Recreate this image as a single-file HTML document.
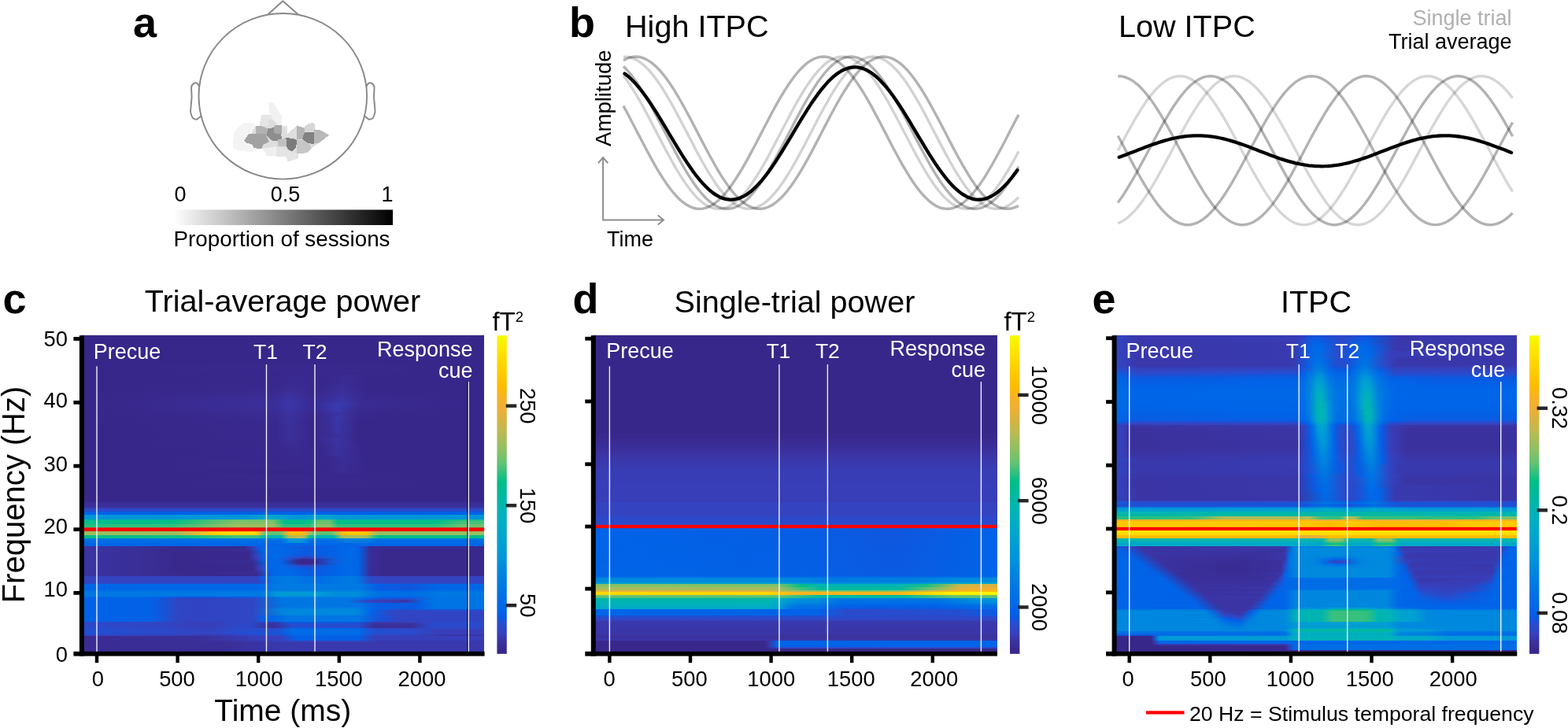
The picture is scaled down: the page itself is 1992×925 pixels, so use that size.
<!DOCTYPE html>
<html lang="en"><head><meta charset="utf-8"><title>ITPC figure</title>
<style>html,body{margin:0;padding:0;background:#fff}svg{display:block}text{font-family:"Liberation Sans", sans-serif;fill:#000}.b{font-weight:bold;font-size:54px}.t{font-size:39.6px}.k{font-size:27.4px}.w{fill:#fff;font-size:27px}.s{font-size:27px}</style>
</head><body>
<svg width="1992" height="925" viewBox="0 0 1992 925">
<rect width="1992" height="925" fill="#fff"/>
<defs>
<linearGradient id="gbar" x1="0" y1="0" x2="1" y2="0"><stop offset="0" stop-color="#fff"/><stop offset="1" stop-color="#000"/></linearGradient>
<linearGradient id="par" x1="0" y1="0" x2="0" y2="1"><stop offset="0.000" stop-color="#f5fc00"/><stop offset="0.034" stop-color="#fcec00"/><stop offset="0.071" stop-color="#ffdc00"/><stop offset="0.109" stop-color="#ffcd00"/><stop offset="0.158" stop-color="#ffbc00"/><stop offset="0.195" stop-color="#f6b226"/><stop offset="0.230" stop-color="#eeaf37"/><stop offset="0.269" stop-color="#d4b441"/><stop offset="0.294" stop-color="#c3b950"/><stop offset="0.324" stop-color="#aabc5a"/><stop offset="0.361" stop-color="#8cc064"/><stop offset="0.400" stop-color="#64c373"/><stop offset="0.425" stop-color="#3cc07d"/><stop offset="0.460" stop-color="#00be87"/><stop offset="0.504" stop-color="#00b9a0"/><stop offset="0.553" stop-color="#00b3b7"/><stop offset="0.603" stop-color="#00aac8"/><stop offset="0.652" stop-color="#00a0d2"/><stop offset="0.702" stop-color="#0094da"/><stop offset="0.739" stop-color="#0087de"/><stop offset="0.776" stop-color="#007ce1"/><stop offset="0.825" stop-color="#006ee6"/><stop offset="0.863" stop-color="#0064e8"/><stop offset="0.887" stop-color="#0c58e0"/><stop offset="0.905" stop-color="#284cce"/><stop offset="0.937" stop-color="#3740bc"/><stop offset="0.961" stop-color="#3b32a0"/><stop offset="0.986" stop-color="#39298e"/><stop offset="1.000" stop-color="#382688"/></linearGradient>
</defs>
<g id="panel-a">
<text class="b" x="169" y="46.800">a</text>
<g fill="none" stroke="#878787" stroke-width="1.900" stroke-linejoin="round">
<path d="M340.5 18.2 L359.3 1.2 L378.6 18.2"/>
<path d="M253.4 110.2 L251 106.200 Q249 104.800 246.800 105.6 Q243.500 107.3 243 111 L243.600 123.300 L242 141.500 Q242.600 146.500 245 150.2 Q247.500 151.8 250 151.8 L256 147"/>
<path d="M465.200 110.2 L467.600 106.200 Q469.600 104.800 471.800 105.6 Q475.100 107.3 475.600 111 L475 123.300 L476.600 141.500 Q476 146.500 473.600 150.2 Q471.100 151.8 468.600 151.8 L462.600 147"/>
<ellipse cx="359.300" cy="122.3" rx="106.800" ry="105.3" fill="#fff"/>
</g>
<g id="sensors" shape-rendering="crispEdges">
<polygon points="309.7,155.6 321.6,155.6 325.2,160.9 315.7,170.4 310.9,180.0 321.6,188.3 327.6,189.5 319.3,193.1 303.8,191.9 296.1,188.3 296.7,170.4 301.4,163.3" fill="#f4f4f4"/>
<polygon points="341.3,130.0 346.6,130.0 351.4,137.1 357.9,147.8 357.9,158.6 351.4,158.6 344.2,151.4 341.9,141.9" fill="#f1f1f1"/>
<polygon points="332.3,146.1 344.2,146.1 346.6,152.6 352.6,158.6 341.9,162.7 332.3,160.9 329.4,159.1" fill="#e6e6e6"/>
<polygon points="341.3,152.6 346.6,152.0 351.4,158.6 341.9,162.1" fill="#dcdcdc"/>
<polygon points="334.1,189.5 341.9,183.5 351.4,183.5 351.4,198.4 339.5,198.4" fill="#efefef"/>
<polygon points="351.4,185.9 363.3,187.1 368.0,191.9 378.7,193.1 378.7,201.4 365.7,205.5 363.3,199.0 351.4,199.0" fill="#e4e4e4"/>
<polygon points="357.9,160.3 364.5,160.3 365.1,170.4 363.3,174.6 357.9,175.2" fill="#e2e2e2"/>
<polygon points="365.1,169.9 377.0,169.9 377.0,177.6 365.1,175.2" fill="#dadada"/>
<polygon points="324.6,160.3 357.9,158.6 365.1,169.9 377.0,159.7 399.0,165.7 412.0,169.3 406.1,181.2 394.2,189.5 377.0,195.4 352.6,185.9 332.3,188.9 312.1,181.2" fill="#dedede"/>
<polygon points="324.6,160.3 332.3,160.3 340.7,163.3 339.5,171.6 325.2,170.4" fill="#b2b2b2"/>
<polygon points="315.7,170.4 337.1,170.4 341.9,180.0 334.7,183.5 332.3,188.9 322.8,188.3 320.4,183.5 312.1,181.2 310.3,178.8" fill="#a2a2a2"/>
<polygon points="347.8,159.7 357.9,158.6 357.9,170.4 347.8,169.3" fill="#a9a9a9"/>
<polygon points="340.7,163.3 347.8,162.1 347.8,169.3 357.3,170.4 357.9,178.8 346.6,178.8 344.2,177.6 338.3,171.6" fill="#8e8e8e"/>
<polygon points="352.6,177.6 363.3,175.2 364.5,185.9 352.6,185.9" fill="#c0c0c0"/>
<polygon points="363.3,174.6 376.4,177.0 377.0,182.3 375.2,188.9 371.6,191.9 367.4,191.3 364.5,187.1" fill="#7c7c7c"/>
<polygon points="377.0,177.6 387.1,178.8 394.2,183.5 395.4,189.5 391.8,193.1 384.7,195.4 377.0,195.4" fill="#c6c6c6"/>
<polygon points="377.0,159.7 387.1,162.7 387.1,169.3 384.1,176.4 377.0,177.6" fill="#b4b4b4"/>
<polygon points="387.1,159.7 397.2,155.6 400.2,158.6 400.7,166.9 387.1,166.9" fill="#d6d6d6"/>
<polygon points="399.0,165.1 406.1,165.1 412.0,168.1 418.0,171.6 412.0,176.4 406.1,181.2 399.0,182.3" fill="#b8b8b8"/>
<polygon points="387.1,168.1 399.0,168.1 399.0,183.5 389.4,181.2 384.1,176.4" fill="#828282"/>
</g>
<rect x="221" y="266.500" width="278" height="19.5" fill="url(#gbar)"/>
<text class="s" x="221.500" y="256.300">0</text>
<text class="s" x="362.500" y="256.300" text-anchor="middle">0.5</text>
<text class="s" x="499.500" y="256.300" text-anchor="end">1</text>
<text class="s" x="358" y="312.500" text-anchor="middle" style="font-size:27.8px">Proportion of sessions</text>
</g>
<g id="panel-b">
<text class="b" x="723" y="47">b</text>
<text class="t" x="794" y="47">High ITPC</text>
<text class="s" transform="translate(776 186) rotate(-90)" style="font-size:27.6px">Amplitude</text>
<g fill="none" stroke="#8e8e8e" stroke-width="2"><path d="M766.100 200.600 V279.400 H842.600"/><path d="M760 207.400 L766.100 200 L772.300 207.400"/><path d="M835.800 273.400 L843 279.400 L835.800 285.400"/></g>
<text class="s" x="771" y="312.500">Time</text>
<g fill="none" stroke-linecap="butt" stroke-linejoin="round">
<path d="M792.0 134.6 L796.2 142.3 L800.4 150.2 L804.5 158.2 L808.7 166.2 L812.9 174.3 L817.1 182.3 L821.3 190.3 L825.5 198.0 L829.6 205.6 L833.8 213.0 L838.0 220.0 L842.2 226.6 L846.4 232.9 L850.6 238.7 L854.8 244.0 L858.9 248.8 L863.1 253.1 L867.3 256.7 L871.5 259.7 L875.7 262.1 L879.9 263.9 L884.0 265.0 L888.2 265.4 L892.4 265.1 L896.6 264.2 L900.8 262.6 L905.0 260.4 L909.1 257.5 L913.3 254.0 L917.5 249.8 L921.7 245.2 L925.9 240.0 L930.0 234.3 L934.2 228.1 L938.4 221.5 L942.6 214.6 L946.8 207.3 L951.0 199.8 L955.1 192.1 L959.3 184.2 L963.5 176.1 L967.7 168.1 L971.9 160.0 L976.1 152.0 L980.2 144.1 L984.4 136.4 L988.6 128.9 L992.8 121.7 L997.0 114.8 L1001.2 108.3 L1005.4 102.2 L1009.5 96.6 L1013.7 91.5 L1017.9 86.9 L1022.1 82.9 L1026.3 79.4 L1030.5 76.7 L1034.6 74.5 L1038.8 73.0 L1043.0 72.2 L1047.2 72.0 L1051.4 72.5 L1055.5 73.7 L1059.7 75.6 L1063.9 78.1 L1068.1 81.2 L1072.3 85.0 L1076.5 89.3 L1080.7 94.2 L1084.8 99.6 L1089.0 105.5 L1093.2 111.8 L1097.4 118.5 L1101.6 125.6 L1105.8 132.9 L1109.9 140.6 L1114.1 148.4 L1118.3 156.3 L1122.5 164.4 L1126.7 172.4 L1130.8 180.5 L1135.0 188.5 L1139.2 196.3 L1143.4 203.9 L1147.6 211.3 L1151.8 218.4 L1156.0 225.2 L1160.1 231.5 L1164.3 237.4 L1168.5 242.9 L1172.7 247.8 L1176.9 252.1 L1181.0 255.9 L1185.2 259.1 L1189.4 261.7 L1193.6 263.6 L1197.8 264.8 L1202.0 265.4 L1206.2 265.3 L1210.3 264.5 L1214.5 263.0 L1218.7 260.9 L1222.9 258.2 L1227.1 254.8 L1231.2 250.8 L1235.4 246.3 L1239.6 241.2 L1243.8 235.6 L1248.0 229.6 L1252.2 223.1 L1256.3 216.2 L1260.5 209.0 L1264.7 201.5 L1268.9 193.8 L1273.1 186.0 L1277.3 178.0 L1281.5 169.9 L1285.6 161.8 L1289.8 153.8 L1294.0 145.9" stroke="#000" stroke-opacity="0.300" stroke-width="3.400"/>
<path d="M792.0 96.2 L796.2 101.8 L800.4 107.9 L804.5 114.4 L808.7 121.2 L812.9 128.4 L817.1 135.9 L821.3 143.6 L825.5 151.5 L829.6 159.5 L833.8 167.6 L838.0 175.6 L842.2 183.7 L846.4 191.6 L850.6 199.3 L854.8 206.9 L858.9 214.2 L863.1 221.1 L867.3 227.7 L871.5 233.9 L875.7 239.6 L879.9 244.9 L884.0 249.6 L888.2 253.7 L892.4 257.3 L896.6 260.2 L900.8 262.5 L905.0 264.1 L909.1 265.1 L913.3 265.4 L917.5 265.0 L921.7 264.0 L925.9 262.3 L930.0 259.9 L934.2 256.9 L938.4 253.3 L942.6 249.1 L946.8 244.3 L951.0 239.1 L955.1 233.3 L959.3 227.0 L963.5 220.4 L967.7 213.4 L971.9 206.1 L976.1 198.5 L980.2 190.8 L984.4 182.8 L988.6 174.8 L992.8 166.7 L997.0 158.7 L1001.2 150.7 L1005.4 142.8 L1009.5 135.1 L1013.7 127.7 L1017.9 120.5 L1022.1 113.7 L1026.3 107.2 L1030.5 101.2 L1034.6 95.7 L1038.8 90.7 L1043.0 86.2 L1047.2 82.2 L1051.4 78.9 L1055.5 76.2 L1059.7 74.2 L1063.9 72.8 L1068.1 72.1 L1072.3 72.1 L1076.5 72.7 L1080.7 74.0 L1084.8 76.0 L1089.0 78.6 L1093.2 81.8 L1097.4 85.6 L1101.6 90.1 L1105.8 95.0 L1109.9 100.5 L1114.1 106.5 L1118.3 112.9 L1122.5 119.7 L1126.7 126.8 L1130.8 134.2 L1135.0 141.9 L1139.2 149.7 L1143.4 157.7 L1147.6 165.7 L1151.8 173.8 L1156.0 181.8 L1160.1 189.8 L1164.3 197.6 L1168.5 205.2 L1172.7 212.5 L1176.9 219.6 L1181.0 226.2 L1185.2 232.5 L1189.4 238.4 L1193.6 243.7 L1197.8 248.5 L1202.0 252.8 L1206.2 256.5 L1210.3 259.6 L1214.5 262.0 L1218.7 263.8 L1222.9 264.9 L1227.1 265.4 L1231.2 265.2 L1235.4 264.3 L1239.6 262.7 L1243.8 260.5 L1248.0 257.7 L1252.2 254.2 L1256.3 250.1 L1260.5 245.5 L1264.7 240.3 L1268.9 234.6 L1273.1 228.5 L1277.3 221.9 L1281.5 215.0 L1285.6 207.8 L1289.8 200.3 L1294.0 192.5" stroke="#000" stroke-opacity="0.175" stroke-width="3.400"/>
<path d="M792.0 84.3 L796.2 88.5 L800.4 93.3 L804.5 98.7 L808.7 104.5 L812.9 110.7 L817.1 117.4 L821.3 124.4 L825.5 131.7 L829.6 139.3 L833.8 147.1 L838.0 155.0 L842.2 163.1 L846.4 171.1 L850.6 179.2 L854.8 187.2 L858.9 195.0 L863.1 202.7 L867.3 210.1 L871.5 217.3 L875.7 224.1 L879.9 230.5 L884.0 236.5 L888.2 242.0 L892.4 247.0 L896.6 251.5 L900.8 255.4 L905.0 258.6 L909.1 261.3 L913.3 263.3 L917.5 264.6 L921.7 265.3 L925.9 265.3 L930.0 264.6 L934.2 263.3 L938.4 261.3 L942.6 258.7 L946.8 255.4 L951.0 251.5 L955.1 247.1 L959.3 242.1 L963.5 236.6 L967.7 230.6 L971.9 224.2 L976.1 217.4 L980.2 210.2 L984.4 202.8 L988.6 195.1 L992.8 187.3 L997.0 179.3 L1001.2 171.2 L1005.4 163.2 L1009.5 155.1 L1013.7 147.2 L1017.9 139.4 L1022.1 131.8 L1026.3 124.5 L1030.5 117.5 L1034.6 110.8 L1038.8 104.5 L1043.0 98.7 L1047.2 93.4 L1051.4 88.6 L1055.5 84.4 L1059.7 80.7 L1063.9 77.7 L1068.1 75.3 L1072.3 73.5 L1076.5 72.4 L1080.7 72.0 L1084.8 72.3 L1089.0 73.2 L1093.2 74.8 L1097.4 77.0 L1101.6 79.9 L1105.8 83.4 L1109.9 87.5 L1114.1 92.2 L1118.3 97.4 L1122.5 103.1 L1126.7 109.3 L1130.8 115.8 L1135.0 122.8 L1139.2 130.0 L1143.4 137.6 L1147.6 145.3 L1151.8 153.2 L1156.0 161.2 L1160.1 169.3 L1164.3 177.4 L1168.5 185.4 L1172.7 193.3 L1176.9 201.0 L1181.0 208.5 L1185.2 215.7 L1189.4 222.6 L1193.6 229.1 L1197.8 235.2 L1202.0 240.8 L1206.2 245.9 L1210.3 250.5 L1214.5 254.5 L1218.7 257.9 L1222.9 260.7 L1227.1 262.9 L1231.2 264.4 L1235.4 265.2 L1239.6 265.4 L1243.8 264.9 L1248.0 263.7 L1252.2 261.8 L1256.3 259.3 L1260.5 256.2 L1264.7 252.5 L1268.9 248.1 L1273.1 243.3 L1277.3 237.9 L1281.5 232.0 L1285.6 225.7 L1289.8 218.9 L1294.0 211.9" stroke="#000" stroke-opacity="0.300" stroke-width="3.400"/>
<path d="M792.0 72.1 L796.2 72.1 L800.4 72.8 L804.5 74.1 L808.7 76.1 L812.9 78.8 L817.1 82.1 L821.3 85.9 L825.5 90.4 L829.6 95.4 L833.8 100.9 L838.0 106.9 L842.2 113.3 L846.4 120.2 L850.6 127.3 L854.8 134.7 L858.9 142.4 L863.1 150.3 L867.3 158.2 L871.5 166.3 L875.7 174.4 L879.9 182.4 L884.0 190.3 L888.2 198.1 L892.4 205.7 L896.6 213.0 L900.8 220.1 L905.0 226.7 L909.1 233.0 L913.3 238.8 L917.5 244.1 L921.7 248.9 L925.9 253.1 L930.0 256.7 L934.2 259.8 L938.4 262.2 L942.6 263.9 L946.8 265.0 L951.0 265.4 L955.1 265.1 L959.3 264.2 L963.5 262.6 L967.7 260.3 L971.9 257.4 L976.1 253.9 L980.2 249.8 L984.4 245.1 L988.6 239.9 L992.8 234.2 L997.0 228.0 L1001.2 221.5 L1005.4 214.5 L1009.5 207.3 L1013.7 199.7 L1017.9 192.0 L1022.1 184.1 L1026.3 176.0 L1030.5 168.0 L1034.6 159.9 L1038.8 151.9 L1043.0 144.0 L1047.2 136.3 L1051.4 128.8 L1055.5 121.6 L1059.7 114.7 L1063.9 108.2 L1068.1 102.1 L1072.3 96.5 L1076.5 91.4 L1080.7 86.8 L1084.8 82.8 L1089.0 79.4 L1093.2 76.6 L1097.4 74.5 L1101.6 73.0 L1105.8 72.2 L1109.9 72.0 L1114.1 72.6 L1118.3 73.8 L1122.5 75.6 L1126.7 78.1 L1130.8 81.3 L1135.0 85.0 L1139.2 89.3 L1143.4 94.2 L1147.6 99.6 L1151.8 105.5 L1156.0 111.9 L1160.1 118.6 L1164.3 125.7 L1168.5 133.0 L1172.7 140.6 L1176.9 148.5 L1181.0 156.4 L1185.2 164.5 L1189.4 172.5 L1193.6 180.6 L1197.8 188.6 L1202.0 196.4 L1206.2 204.0 L1210.3 211.4 L1214.5 218.5 L1218.7 225.2 L1222.9 231.6 L1227.1 237.5 L1231.2 242.9 L1235.4 247.8 L1239.6 252.2 L1243.8 256.0 L1248.0 259.1 L1252.2 261.7 L1256.3 263.6 L1260.5 264.8 L1264.7 265.4 L1268.9 265.2 L1273.1 264.5 L1277.3 263.0 L1281.5 260.9 L1285.6 258.1 L1289.8 254.8 L1294.0 250.8" stroke="#000" stroke-opacity="0.175" stroke-width="3.400"/>
<path d="M792.0 76.7 L796.2 74.5 L800.4 73.0 L804.5 72.2 L808.7 72.0 L812.9 72.5 L817.1 73.7 L821.3 75.6 L825.5 78.1 L829.6 81.2 L833.8 84.9 L838.0 89.2 L842.2 94.1 L846.4 99.5 L850.6 105.4 L854.8 111.7 L858.9 118.4 L863.1 125.5 L867.3 132.8 L871.5 140.5 L875.7 148.3 L879.9 156.2 L884.0 164.3 L888.2 172.4 L892.4 180.4 L896.6 188.4 L900.8 196.2 L905.0 203.8 L909.1 211.2 L913.3 218.3 L917.5 225.1 L921.7 231.4 L925.9 237.4 L930.0 242.8 L934.2 247.7 L938.4 252.1 L942.6 255.9 L946.8 259.1 L951.0 261.6 L955.1 263.5 L959.3 264.8 L963.5 265.4 L967.7 265.3 L971.9 264.5 L976.1 263.0 L980.2 261.0 L984.4 258.2 L988.6 254.8 L992.8 250.9 L997.0 246.3 L1001.2 241.3 L1005.4 235.7 L1009.5 229.6 L1013.7 223.2 L1017.9 216.3 L1022.1 209.1 L1026.3 201.6 L1030.5 193.9 L1034.6 186.1 L1038.8 178.1 L1043.0 170.0 L1047.2 161.9 L1051.4 153.9 L1055.5 146.0 L1059.7 138.2 L1063.9 130.7 L1068.1 123.4 L1072.3 116.4 L1076.5 109.8 L1080.7 103.6 L1084.8 97.9 L1089.0 92.6 L1093.2 87.9 L1097.4 83.8 L1101.6 80.2 L1105.8 77.3 L1109.9 75.0 L1114.1 73.3 L1118.3 72.3 L1122.5 72.0 L1126.7 72.4 L1130.8 73.4 L1135.0 75.1 L1139.2 77.4 L1143.4 80.4 L1147.6 84.0 L1151.8 88.2 L1156.0 93.0 L1160.1 98.2 L1164.3 104.0 L1168.5 110.2 L1172.7 116.9 L1176.9 123.8 L1181.0 131.1 L1185.2 138.7 L1189.4 146.5 L1193.6 154.4 L1197.8 162.4 L1202.0 170.5 L1206.2 178.6 L1210.3 186.6 L1214.5 194.4 L1218.7 202.1 L1222.9 209.6 L1227.1 216.7 L1231.2 223.6 L1235.4 230.0 L1239.6 236.1 L1243.8 241.6 L1248.0 246.7 L1252.2 251.2 L1256.3 255.1 L1260.5 258.4 L1264.7 261.1 L1268.9 263.2 L1273.1 264.6 L1277.3 265.3 L1281.5 265.3 L1285.6 264.7 L1289.8 263.4 L1294.0 261.5" stroke="#000" stroke-opacity="0.300" stroke-width="3.400"/>
<path d="M793.5 93.5 L797.7 96.7 L801.8 100.5 L806.0 104.7 L810.1 109.4 L814.3 114.5 L818.5 120.0 L822.6 125.8 L826.8 131.9 L830.9 138.3 L835.1 144.9 L839.2 151.7 L843.4 158.6 L847.6 165.5 L851.7 172.5 L855.9 179.5 L860.0 186.4 L864.2 193.2 L868.4 199.8 L872.5 206.2 L876.7 212.3 L880.8 218.2 L885.0 223.7 L889.1 228.9 L893.3 233.6 L897.5 237.9 L901.6 241.8 L905.8 245.1 L909.9 247.9 L914.1 250.2 L918.2 251.9 L922.4 253.1 L926.6 253.6 L930.7 253.6 L934.9 253.0 L939.0 251.9 L943.2 250.1 L947.4 247.9 L951.5 245.0 L955.7 241.7 L959.8 237.9 L964.0 233.5 L968.1 228.8 L972.3 223.6 L976.5 218.1 L980.6 212.2 L984.8 206.1 L988.9 199.6 L993.1 193.0 L997.3 186.2 L1001.4 179.3 L1005.6 172.4 L1009.7 165.4 L1013.9 158.4 L1018.0 151.5 L1022.2 144.8 L1026.4 138.2 L1030.5 131.8 L1034.7 125.7 L1038.8 119.9 L1043.0 114.4 L1047.2 109.3 L1051.3 104.6 L1055.5 100.4 L1059.6 96.7 L1063.8 93.4 L1068.0 90.7 L1072.1 88.5 L1076.3 86.9 L1080.4 85.8 L1084.6 85.3 L1088.7 85.4 L1092.9 86.1 L1097.1 87.4 L1101.2 89.2 L1105.4 91.6 L1109.5 94.5 L1113.7 97.9 L1117.8 101.8 L1122.0 106.2 L1126.2 111.0 L1130.3 116.2 L1134.5 121.8 L1138.6 127.8 L1142.8 134.0 L1147.0 140.4 L1151.1 147.1 L1155.3 153.9 L1159.4 160.8 L1163.6 167.8 L1167.8 174.8 L1171.9 181.7 L1176.1 188.6 L1180.2 195.3 L1184.4 201.9 L1188.5 208.2 L1192.7 214.3 L1196.9 220.0 L1201.0 225.4 L1205.2 230.5 L1209.3 235.1 L1213.5 239.2 L1217.7 242.9 L1221.8 246.1 L1226.0 248.7 L1230.1 250.8 L1234.3 252.3 L1238.4 253.3 L1242.6 253.7 L1246.8 253.5 L1250.9 252.7 L1255.1 251.4 L1259.2 249.5 L1263.4 247.0 L1267.5 244.0 L1271.7 240.5 L1275.9 236.5 L1280.0 232.1 L1284.2 227.2 L1288.3 221.9 L1292.5 216.2" stroke="#000" stroke-width="4.300" stroke-linecap="round"/>
<path d="M1420.2 96.7 L1424.4 96.9 L1428.6 97.8 L1432.7 99.3 L1436.9 101.4 L1441.1 104.2 L1445.3 107.6 L1449.4 111.5 L1453.6 116.1 L1457.8 121.1 L1462.0 126.6 L1466.2 132.6 L1470.3 139.0 L1474.5 145.7 L1478.7 152.8 L1482.9 160.1 L1487.1 167.6 L1491.2 175.3 L1495.4 183.2 L1499.6 191.0 L1503.8 198.9 L1507.9 206.7 L1512.1 214.4 L1516.3 222.0 L1520.5 229.3 L1524.7 236.4 L1528.8 243.2 L1533.0 249.6 L1537.2 255.6 L1541.4 261.1 L1545.5 266.2 L1549.7 270.7 L1553.9 274.7 L1558.1 278.1 L1562.3 280.9 L1566.4 283.0 L1570.6 284.6 L1574.8 285.5 L1579.0 285.7 L1583.2 285.3 L1587.3 284.2 L1591.5 282.5 L1595.7 280.1 L1599.9 277.1 L1604.0 273.5 L1608.2 269.4 L1612.4 264.7 L1616.6 259.5 L1620.8 253.8 L1624.9 247.7 L1629.1 241.2 L1633.3 234.3 L1637.5 227.2 L1641.7 219.8 L1645.8 212.1 L1650.0 204.4 L1654.2 196.6 L1658.4 188.7 L1662.5 180.8 L1666.7 173.0 L1670.9 165.4 L1675.1 157.9 L1679.3 150.6 L1683.4 143.6 L1687.6 137.0 L1691.8 130.7 L1696.0 124.9 L1700.1 119.5 L1704.3 114.6 L1708.5 110.3 L1712.7 106.5 L1716.9 103.3 L1721.0 100.7 L1725.2 98.8 L1729.4 97.4 L1733.6 96.8 L1737.8 96.8 L1741.9 97.4 L1746.1 98.7 L1750.3 100.7 L1754.5 103.3 L1758.6 106.4 L1762.8 110.2 L1767.0 114.6 L1771.2 119.4 L1775.4 124.8 L1779.5 130.6 L1783.7 136.9 L1787.9 143.5 L1792.1 150.5 L1796.2 157.7 L1800.4 165.2 L1804.6 172.9 L1808.8 180.7 L1813.0 188.5 L1817.1 196.4 L1821.3 204.3 L1825.5 212.0 L1829.7 219.6 L1833.9 227.0 L1838.0 234.2 L1842.2 241.1 L1846.4 247.6 L1850.6 253.7 L1854.7 259.4 L1858.9 264.6 L1863.1 269.3 L1867.3 273.5 L1871.5 277.1 L1875.6 280.0 L1879.8 282.4 L1884.0 284.2 L1888.2 285.3 L1892.4 285.7 L1896.5 285.5 L1900.7 284.6 L1904.9 283.1 L1909.1 280.9 L1913.2 278.1 L1917.4 274.7 L1921.6 270.8" stroke="#000" stroke-opacity="0.300" stroke-width="3.400"/>
<path d="M1420.2 191.2 L1424.4 183.4 L1428.6 175.6 L1432.7 167.8 L1436.9 160.3 L1441.1 153.0 L1445.3 145.9 L1449.4 139.1 L1453.6 132.7 L1457.8 126.8 L1462.0 121.2 L1466.2 116.2 L1470.3 111.7 L1474.5 107.7 L1478.7 104.3 L1482.9 101.5 L1487.1 99.3 L1491.2 97.8 L1495.4 96.9 L1499.6 96.7 L1503.8 97.1 L1507.9 98.2 L1512.1 100.0 L1516.3 102.3 L1520.5 105.3 L1524.7 108.9 L1528.8 113.1 L1533.0 117.8 L1537.2 123.0 L1541.4 128.7 L1545.5 134.8 L1549.7 141.3 L1553.9 148.2 L1558.1 155.3 L1562.3 162.8 L1566.4 170.4 L1570.6 178.1 L1574.8 186.0 L1579.0 193.8 L1583.2 201.7 L1587.3 209.5 L1591.5 217.2 L1595.7 224.6 L1599.9 231.9 L1604.0 238.9 L1608.2 245.5 L1612.4 251.7 L1616.6 257.6 L1620.8 263.0 L1624.9 267.8 L1629.1 272.2 L1633.3 275.9 L1637.5 279.1 L1641.7 281.7 L1645.8 283.7 L1650.0 285.0 L1654.2 285.6 L1658.4 285.6 L1662.5 285.0 L1666.7 283.6 L1670.9 281.7 L1675.1 279.1 L1679.3 275.9 L1683.4 272.1 L1687.6 267.8 L1691.8 262.9 L1696.0 257.5 L1700.1 251.7 L1704.3 245.4 L1708.5 238.8 L1712.7 231.8 L1716.9 224.5 L1721.0 217.1 L1725.2 209.4 L1729.4 201.6 L1733.6 193.7 L1737.8 185.9 L1741.9 178.0 L1746.1 170.3 L1750.3 162.7 L1754.5 155.3 L1758.6 148.1 L1762.8 141.2 L1767.0 134.7 L1771.2 128.6 L1775.4 122.9 L1779.5 117.7 L1783.7 113.0 L1787.9 108.9 L1792.1 105.3 L1796.2 102.3 L1800.4 99.9 L1804.6 98.2 L1808.8 97.1 L1813.0 96.7 L1817.1 96.9 L1821.3 97.8 L1825.5 99.4 L1829.7 101.5 L1833.9 104.3 L1838.0 107.7 L1842.2 111.7 L1846.4 116.2 L1850.6 121.3 L1854.7 126.8 L1858.9 132.8 L1863.1 139.2 L1867.3 146.0 L1871.5 153.0 L1875.6 160.4 L1879.8 167.9 L1884.0 175.6 L1888.2 183.5 L1892.4 191.3 L1896.5 199.2 L1900.7 207.0 L1904.9 214.7 L1909.1 222.3 L1913.2 229.6 L1917.4 236.7 L1921.6 243.4" stroke="#000" stroke-opacity="0.160" stroke-width="3.400"/>
<path d="M1420.2 257.5 L1424.4 251.6 L1428.6 245.4 L1432.7 238.7 L1436.9 231.7 L1441.1 224.5 L1445.3 217.0 L1449.4 209.3 L1453.6 201.6 L1457.8 193.7 L1462.0 185.8 L1466.2 178.0 L1470.3 170.2 L1474.5 162.6 L1478.7 155.2 L1482.9 148.1 L1487.1 141.2 L1491.2 134.7 L1495.4 128.6 L1499.6 122.9 L1503.8 117.7 L1507.9 113.0 L1512.1 108.8 L1516.3 105.3 L1520.5 102.3 L1524.7 99.9 L1528.8 98.2 L1533.0 97.1 L1537.2 96.7 L1541.4 96.9 L1545.5 97.8 L1549.7 99.4 L1553.9 101.5 L1558.1 104.3 L1562.3 107.7 L1566.4 111.7 L1570.6 116.3 L1574.8 121.3 L1579.0 126.9 L1583.2 132.9 L1587.3 139.3 L1591.5 146.0 L1595.7 153.1 L1599.9 160.4 L1604.0 168.0 L1608.2 175.7 L1612.4 183.5 L1616.6 191.4 L1620.8 199.3 L1624.9 207.1 L1629.1 214.8 L1633.3 222.3 L1637.5 229.7 L1641.7 236.7 L1645.8 243.5 L1650.0 249.8 L1654.2 255.8 L1658.4 261.3 L1662.5 266.4 L1666.7 270.9 L1670.9 274.8 L1675.1 278.2 L1679.3 281.0 L1683.4 283.1 L1687.6 284.6 L1691.8 285.5 L1696.0 285.7 L1700.1 285.2 L1704.3 284.1 L1708.5 282.4 L1712.7 280.0 L1716.9 277.0 L1721.0 273.4 L1725.2 269.2 L1729.4 264.5 L1733.6 259.2 L1737.8 253.5 L1741.9 247.4 L1746.1 240.9 L1750.3 234.0 L1754.5 226.8 L1758.6 219.4 L1762.8 211.8 L1767.0 204.0 L1771.2 196.2 L1775.4 188.3 L1779.5 180.4 L1783.7 172.7 L1787.9 165.0 L1792.1 157.5 L1796.2 150.3 L1800.4 143.3 L1804.6 136.7 L1808.8 130.5 L1813.0 124.6 L1817.1 119.3 L1821.3 114.4 L1825.5 110.1 L1829.7 106.3 L1833.9 103.2 L1838.0 100.6 L1842.2 98.7 L1846.4 97.4 L1850.6 96.8 L1854.7 96.8 L1858.9 97.5 L1863.1 98.8 L1867.3 100.8 L1871.5 103.4 L1875.6 106.6 L1879.8 110.4 L1884.0 114.8 L1888.2 119.7 L1892.4 125.1 L1896.5 130.9 L1900.7 137.2 L1904.9 143.8 L1909.1 150.8 L1913.2 158.1 L1917.4 165.6 L1921.6 173.2" stroke="#000" stroke-opacity="0.300" stroke-width="3.400"/>
<path d="M1420.2 283.8 L1424.4 281.9 L1428.6 279.4 L1432.7 276.3 L1436.9 272.5 L1441.1 268.2 L1445.3 263.4 L1449.4 258.1 L1453.6 252.3 L1457.8 246.1 L1462.0 239.5 L1466.2 232.5 L1470.3 225.3 L1474.5 217.8 L1478.7 210.2 L1482.9 202.4 L1487.1 194.5 L1491.2 186.7 L1495.4 178.8 L1499.6 171.0 L1503.8 163.4 L1507.9 156.0 L1512.1 148.8 L1516.3 141.9 L1520.5 135.4 L1524.7 129.2 L1528.8 123.5 L1533.0 118.2 L1537.2 113.5 L1541.4 109.3 L1545.5 105.6 L1549.7 102.6 L1553.9 100.2 L1558.1 98.4 L1562.3 97.2 L1566.4 96.7 L1570.6 96.9 L1574.8 97.7 L1579.0 99.2 L1583.2 101.3 L1587.3 104.0 L1591.5 107.4 L1595.7 111.3 L1599.9 115.8 L1604.0 120.8 L1608.2 126.3 L1612.4 132.2 L1616.6 138.6 L1620.8 145.3 L1624.9 152.3 L1629.1 159.6 L1633.3 167.2 L1637.5 174.9 L1641.7 182.7 L1645.8 190.5 L1650.0 198.4 L1654.2 206.3 L1658.4 214.0 L1662.5 221.5 L1666.7 228.9 L1670.9 236.0 L1675.1 242.8 L1679.3 249.2 L1683.4 255.2 L1687.6 260.8 L1691.8 265.9 L1696.0 270.4 L1700.1 274.4 L1704.3 277.9 L1708.5 280.7 L1712.7 282.9 L1716.9 284.5 L1721.0 285.4 L1725.2 285.7 L1729.4 285.3 L1733.6 284.3 L1737.8 282.6 L1741.9 280.3 L1746.1 277.3 L1750.3 273.8 L1754.5 269.7 L1758.6 265.0 L1762.8 259.8 L1767.0 254.2 L1771.2 248.1 L1775.4 241.6 L1779.5 234.7 L1783.7 227.6 L1787.9 220.2 L1792.1 212.6 L1796.2 204.9 L1800.4 197.0 L1804.6 189.2 L1808.8 181.3 L1813.0 173.5 L1817.1 165.8 L1821.3 158.3 L1825.5 151.1 L1829.7 144.1 L1833.9 137.4 L1838.0 131.1 L1842.2 125.3 L1846.4 119.8 L1850.6 114.9 L1854.7 110.5 L1858.9 106.7 L1863.1 103.5 L1867.3 100.9 L1871.5 98.9 L1875.6 97.5 L1879.8 96.8 L1884.0 96.8 L1888.2 97.4 L1892.4 98.6 L1896.5 100.5 L1900.7 103.1 L1904.9 106.2 L1909.1 110.0 L1913.2 114.3 L1917.4 119.1 L1921.6 124.5" stroke="#000" stroke-opacity="0.160" stroke-width="3.400"/>
<path d="M1420.2 172.5 L1424.4 180.3 L1428.6 188.1 L1432.7 196.0 L1436.9 203.9 L1441.1 211.6 L1445.3 219.3 L1449.4 226.7 L1453.6 233.8 L1457.8 240.7 L1462.0 247.3 L1466.2 253.4 L1470.3 259.1 L1474.5 264.4 L1478.7 269.1 L1482.9 273.3 L1487.1 276.9 L1491.2 279.9 L1495.4 282.3 L1499.6 284.1 L1503.8 285.2 L1507.9 285.7 L1512.1 285.5 L1516.3 284.7 L1520.5 283.2 L1524.7 281.0 L1528.8 278.3 L1533.0 274.9 L1537.2 271.0 L1541.4 266.5 L1545.5 261.4 L1549.7 255.9 L1553.9 250.0 L1558.1 243.6 L1562.3 236.9 L1566.4 229.8 L1570.6 222.5 L1574.8 215.0 L1579.0 207.3 L1583.2 199.4 L1587.3 191.6 L1591.5 183.7 L1595.7 175.9 L1599.9 168.1 L1604.0 160.6 L1608.2 153.2 L1612.4 146.2 L1616.6 139.4 L1620.8 133.0 L1624.9 127.0 L1629.1 121.4 L1633.3 116.4 L1637.5 111.8 L1641.7 107.8 L1645.8 104.4 L1650.0 101.6 L1654.2 99.4 L1658.4 97.9 L1662.5 97.0 L1666.7 96.7 L1670.9 97.1 L1675.1 98.2 L1679.3 99.9 L1683.4 102.2 L1687.6 105.2 L1691.8 108.8 L1696.0 112.9 L1700.1 117.6 L1704.3 122.8 L1708.5 128.5 L1712.7 134.6 L1716.9 141.1 L1721.0 147.9 L1725.2 155.1 L1729.4 162.5 L1733.6 170.1 L1737.8 177.8 L1741.9 185.6 L1746.1 193.5 L1750.3 201.4 L1754.5 209.2 L1758.6 216.9 L1762.8 224.3 L1767.0 231.6 L1771.2 238.6 L1775.4 245.2 L1779.5 251.5 L1783.7 257.4 L1787.9 262.7 L1792.1 267.6 L1796.2 272.0 L1800.4 275.8 L1804.6 279.0 L1808.8 281.6 L1813.0 283.6 L1817.1 284.9 L1821.3 285.6 L1825.5 285.6 L1829.7 285.0 L1833.9 283.7 L1838.0 281.8 L1842.2 279.2 L1846.4 276.0 L1850.6 272.3 L1854.7 268.0 L1858.9 263.1 L1863.1 257.7 L1867.3 251.9 L1871.5 245.7 L1875.6 239.0 L1879.8 232.1 L1884.0 224.8 L1888.2 217.4 L1892.4 209.7 L1896.5 201.9 L1900.7 194.1 L1904.9 186.2 L1909.1 178.3 L1913.2 170.6 L1917.4 163.0 L1921.6 155.5" stroke="#000" stroke-opacity="0.300" stroke-width="3.400"/>
<path d="M1421.7 199.7 L1425.9 198.2 L1430.0 196.7 L1434.2 195.1 L1438.3 193.5 L1442.5 191.9 L1446.6 190.3 L1450.8 188.7 L1454.9 187.1 L1459.1 185.5 L1463.2 184.0 L1467.4 182.6 L1471.5 181.2 L1475.7 179.9 L1479.8 178.6 L1484.0 177.5 L1488.2 176.4 L1492.3 175.5 L1496.5 174.7 L1500.6 174.0 L1504.8 173.4 L1508.9 172.9 L1513.1 172.6 L1517.2 172.4 L1521.4 172.3 L1525.5 172.4 L1529.7 172.6 L1533.8 172.9 L1538.0 173.4 L1542.1 173.9 L1546.3 174.7 L1550.5 175.5 L1554.6 176.4 L1558.8 177.5 L1562.9 178.6 L1567.1 179.9 L1571.2 181.2 L1575.4 182.6 L1579.5 184.0 L1583.7 185.5 L1587.8 187.1 L1592.0 188.7 L1596.1 190.3 L1600.3 191.9 L1604.4 193.5 L1608.6 195.1 L1612.8 196.7 L1616.9 198.2 L1621.1 199.7 L1625.2 201.2 L1629.4 202.6 L1633.5 203.9 L1637.7 205.1 L1641.8 206.2 L1646.0 207.3 L1650.1 208.2 L1654.3 209.0 L1658.4 209.7 L1662.6 210.3 L1666.7 210.7 L1670.9 211.1 L1675.1 211.2 L1679.2 211.3 L1683.4 211.2 L1687.5 211.0 L1691.7 210.7 L1695.8 210.2 L1700.0 209.6 L1704.1 208.9 L1708.3 208.0 L1712.4 207.1 L1716.6 206.0 L1720.7 204.8 L1724.9 203.6 L1729.0 202.3 L1733.2 200.9 L1737.4 199.4 L1741.5 197.9 L1745.7 196.3 L1749.8 194.8 L1754.0 193.1 L1758.1 191.5 L1762.3 189.9 L1766.4 188.3 L1770.6 186.7 L1774.7 185.2 L1778.9 183.7 L1783.0 182.3 L1787.2 180.9 L1791.3 179.6 L1795.5 178.4 L1799.7 177.2 L1803.8 176.2 L1808.0 175.3 L1812.1 174.5 L1816.3 173.8 L1820.4 173.2 L1824.6 172.8 L1828.7 172.5 L1832.9 172.3 L1837.0 172.3 L1841.2 172.4 L1845.3 172.6 L1849.5 173.0 L1853.6 173.5 L1857.8 174.1 L1862.0 174.8 L1866.1 175.7 L1870.3 176.7 L1874.4 177.7 L1878.6 178.9 L1882.7 180.2 L1886.9 181.5 L1891.0 182.9 L1895.2 184.4 L1899.3 185.9 L1903.5 187.4 L1907.6 189.0 L1911.8 190.6 L1915.9 192.3 L1920.1 193.9" stroke="#000" stroke-width="4.300" stroke-linecap="round"/>
</g>
<text class="t" x="1421" y="47">Low ITPC</text>
<text class="s" x="1920.500" y="32" text-anchor="end" style="fill:#b0b0b0">Single trial</text>
<text class="s" x="1920.500" y="62" text-anchor="end">Trial average</text>
</g>
<g id="panel-c">
<text class="b" x="3.5" y="397.5">c</text>
<text class="t" x="359" y="396.4" text-anchor="middle">Trial-average power</text>
<g id="heat-c" shape-rendering="crispEdges">
<defs>
<linearGradient id="gc0"><stop offset="0" stop-color="#38278a"/><stop offset="0.556" stop-color="#38278a"/><stop offset="1" stop-color="#38278a"/></linearGradient>
<linearGradient id="gc1"><stop offset="0" stop-color="#38278a"/><stop offset="0.545" stop-color="#38278a"/><stop offset="0.677" stop-color="#38278a"/><stop offset="1" stop-color="#38278a"/></linearGradient>
<linearGradient id="gc2"><stop offset="0" stop-color="#38278a"/><stop offset="0.545" stop-color="#38278b"/><stop offset="0.667" stop-color="#38278b"/><stop offset="1" stop-color="#38278a"/></linearGradient>
<linearGradient id="gc3"><stop offset="0" stop-color="#38278a"/><stop offset="0.495" stop-color="#39298d"/><stop offset="0.626" stop-color="#39298f"/><stop offset="1" stop-color="#38278a"/></linearGradient>
<linearGradient id="gc4"><stop offset="0" stop-color="#38278a"/><stop offset="0.495" stop-color="#39298d"/><stop offset="0.616" stop-color="#39288d"/><stop offset="1" stop-color="#38278a"/></linearGradient>
<linearGradient id="gc5"><stop offset="0" stop-color="#38278a"/><stop offset="0.495" stop-color="#39298e"/><stop offset="0.616" stop-color="#39298d"/><stop offset="1" stop-color="#38278a"/></linearGradient>
<linearGradient id="gc6"><stop offset="0" stop-color="#38278a"/><stop offset="0.495" stop-color="#39298e"/><stop offset="0.616" stop-color="#39298e"/><stop offset="1" stop-color="#38278a"/></linearGradient>
<linearGradient id="gc7"><stop offset="0" stop-color="#38278a"/><stop offset="0.485" stop-color="#39288c"/><stop offset="0.535" stop-color="#39288d"/><stop offset="0.616" stop-color="#39298e"/><stop offset="0.667" stop-color="#39288b"/><stop offset="1" stop-color="#38278a"/></linearGradient>
<linearGradient id="gc8"><stop offset="0" stop-color="#38278a"/><stop offset="0.485" stop-color="#39288c"/><stop offset="0.525" stop-color="#392a90"/><stop offset="0.606" stop-color="#39288c"/><stop offset="0.646" stop-color="#392b92"/><stop offset="0.768" stop-color="#38278a"/><stop offset="1" stop-color="#38278a"/></linearGradient>
<linearGradient id="gc9"><stop offset="0" stop-color="#38278a"/><stop offset="0.485" stop-color="#39288c"/><stop offset="0.525" stop-color="#392a90"/><stop offset="0.606" stop-color="#39288c"/><stop offset="0.646" stop-color="#392b92"/><stop offset="0.747" stop-color="#38278a"/><stop offset="1" stop-color="#38278a"/></linearGradient>
<linearGradient id="gc10"><stop offset="0" stop-color="#38278a"/><stop offset="0.485" stop-color="#39288d"/><stop offset="0.525" stop-color="#392a91"/><stop offset="0.606" stop-color="#39288c"/><stop offset="0.646" stop-color="#3a2b93"/><stop offset="0.737" stop-color="#38278a"/><stop offset="1" stop-color="#38278a"/></linearGradient>
<linearGradient id="gc11"><stop offset="0" stop-color="#38278a"/><stop offset="0.485" stop-color="#39288d"/><stop offset="0.525" stop-color="#392b91"/><stop offset="0.596" stop-color="#38278b"/><stop offset="0.646" stop-color="#3a2c93"/><stop offset="0.727" stop-color="#38278a"/><stop offset="1" stop-color="#38278a"/></linearGradient>
<linearGradient id="gc12"><stop offset="0" stop-color="#38278a"/><stop offset="0.485" stop-color="#39288d"/><stop offset="0.525" stop-color="#392b92"/><stop offset="0.596" stop-color="#38278b"/><stop offset="0.646" stop-color="#3a2c94"/><stop offset="0.727" stop-color="#38278a"/><stop offset="1" stop-color="#38278a"/></linearGradient>
<linearGradient id="gc13"><stop offset="0" stop-color="#38278a"/><stop offset="0.485" stop-color="#39298d"/><stop offset="0.525" stop-color="#392b92"/><stop offset="0.596" stop-color="#38278b"/><stop offset="0.646" stop-color="#3a2c95"/><stop offset="0.717" stop-color="#38278a"/><stop offset="1" stop-color="#38278a"/></linearGradient>
<linearGradient id="gc14"><stop offset="0" stop-color="#38278a"/><stop offset="0.485" stop-color="#39298d"/><stop offset="0.525" stop-color="#3a2b93"/><stop offset="0.596" stop-color="#39288b"/><stop offset="0.646" stop-color="#3a2d96"/><stop offset="0.717" stop-color="#38278a"/><stop offset="1" stop-color="#38278a"/></linearGradient>
<linearGradient id="gc15"><stop offset="0" stop-color="#38278a"/><stop offset="0.485" stop-color="#39298e"/><stop offset="0.525" stop-color="#3a2c94"/><stop offset="0.596" stop-color="#39288b"/><stop offset="0.646" stop-color="#3a2d97"/><stop offset="0.717" stop-color="#38278a"/><stop offset="1" stop-color="#38278a"/></linearGradient>
<linearGradient id="gc16"><stop offset="0" stop-color="#38278a"/><stop offset="0.485" stop-color="#39298e"/><stop offset="0.525" stop-color="#3a2c94"/><stop offset="0.596" stop-color="#39288c"/><stop offset="0.646" stop-color="#3a2e98"/><stop offset="0.707" stop-color="#38278b"/><stop offset="1" stop-color="#38278a"/></linearGradient>
<linearGradient id="gc17"><stop offset="0" stop-color="#38278a"/><stop offset="0.485" stop-color="#392a8f"/><stop offset="0.525" stop-color="#3a2d95"/><stop offset="0.596" stop-color="#39288c"/><stop offset="0.646" stop-color="#3a2f99"/><stop offset="0.707" stop-color="#39288b"/><stop offset="1" stop-color="#38278a"/></linearGradient>
<linearGradient id="gc18"><stop offset="0" stop-color="#38278a"/><stop offset="0.485" stop-color="#392a90"/><stop offset="0.525" stop-color="#3a2d97"/><stop offset="0.586" stop-color="#39288c"/><stop offset="0.646" stop-color="#3a2f9a"/><stop offset="0.707" stop-color="#39288c"/><stop offset="1" stop-color="#38278a"/></linearGradient>
<linearGradient id="gc19"><stop offset="0" stop-color="#38278a"/><stop offset="0.485" stop-color="#392b91"/><stop offset="0.515" stop-color="#3b309c"/><stop offset="0.576" stop-color="#39288c"/><stop offset="0.646" stop-color="#3b309c"/><stop offset="0.707" stop-color="#39288c"/><stop offset="1" stop-color="#38278a"/></linearGradient>
<linearGradient id="gc20"><stop offset="0" stop-color="#38278a"/><stop offset="0.485" stop-color="#3a2b93"/><stop offset="0.515" stop-color="#3b319e"/><stop offset="0.576" stop-color="#39298d"/><stop offset="0.646" stop-color="#3b319e"/><stop offset="0.697" stop-color="#39288d"/><stop offset="1" stop-color="#38278a"/></linearGradient>
<linearGradient id="gc21"><stop offset="0" stop-color="#38278a"/><stop offset="0.485" stop-color="#3a2c94"/><stop offset="0.515" stop-color="#3b32a0"/><stop offset="0.576" stop-color="#39298e"/><stop offset="0.646" stop-color="#3b32a0"/><stop offset="0.697" stop-color="#39298e"/><stop offset="1" stop-color="#38278a"/></linearGradient>
<linearGradient id="gc22"><stop offset="0" stop-color="#38278a"/><stop offset="0.485" stop-color="#3a2d96"/><stop offset="0.515" stop-color="#3b33a2"/><stop offset="0.576" stop-color="#39298f"/><stop offset="0.646" stop-color="#3b33a3"/><stop offset="0.697" stop-color="#39298f"/><stop offset="1" stop-color="#38278a"/></linearGradient>
<linearGradient id="gc23"><stop offset="0" stop-color="#38278a"/><stop offset="0.485" stop-color="#3a2d97"/><stop offset="0.515" stop-color="#3a34a5"/><stop offset="0.576" stop-color="#392a90"/><stop offset="0.646" stop-color="#3a35a5"/><stop offset="0.697" stop-color="#392a90"/><stop offset="1" stop-color="#38278b"/></linearGradient>
<linearGradient id="gc24"><stop offset="0" stop-color="#38278a"/><stop offset="0.485" stop-color="#3a2e98"/><stop offset="0.515" stop-color="#3a35a7"/><stop offset="0.576" stop-color="#392b91"/><stop offset="0.646" stop-color="#3a36a7"/><stop offset="0.697" stop-color="#392a91"/><stop offset="1" stop-color="#38278b"/></linearGradient>
<linearGradient id="gc25"><stop offset="0" stop-color="#38278a"/><stop offset="0.485" stop-color="#3a2e99"/><stop offset="0.515" stop-color="#3a36a8"/><stop offset="0.576" stop-color="#392b92"/><stop offset="0.646" stop-color="#3a37a9"/><stop offset="0.697" stop-color="#392b92"/><stop offset="1" stop-color="#38278b"/></linearGradient>
<linearGradient id="gc26"><stop offset="0" stop-color="#38278a"/><stop offset="0.485" stop-color="#3a2e99"/><stop offset="0.515" stop-color="#3a36a9"/><stop offset="0.576" stop-color="#392b92"/><stop offset="0.636" stop-color="#393bb1"/><stop offset="0.697" stop-color="#392b92"/><stop offset="1" stop-color="#38278b"/></linearGradient>
<linearGradient id="gc27"><stop offset="0" stop-color="#38278a"/><stop offset="0.485" stop-color="#3a2e99"/><stop offset="0.515" stop-color="#3a36a9"/><stop offset="0.576" stop-color="#392b91"/><stop offset="0.636" stop-color="#393bb1"/><stop offset="0.697" stop-color="#392b91"/><stop offset="1" stop-color="#38278b"/></linearGradient>
<linearGradient id="gc28"><stop offset="0" stop-color="#38278a"/><stop offset="0.485" stop-color="#3a2e98"/><stop offset="0.515" stop-color="#3a36a8"/><stop offset="0.576" stop-color="#392a91"/><stop offset="0.636" stop-color="#393bb1"/><stop offset="0.687" stop-color="#392b91"/><stop offset="1" stop-color="#38278b"/></linearGradient>
<linearGradient id="gc29"><stop offset="0" stop-color="#38278a"/><stop offset="0.485" stop-color="#3a2e97"/><stop offset="0.515" stop-color="#3a35a7"/><stop offset="0.576" stop-color="#392a90"/><stop offset="0.636" stop-color="#393ab0"/><stop offset="0.687" stop-color="#392a90"/><stop offset="1" stop-color="#38278b"/></linearGradient>
<linearGradient id="gc30"><stop offset="0" stop-color="#38278a"/><stop offset="0.485" stop-color="#3a2d96"/><stop offset="0.515" stop-color="#3a35a5"/><stop offset="0.576" stop-color="#39298f"/><stop offset="0.636" stop-color="#393aaf"/><stop offset="0.687" stop-color="#39298f"/><stop offset="1" stop-color="#38278a"/></linearGradient>
<linearGradient id="gc31"><stop offset="0" stop-color="#38278a"/><stop offset="0.485" stop-color="#3a2c95"/><stop offset="0.515" stop-color="#3b34a3"/><stop offset="0.576" stop-color="#39298e"/><stop offset="0.636" stop-color="#3939ae"/><stop offset="0.687" stop-color="#39298e"/><stop offset="1" stop-color="#38278a"/></linearGradient>
<linearGradient id="gc32"><stop offset="0" stop-color="#38278a"/><stop offset="0.485" stop-color="#3a2c93"/><stop offset="0.515" stop-color="#3b33a1"/><stop offset="0.576" stop-color="#39288d"/><stop offset="0.616" stop-color="#3b309c"/><stop offset="0.646" stop-color="#3a34a4"/><stop offset="0.687" stop-color="#39298d"/><stop offset="1" stop-color="#38278a"/></linearGradient>
<linearGradient id="gc33"><stop offset="0" stop-color="#38278a"/><stop offset="0.485" stop-color="#392b92"/><stop offset="0.515" stop-color="#3b32a0"/><stop offset="0.576" stop-color="#39288c"/><stop offset="0.616" stop-color="#3a2f9b"/><stop offset="0.646" stop-color="#3b33a3"/><stop offset="0.687" stop-color="#39288c"/><stop offset="1" stop-color="#38278a"/></linearGradient>
<linearGradient id="gc34"><stop offset="0" stop-color="#38278a"/><stop offset="0.485" stop-color="#392b91"/><stop offset="0.515" stop-color="#3b319f"/><stop offset="0.576" stop-color="#39288c"/><stop offset="0.616" stop-color="#3a2f9a"/><stop offset="0.636" stop-color="#3a37a9"/><stop offset="0.687" stop-color="#39288c"/><stop offset="1" stop-color="#38278a"/></linearGradient>
<linearGradient id="gc35"><stop offset="0" stop-color="#38278a"/><stop offset="0.485" stop-color="#392a90"/><stop offset="0.515" stop-color="#3b319e"/><stop offset="0.576" stop-color="#39288b"/><stop offset="0.616" stop-color="#3a2e99"/><stop offset="0.636" stop-color="#3a36a8"/><stop offset="0.687" stop-color="#39288b"/><stop offset="1" stop-color="#38278a"/></linearGradient>
<linearGradient id="gc36"><stop offset="0" stop-color="#38278a"/><stop offset="0.485" stop-color="#392a90"/><stop offset="0.515" stop-color="#3b319d"/><stop offset="0.576" stop-color="#38278b"/><stop offset="0.616" stop-color="#3a2e98"/><stop offset="0.636" stop-color="#3a36a8"/><stop offset="0.687" stop-color="#38278b"/><stop offset="1" stop-color="#38278a"/></linearGradient>
<linearGradient id="gc37"><stop offset="0" stop-color="#38278a"/><stop offset="0.485" stop-color="#392a8f"/><stop offset="0.515" stop-color="#3b309d"/><stop offset="0.576" stop-color="#38278a"/><stop offset="0.616" stop-color="#3a2e98"/><stop offset="0.636" stop-color="#3a36a7"/><stop offset="0.687" stop-color="#38278b"/><stop offset="1" stop-color="#38278a"/></linearGradient>
<linearGradient id="gc38"><stop offset="0" stop-color="#38278a"/><stop offset="0.485" stop-color="#39298f"/><stop offset="0.515" stop-color="#3b309c"/><stop offset="0.576" stop-color="#38278a"/><stop offset="0.616" stop-color="#3a2e98"/><stop offset="0.636" stop-color="#3a35a7"/><stop offset="0.687" stop-color="#38278a"/><stop offset="1" stop-color="#38278a"/></linearGradient>
<linearGradient id="gc39"><stop offset="0" stop-color="#38278a"/><stop offset="0.485" stop-color="#39298f"/><stop offset="0.515" stop-color="#3b309c"/><stop offset="0.576" stop-color="#38278a"/><stop offset="0.616" stop-color="#3a2e98"/><stop offset="0.636" stop-color="#3a35a6"/><stop offset="0.687" stop-color="#38278a"/><stop offset="1" stop-color="#38278a"/></linearGradient>
<linearGradient id="gc40"><stop offset="0" stop-color="#38278a"/><stop offset="0.485" stop-color="#39298e"/><stop offset="0.515" stop-color="#3a309b"/><stop offset="0.576" stop-color="#38278a"/><stop offset="0.616" stop-color="#3a2e97"/><stop offset="0.636" stop-color="#3a35a6"/><stop offset="0.687" stop-color="#38278a"/><stop offset="1" stop-color="#38278a"/></linearGradient>
<linearGradient id="gc41"><stop offset="0" stop-color="#38278a"/><stop offset="0.485" stop-color="#39298e"/><stop offset="0.515" stop-color="#3a2f9b"/><stop offset="0.576" stop-color="#38278a"/><stop offset="0.616" stop-color="#3a2e97"/><stop offset="0.636" stop-color="#3a35a6"/><stop offset="0.687" stop-color="#38278a"/><stop offset="1" stop-color="#38278a"/></linearGradient>
<linearGradient id="gc42"><stop offset="0" stop-color="#38278a"/><stop offset="0.485" stop-color="#39298e"/><stop offset="0.515" stop-color="#3a2f9b"/><stop offset="0.576" stop-color="#38278a"/><stop offset="0.616" stop-color="#3a2e97"/><stop offset="0.636" stop-color="#3a35a5"/><stop offset="0.687" stop-color="#38278a"/><stop offset="1" stop-color="#38278a"/></linearGradient>
<linearGradient id="gc43"><stop offset="0" stop-color="#38278a"/><stop offset="0.485" stop-color="#39298e"/><stop offset="0.515" stop-color="#3a2f9a"/><stop offset="0.576" stop-color="#38278a"/><stop offset="0.616" stop-color="#3a2d97"/><stop offset="0.636" stop-color="#3a34a5"/><stop offset="0.687" stop-color="#38278a"/><stop offset="1" stop-color="#38278a"/></linearGradient>
<linearGradient id="gc44"><stop offset="0" stop-color="#38278a"/><stop offset="0.485" stop-color="#39298e"/><stop offset="0.515" stop-color="#3a2f9a"/><stop offset="0.576" stop-color="#38278a"/><stop offset="0.616" stop-color="#3a2d97"/><stop offset="0.646" stop-color="#3b319e"/><stop offset="0.687" stop-color="#38278a"/><stop offset="1" stop-color="#38278a"/></linearGradient>
<linearGradient id="gc45"><stop offset="0" stop-color="#38278a"/><stop offset="0.485" stop-color="#39298e"/><stop offset="0.515" stop-color="#3a2f99"/><stop offset="0.576" stop-color="#38278a"/><stop offset="0.616" stop-color="#3a2d96"/><stop offset="0.646" stop-color="#3b319e"/><stop offset="0.687" stop-color="#38278a"/><stop offset="1" stop-color="#38278a"/></linearGradient>
<linearGradient id="gc46"><stop offset="0" stop-color="#38278a"/><stop offset="0.485" stop-color="#39298e"/><stop offset="0.515" stop-color="#3a2e99"/><stop offset="0.576" stop-color="#38278a"/><stop offset="0.636" stop-color="#3b34a3"/><stop offset="0.687" stop-color="#38278a"/><stop offset="1" stop-color="#38278a"/></linearGradient>
<linearGradient id="gc47"><stop offset="0" stop-color="#38278a"/><stop offset="0.485" stop-color="#39298e"/><stop offset="0.515" stop-color="#3a2e99"/><stop offset="0.576" stop-color="#38278a"/><stop offset="0.636" stop-color="#3b33a2"/><stop offset="0.687" stop-color="#38278a"/><stop offset="1" stop-color="#38278a"/></linearGradient>
<linearGradient id="gc48"><stop offset="0" stop-color="#38278a"/><stop offset="0.485" stop-color="#39298d"/><stop offset="0.515" stop-color="#3a2e98"/><stop offset="0.576" stop-color="#38278a"/><stop offset="0.636" stop-color="#3b33a2"/><stop offset="0.687" stop-color="#38278a"/><stop offset="1" stop-color="#38278a"/></linearGradient>
<linearGradient id="gc49"><stop offset="0" stop-color="#38278a"/><stop offset="0.485" stop-color="#39298d"/><stop offset="0.525" stop-color="#3a2c93"/><stop offset="0.586" stop-color="#38278a"/><stop offset="0.636" stop-color="#3b32a1"/><stop offset="0.697" stop-color="#38278a"/><stop offset="1" stop-color="#38278a"/></linearGradient>
<linearGradient id="gc50"><stop offset="0" stop-color="#38278a"/><stop offset="0.485" stop-color="#39298d"/><stop offset="0.525" stop-color="#3a2c93"/><stop offset="0.586" stop-color="#38278a"/><stop offset="0.636" stop-color="#3b32a0"/><stop offset="0.697" stop-color="#38278a"/><stop offset="1" stop-color="#38278a"/></linearGradient>
<linearGradient id="gc51"><stop offset="0" stop-color="#38278a"/><stop offset="0.485" stop-color="#39298d"/><stop offset="0.525" stop-color="#3a2b93"/><stop offset="0.596" stop-color="#39288b"/><stop offset="0.636" stop-color="#3b32a0"/><stop offset="0.697" stop-color="#38278a"/><stop offset="1" stop-color="#38278a"/></linearGradient>
<linearGradient id="gc52"><stop offset="0" stop-color="#38278a"/><stop offset="0.485" stop-color="#39298d"/><stop offset="0.525" stop-color="#392b92"/><stop offset="0.596" stop-color="#39288b"/><stop offset="0.636" stop-color="#3b329f"/><stop offset="0.697" stop-color="#38278a"/><stop offset="1" stop-color="#38278a"/></linearGradient>
<linearGradient id="gc53"><stop offset="0" stop-color="#38278a"/><stop offset="0.485" stop-color="#39288d"/><stop offset="0.525" stop-color="#392b92"/><stop offset="0.596" stop-color="#39288b"/><stop offset="0.636" stop-color="#3b319e"/><stop offset="0.697" stop-color="#38278a"/><stop offset="1" stop-color="#38278a"/></linearGradient>
<linearGradient id="gc54"><stop offset="0" stop-color="#38278a"/><stop offset="0.485" stop-color="#39288d"/><stop offset="0.525" stop-color="#392b92"/><stop offset="0.596" stop-color="#38278b"/><stop offset="0.636" stop-color="#3b319e"/><stop offset="0.697" stop-color="#38278a"/><stop offset="1" stop-color="#38278a"/></linearGradient>
<linearGradient id="gc55"><stop offset="0" stop-color="#38278a"/><stop offset="0.485" stop-color="#39288d"/><stop offset="0.525" stop-color="#392b91"/><stop offset="0.596" stop-color="#38278b"/><stop offset="0.636" stop-color="#3b319d"/><stop offset="0.697" stop-color="#38278a"/><stop offset="1" stop-color="#38278a"/></linearGradient>
<linearGradient id="gc56"><stop offset="0" stop-color="#38278a"/><stop offset="0.485" stop-color="#39288d"/><stop offset="0.525" stop-color="#392a91"/><stop offset="0.596" stop-color="#38278b"/><stop offset="0.636" stop-color="#3b309d"/><stop offset="0.697" stop-color="#38278a"/><stop offset="1" stop-color="#38278a"/></linearGradient>
<linearGradient id="gc57"><stop offset="0" stop-color="#38278a"/><stop offset="0.485" stop-color="#39288d"/><stop offset="0.525" stop-color="#392a90"/><stop offset="0.596" stop-color="#38278b"/><stop offset="0.636" stop-color="#3b309c"/><stop offset="0.697" stop-color="#38278a"/><stop offset="1" stop-color="#38278a"/></linearGradient>
<linearGradient id="gc58"><stop offset="0" stop-color="#38278a"/><stop offset="0.485" stop-color="#39288c"/><stop offset="0.525" stop-color="#392a90"/><stop offset="0.596" stop-color="#38278b"/><stop offset="0.646" stop-color="#3a2e98"/><stop offset="0.707" stop-color="#38278a"/><stop offset="1" stop-color="#38278a"/></linearGradient>
<linearGradient id="gc59"><stop offset="0" stop-color="#38278a"/><stop offset="0.485" stop-color="#39288c"/><stop offset="0.525" stop-color="#392a90"/><stop offset="0.606" stop-color="#39288d"/><stop offset="0.646" stop-color="#3a2e97"/><stop offset="0.707" stop-color="#38278a"/><stop offset="1" stop-color="#38278a"/></linearGradient>
<linearGradient id="gc60"><stop offset="0" stop-color="#38278a"/><stop offset="0.495" stop-color="#39298f"/><stop offset="0.606" stop-color="#39288d"/><stop offset="0.646" stop-color="#3a2d97"/><stop offset="0.707" stop-color="#38278a"/><stop offset="1" stop-color="#38278a"/></linearGradient>
<linearGradient id="gc61"><stop offset="0" stop-color="#38278a"/><stop offset="0.495" stop-color="#39298e"/><stop offset="0.606" stop-color="#39288d"/><stop offset="0.646" stop-color="#3a2d96"/><stop offset="0.707" stop-color="#38278a"/><stop offset="1" stop-color="#38278a"/></linearGradient>
<linearGradient id="gc62"><stop offset="0" stop-color="#38278a"/><stop offset="0.495" stop-color="#39298e"/><stop offset="0.606" stop-color="#39288d"/><stop offset="0.646" stop-color="#3a2d95"/><stop offset="0.717" stop-color="#38278a"/><stop offset="1" stop-color="#38278a"/></linearGradient>
<linearGradient id="gc63"><stop offset="0" stop-color="#38278a"/><stop offset="0.495" stop-color="#39298e"/><stop offset="0.606" stop-color="#39288c"/><stop offset="0.646" stop-color="#3a2c95"/><stop offset="0.717" stop-color="#38278a"/><stop offset="1" stop-color="#38278a"/></linearGradient>
<linearGradient id="gc64"><stop offset="0" stop-color="#38278a"/><stop offset="0.495" stop-color="#39298e"/><stop offset="0.606" stop-color="#39288c"/><stop offset="0.646" stop-color="#3a2c94"/><stop offset="0.717" stop-color="#38278a"/><stop offset="1" stop-color="#38278a"/></linearGradient>
<linearGradient id="gc65"><stop offset="0" stop-color="#38278a"/><stop offset="0.495" stop-color="#39298d"/><stop offset="0.606" stop-color="#39288c"/><stop offset="0.646" stop-color="#3a2c94"/><stop offset="0.727" stop-color="#38278a"/><stop offset="1" stop-color="#38278a"/></linearGradient>
<linearGradient id="gc66"><stop offset="0" stop-color="#38278a"/><stop offset="0.495" stop-color="#39298d"/><stop offset="0.606" stop-color="#39288c"/><stop offset="0.646" stop-color="#3a2c93"/><stop offset="0.737" stop-color="#38278a"/><stop offset="1" stop-color="#38278a"/></linearGradient>
<linearGradient id="gc67"><stop offset="0" stop-color="#38278a"/><stop offset="0.545" stop-color="#38278b"/><stop offset="0.646" stop-color="#3a2b93"/><stop offset="0.737" stop-color="#38278a"/><stop offset="1" stop-color="#38278a"/></linearGradient>
<linearGradient id="gc68"><stop offset="0" stop-color="#38278a"/><stop offset="0.545" stop-color="#38278a"/><stop offset="0.646" stop-color="#392b92"/><stop offset="0.758" stop-color="#38278a"/><stop offset="1" stop-color="#38278a"/></linearGradient>
<linearGradient id="gc69"><stop offset="0" stop-color="#38278a"/><stop offset="0.616" stop-color="#39298e"/><stop offset="0.657" stop-color="#39298e"/><stop offset="1" stop-color="#38278a"/></linearGradient>
<linearGradient id="gc70"><stop offset="0" stop-color="#38278a"/><stop offset="0.616" stop-color="#39298e"/><stop offset="0.667" stop-color="#39288b"/><stop offset="1" stop-color="#38278a"/></linearGradient>
<linearGradient id="gc71"><stop offset="0" stop-color="#38278a"/><stop offset="0.616" stop-color="#39298e"/><stop offset="1" stop-color="#38278a"/></linearGradient>
<linearGradient id="gc72"><stop offset="0" stop-color="#38278a"/><stop offset="0.616" stop-color="#39298d"/><stop offset="1" stop-color="#38278a"/></linearGradient>
<linearGradient id="gc73"><stop offset="0" stop-color="#38278a"/><stop offset="0.616" stop-color="#39288d"/><stop offset="1" stop-color="#38278a"/></linearGradient>
<linearGradient id="gc74"><stop offset="0" stop-color="#38278a"/><stop offset="0.626" stop-color="#39298e"/><stop offset="1" stop-color="#38278a"/></linearGradient>
<linearGradient id="gc75"><stop offset="0" stop-color="#38278a"/><stop offset="0.677" stop-color="#38278a"/><stop offset="1" stop-color="#38278a"/></linearGradient>
<linearGradient id="gc76"><stop offset="0" stop-color="#0094da"/><stop offset="0.414" stop-color="#0096d9"/><stop offset="0.465" stop-color="#00a6cc"/><stop offset="0.485" stop-color="#00a4ce"/><stop offset="0.525" stop-color="#0096d9"/><stop offset="0.556" stop-color="#0096d8"/><stop offset="0.596" stop-color="#00a6cc"/><stop offset="0.616" stop-color="#00a2d0"/><stop offset="0.646" stop-color="#0096d9"/><stop offset="1" stop-color="#0094da"/></linearGradient>
<linearGradient id="gc77"><stop offset="0" stop-color="#00bb98"/><stop offset="0.222" stop-color="#00bc92"/><stop offset="0.384" stop-color="#68c371"/><stop offset="0.475" stop-color="#6bc270"/><stop offset="0.505" stop-color="#00bc93"/><stop offset="0.566" stop-color="#00bb94"/><stop offset="0.586" stop-color="#4fc178"/><stop offset="0.616" stop-color="#52c278"/><stop offset="0.636" stop-color="#00bc92"/><stop offset="0.879" stop-color="#00bb94"/><stop offset="0.949" stop-color="#1fbf82"/><stop offset="1" stop-color="#1fbf82"/></linearGradient>
<linearGradient id="gc78"><stop offset="0" stop-color="#00bd8d"/><stop offset="0.222" stop-color="#01be87"/><stop offset="0.384" stop-color="#81c168"/><stop offset="0.475" stop-color="#80c168"/><stop offset="0.505" stop-color="#00be89"/><stop offset="0.566" stop-color="#00be89"/><stop offset="0.586" stop-color="#6bc270"/><stop offset="0.616" stop-color="#6dc270"/><stop offset="0.636" stop-color="#00be88"/><stop offset="0.879" stop-color="#00be89"/><stop offset="0.949" stop-color="#44c17b"/><stop offset="1" stop-color="#44c17b"/></linearGradient>
<linearGradient id="gc79"><stop offset="0" stop-color="#00bd8b"/><stop offset="0.222" stop-color="#05be86"/><stop offset="0.384" stop-color="#84c167"/><stop offset="0.475" stop-color="#83c168"/><stop offset="0.505" stop-color="#00be88"/><stop offset="0.566" stop-color="#00be88"/><stop offset="0.586" stop-color="#6ec26f"/><stop offset="0.616" stop-color="#6fc26f"/><stop offset="0.636" stop-color="#02be87"/><stop offset="0.879" stop-color="#00be87"/><stop offset="0.949" stop-color="#48c17a"/><stop offset="1" stop-color="#48c17a"/></linearGradient>
<linearGradient id="gc80"><stop offset="0" stop-color="#22bf81"/><stop offset="0.222" stop-color="#34c07e"/><stop offset="0.384" stop-color="#9cbe5f"/><stop offset="0.475" stop-color="#9bbe5f"/><stop offset="0.505" stop-color="#2dc07f"/><stop offset="0.566" stop-color="#2cbf80"/><stop offset="0.586" stop-color="#8ac065"/><stop offset="0.616" stop-color="#8cc064"/><stop offset="0.636" stop-color="#30c07f"/><stop offset="0.879" stop-color="#2ec07f"/><stop offset="0.949" stop-color="#6ec26f"/><stop offset="1" stop-color="#6ec26f"/></linearGradient>
<linearGradient id="gc81"><stop offset="0" stop-color="#22bf81"/><stop offset="0.222" stop-color="#34c07e"/><stop offset="0.384" stop-color="#9cbe5f"/><stop offset="0.475" stop-color="#9bbe5f"/><stop offset="0.505" stop-color="#2dc07f"/><stop offset="0.566" stop-color="#2cbf80"/><stop offset="0.586" stop-color="#8ac065"/><stop offset="0.616" stop-color="#8bc064"/><stop offset="0.636" stop-color="#30c07f"/><stop offset="0.879" stop-color="#2ec07f"/><stop offset="0.949" stop-color="#6ec26f"/><stop offset="1" stop-color="#6ec26f"/></linearGradient>
<linearGradient id="gc82"><stop offset="0" stop-color="#86c066"/><stop offset="0.232" stop-color="#8cc064"/><stop offset="0.283" stop-color="#ceb646"/><stop offset="0.333" stop-color="#f9b51a"/><stop offset="0.384" stop-color="#fdba09"/><stop offset="0.424" stop-color="#fdba09"/><stop offset="0.434" stop-color="#fab616"/><stop offset="0.444" stop-color="#baba54"/><stop offset="0.455" stop-color="#5bc275"/><stop offset="0.485" stop-color="#52c277"/><stop offset="0.495" stop-color="#69c371"/><stop offset="0.515" stop-color="#e7b03a"/><stop offset="0.535" stop-color="#efaf35"/><stop offset="0.545" stop-color="#efaf35"/><stop offset="0.556" stop-color="#d3b442"/><stop offset="0.566" stop-color="#93bf62"/><stop offset="0.576" stop-color="#65c373"/><stop offset="0.616" stop-color="#53c277"/><stop offset="0.626" stop-color="#6dc270"/><stop offset="0.646" stop-color="#e8b039"/><stop offset="0.657" stop-color="#f4b12a"/><stop offset="0.707" stop-color="#f2b02f"/><stop offset="0.727" stop-color="#a2bd5d"/><stop offset="0.737" stop-color="#86c066"/><stop offset="1" stop-color="#86c066"/></linearGradient>
<linearGradient id="gc83"><stop offset="0" stop-color="#9dbe5e"/><stop offset="0.232" stop-color="#a3bd5c"/><stop offset="0.273" stop-color="#e1b13c"/><stop offset="0.333" stop-color="#ffd300"/><stop offset="0.364" stop-color="#ffdc00"/><stop offset="0.424" stop-color="#ffdc00"/><stop offset="0.434" stop-color="#ffd500"/><stop offset="0.444" stop-color="#dcb23e"/><stop offset="0.455" stop-color="#6cc270"/><stop offset="0.485" stop-color="#64c373"/><stop offset="0.495" stop-color="#7ac16b"/><stop offset="0.515" stop-color="#fcb90d"/><stop offset="0.525" stop-color="#ffbf00"/><stop offset="0.545" stop-color="#ffbf00"/><stop offset="0.556" stop-color="#f3b12d"/><stop offset="0.566" stop-color="#adbc59"/><stop offset="0.576" stop-color="#74c26d"/><stop offset="0.596" stop-color="#64c373"/><stop offset="0.616" stop-color="#65c373"/><stop offset="0.626" stop-color="#7fc169"/><stop offset="0.646" stop-color="#fdb90a"/><stop offset="0.657" stop-color="#ffc900"/><stop offset="0.697" stop-color="#ffc900"/><stop offset="0.707" stop-color="#ffc400"/><stop offset="0.727" stop-color="#c2b951"/><stop offset="0.737" stop-color="#9dbe5e"/><stop offset="1" stop-color="#9dbe5e"/></linearGradient>
<linearGradient id="gc84"><stop offset="0" stop-color="#95bf61"/><stop offset="0.232" stop-color="#9bbe5f"/><stop offset="0.273" stop-color="#dab33f"/><stop offset="0.333" stop-color="#ffce00"/><stop offset="0.364" stop-color="#ffd700"/><stop offset="0.424" stop-color="#ffd700"/><stop offset="0.434" stop-color="#ffd000"/><stop offset="0.444" stop-color="#d4b441"/><stop offset="0.455" stop-color="#5fc374"/><stop offset="0.485" stop-color="#53c277"/><stop offset="0.495" stop-color="#6fc26f"/><stop offset="0.515" stop-color="#f9b618"/><stop offset="0.525" stop-color="#febb02"/><stop offset="0.545" stop-color="#febb03"/><stop offset="0.556" stop-color="#f0b032"/><stop offset="0.566" stop-color="#a5bd5c"/><stop offset="0.576" stop-color="#69c371"/><stop offset="0.596" stop-color="#53c277"/><stop offset="0.616" stop-color="#54c277"/><stop offset="0.626" stop-color="#74c26d"/><stop offset="0.646" stop-color="#fab615"/><stop offset="0.657" stop-color="#ffc500"/><stop offset="0.697" stop-color="#ffc500"/><stop offset="0.707" stop-color="#ffc000"/><stop offset="0.727" stop-color="#b9ba54"/><stop offset="0.737" stop-color="#95bf61"/><stop offset="1" stop-color="#95bf61"/></linearGradient>
<linearGradient id="gc85"><stop offset="0" stop-color="#00be87"/><stop offset="0.263" stop-color="#10bf84"/><stop offset="0.384" stop-color="#44c17b"/><stop offset="0.434" stop-color="#3ec07c"/><stop offset="0.455" stop-color="#00b5b0"/><stop offset="0.485" stop-color="#00b3b6"/><stop offset="0.495" stop-color="#00b7a8"/><stop offset="0.515" stop-color="#b0bb58"/><stop offset="0.535" stop-color="#beba52"/><stop offset="0.545" stop-color="#beba52"/><stop offset="0.556" stop-color="#95bf61"/><stop offset="0.566" stop-color="#0ebe85"/><stop offset="0.576" stop-color="#00b6ab"/><stop offset="0.586" stop-color="#00b3b6"/><stop offset="0.616" stop-color="#00b3b5"/><stop offset="0.626" stop-color="#00b7a8"/><stop offset="0.646" stop-color="#95bf61"/><stop offset="0.657" stop-color="#adbc59"/><stop offset="0.707" stop-color="#a6bd5b"/><stop offset="0.727" stop-color="#30c07f"/><stop offset="0.737" stop-color="#00be87"/><stop offset="1" stop-color="#00be87"/></linearGradient>
<linearGradient id="gc86"><stop offset="0" stop-color="#00be87"/><stop offset="0.263" stop-color="#10bf84"/><stop offset="0.384" stop-color="#44c17b"/><stop offset="0.434" stop-color="#3ec07c"/><stop offset="0.455" stop-color="#00b5b0"/><stop offset="0.485" stop-color="#00b3b6"/><stop offset="0.495" stop-color="#00b7a8"/><stop offset="0.515" stop-color="#afbb58"/><stop offset="0.535" stop-color="#beba52"/><stop offset="0.545" stop-color="#beba52"/><stop offset="0.556" stop-color="#95bf61"/><stop offset="0.566" stop-color="#0ebe85"/><stop offset="0.576" stop-color="#00b6ab"/><stop offset="0.586" stop-color="#00b3b6"/><stop offset="0.616" stop-color="#00b3b5"/><stop offset="0.626" stop-color="#00b7a8"/><stop offset="0.646" stop-color="#95bf61"/><stop offset="0.657" stop-color="#adbc59"/><stop offset="0.707" stop-color="#a6bd5b"/><stop offset="0.727" stop-color="#30c07f"/><stop offset="0.737" stop-color="#00be87"/><stop offset="1" stop-color="#00be87"/></linearGradient>
<linearGradient id="gc87"><stop offset="0" stop-color="#0075e3"/><stop offset="0.495" stop-color="#0076e3"/><stop offset="0.515" stop-color="#0099d7"/><stop offset="0.545" stop-color="#009cd5"/><stop offset="0.556" stop-color="#0091db"/><stop offset="0.566" stop-color="#007ce1"/><stop offset="0.576" stop-color="#0075e3"/><stop offset="0.626" stop-color="#0076e3"/><stop offset="0.657" stop-color="#0085df"/><stop offset="0.707" stop-color="#0084df"/><stop offset="0.737" stop-color="#0075e3"/><stop offset="1" stop-color="#0075e3"/></linearGradient>
<linearGradient id="gc88"><stop offset="0" stop-color="#006de6"/><stop offset="0.495" stop-color="#006de6"/><stop offset="0.515" stop-color="#0090db"/><stop offset="0.545" stop-color="#0094da"/><stop offset="0.556" stop-color="#0086de"/><stop offset="0.566" stop-color="#0073e4"/><stop offset="0.576" stop-color="#006de6"/><stop offset="0.626" stop-color="#006de6"/><stop offset="0.657" stop-color="#007be1"/><stop offset="0.707" stop-color="#007ae2"/><stop offset="0.737" stop-color="#006de6"/><stop offset="1" stop-color="#006de6"/></linearGradient>
<linearGradient id="gc89"><stop offset="0" stop-color="#006ce6"/><stop offset="0.495" stop-color="#006de6"/><stop offset="0.515" stop-color="#008edc"/><stop offset="0.545" stop-color="#0093da"/><stop offset="0.556" stop-color="#0085df"/><stop offset="0.566" stop-color="#0072e4"/><stop offset="0.576" stop-color="#006ce6"/><stop offset="0.626" stop-color="#006de6"/><stop offset="0.657" stop-color="#007ae2"/><stop offset="0.707" stop-color="#0079e2"/><stop offset="0.737" stop-color="#006ce6"/><stop offset="1" stop-color="#006ce6"/></linearGradient>
<linearGradient id="gc90"><stop offset="0" stop-color="#0065e8"/><stop offset="0.707" stop-color="#0066e8"/><stop offset="1" stop-color="#0065e8"/></linearGradient>
<linearGradient id="gc91"><stop offset="0" stop-color="#3b34a3"/><stop offset="0.121" stop-color="#3a2f99"/><stop offset="0.232" stop-color="#39298d"/><stop offset="0.404" stop-color="#39298d"/><stop offset="0.424" stop-color="#383db6"/><stop offset="0.444" stop-color="#055fe5"/><stop offset="0.475" stop-color="#0068e7"/><stop offset="0.556" stop-color="#1156dd"/><stop offset="0.626" stop-color="#075de3"/><stop offset="0.667" stop-color="#0068e7"/><stop offset="0.687" stop-color="#055fe5"/><stop offset="0.717" stop-color="#3a2d95"/><stop offset="0.768" stop-color="#39298d"/><stop offset="1" stop-color="#39298d"/></linearGradient>
<linearGradient id="gc92"><stop offset="0" stop-color="#3b34a3"/><stop offset="0.121" stop-color="#3a2f99"/><stop offset="0.232" stop-color="#39298d"/><stop offset="0.404" stop-color="#39298d"/><stop offset="0.424" stop-color="#383cb4"/><stop offset="0.444" stop-color="#0262e6"/><stop offset="0.475" stop-color="#006be7"/><stop offset="0.556" stop-color="#0a5ae2"/><stop offset="0.626" stop-color="#0361e6"/><stop offset="0.667" stop-color="#006ae7"/><stop offset="0.687" stop-color="#0064e8"/><stop offset="0.717" stop-color="#3a2d96"/><stop offset="0.758" stop-color="#39298d"/><stop offset="1" stop-color="#39298d"/></linearGradient>
<linearGradient id="gc93"><stop offset="0" stop-color="#3b34a3"/><stop offset="0.121" stop-color="#3a2f99"/><stop offset="0.232" stop-color="#39298d"/><stop offset="0.414" stop-color="#3a2c94"/><stop offset="0.444" stop-color="#055fe5"/><stop offset="0.465" stop-color="#0069e7"/><stop offset="0.505" stop-color="#0066e8"/><stop offset="0.566" stop-color="#0a5ae1"/><stop offset="0.626" stop-color="#0361e6"/><stop offset="0.667" stop-color="#006ae7"/><stop offset="0.687" stop-color="#0064e8"/><stop offset="0.717" stop-color="#3a2d96"/><stop offset="0.758" stop-color="#39298d"/><stop offset="1" stop-color="#39298d"/></linearGradient>
<linearGradient id="gc94"><stop offset="0" stop-color="#3b34a3"/><stop offset="0.121" stop-color="#3a2f99"/><stop offset="0.232" stop-color="#39298d"/><stop offset="0.414" stop-color="#392b92"/><stop offset="0.455" stop-color="#0067e7"/><stop offset="0.495" stop-color="#0069e7"/><stop offset="0.556" stop-color="#0a5ae2"/><stop offset="0.626" stop-color="#0361e6"/><stop offset="0.667" stop-color="#006ae7"/><stop offset="0.687" stop-color="#0064e8"/><stop offset="0.717" stop-color="#3a2d96"/><stop offset="0.758" stop-color="#39298d"/><stop offset="1" stop-color="#39298d"/></linearGradient>
<linearGradient id="gc95"><stop offset="0" stop-color="#3b34a3"/><stop offset="0.121" stop-color="#3a2f99"/><stop offset="0.232" stop-color="#39298d"/><stop offset="0.414" stop-color="#392a90"/><stop offset="0.455" stop-color="#0066e8"/><stop offset="0.485" stop-color="#006ae7"/><stop offset="0.556" stop-color="#0a5ae1"/><stop offset="0.626" stop-color="#0361e6"/><stop offset="0.667" stop-color="#006ae7"/><stop offset="0.687" stop-color="#0064e8"/><stop offset="0.717" stop-color="#3a2d96"/><stop offset="0.758" stop-color="#39298d"/><stop offset="1" stop-color="#39298d"/></linearGradient>
<linearGradient id="gc96"><stop offset="0" stop-color="#3b34a3"/><stop offset="0.121" stop-color="#3a2f99"/><stop offset="0.232" stop-color="#39298d"/><stop offset="0.414" stop-color="#39298e"/><stop offset="0.434" stop-color="#3343c1"/><stop offset="0.455" stop-color="#0066e8"/><stop offset="0.485" stop-color="#006ae7"/><stop offset="0.556" stop-color="#0e57df"/><stop offset="0.626" stop-color="#0361e6"/><stop offset="0.667" stop-color="#006ae7"/><stop offset="0.687" stop-color="#0064e8"/><stop offset="0.717" stop-color="#3a2d96"/><stop offset="0.758" stop-color="#39298d"/><stop offset="1" stop-color="#39298d"/></linearGradient>
<linearGradient id="gc97"><stop offset="0" stop-color="#3b34a3"/><stop offset="0.121" stop-color="#3a2f99"/><stop offset="0.232" stop-color="#39298d"/><stop offset="0.414" stop-color="#39298e"/><stop offset="0.434" stop-color="#3541be"/><stop offset="0.455" stop-color="#0065e8"/><stop offset="0.485" stop-color="#006ae7"/><stop offset="0.556" stop-color="#284cce"/><stop offset="0.636" stop-color="#0065e8"/><stop offset="0.667" stop-color="#006ae7"/><stop offset="0.687" stop-color="#0064e8"/><stop offset="0.717" stop-color="#3a2d96"/><stop offset="0.758" stop-color="#39298d"/><stop offset="1" stop-color="#39298d"/></linearGradient>
<linearGradient id="gc98"><stop offset="0" stop-color="#3b34a3"/><stop offset="0.121" stop-color="#3a2f99"/><stop offset="0.232" stop-color="#39298d"/><stop offset="0.414" stop-color="#39298d"/><stop offset="0.434" stop-color="#373fba"/><stop offset="0.455" stop-color="#0064e8"/><stop offset="0.485" stop-color="#006ae7"/><stop offset="0.525" stop-color="#274ccf"/><stop offset="0.556" stop-color="#383db6"/><stop offset="0.667" stop-color="#006ae7"/><stop offset="0.687" stop-color="#0064e8"/><stop offset="0.717" stop-color="#3a2d96"/><stop offset="0.758" stop-color="#39298d"/><stop offset="1" stop-color="#39298d"/></linearGradient>
<linearGradient id="gc99"><stop offset="0" stop-color="#3b34a3"/><stop offset="0.121" stop-color="#3a2f99"/><stop offset="0.232" stop-color="#39298d"/><stop offset="0.414" stop-color="#39298d"/><stop offset="0.434" stop-color="#383cb3"/><stop offset="0.455" stop-color="#0361e6"/><stop offset="0.485" stop-color="#0069e7"/><stop offset="0.515" stop-color="#244ed0"/><stop offset="0.545" stop-color="#392a8f"/><stop offset="0.566" stop-color="#39298e"/><stop offset="0.636" stop-color="#0064e8"/><stop offset="0.667" stop-color="#006ae7"/><stop offset="0.687" stop-color="#0064e8"/><stop offset="0.717" stop-color="#3a2d96"/><stop offset="0.758" stop-color="#39298d"/><stop offset="1" stop-color="#39298d"/></linearGradient>
<linearGradient id="gc100"><stop offset="0" stop-color="#3b34a3"/><stop offset="0.121" stop-color="#3a2f99"/><stop offset="0.232" stop-color="#39298d"/><stop offset="0.424" stop-color="#3a2c94"/><stop offset="0.455" stop-color="#055fe5"/><stop offset="0.475" stop-color="#0068e7"/><stop offset="0.495" stop-color="#0065e8"/><stop offset="0.535" stop-color="#39288c"/><stop offset="0.576" stop-color="#382689"/><stop offset="0.616" stop-color="#1953d8"/><stop offset="0.657" stop-color="#006ae7"/><stop offset="0.677" stop-color="#0069e7"/><stop offset="0.687" stop-color="#0064e8"/><stop offset="0.717" stop-color="#3a2d96"/><stop offset="0.758" stop-color="#39298d"/><stop offset="1" stop-color="#39298d"/></linearGradient>
<linearGradient id="gc101"><stop offset="0" stop-color="#3b34a3"/><stop offset="0.121" stop-color="#3a2f99"/><stop offset="0.232" stop-color="#39298d"/><stop offset="0.424" stop-color="#392b92"/><stop offset="0.465" stop-color="#0066e8"/><stop offset="0.495" stop-color="#0065e8"/><stop offset="0.535" stop-color="#392a8f"/><stop offset="0.556" stop-color="#382688"/><stop offset="0.576" stop-color="#38278b"/><stop offset="0.616" stop-color="#1753d9"/><stop offset="0.657" stop-color="#006ae7"/><stop offset="0.677" stop-color="#0069e7"/><stop offset="0.687" stop-color="#0064e8"/><stop offset="0.717" stop-color="#3a2d96"/><stop offset="0.758" stop-color="#39298d"/><stop offset="1" stop-color="#39298d"/></linearGradient>
<linearGradient id="gc102"><stop offset="0" stop-color="#3b34a3"/><stop offset="0.121" stop-color="#3a2f99"/><stop offset="0.232" stop-color="#39298d"/><stop offset="0.424" stop-color="#392a90"/><stop offset="0.465" stop-color="#0066e8"/><stop offset="0.495" stop-color="#0067e7"/><stop offset="0.545" stop-color="#3a309b"/><stop offset="0.566" stop-color="#3a2e98"/><stop offset="0.646" stop-color="#0068e7"/><stop offset="0.677" stop-color="#0069e7"/><stop offset="0.687" stop-color="#0064e8"/><stop offset="0.717" stop-color="#3a2d96"/><stop offset="0.758" stop-color="#39298d"/><stop offset="1" stop-color="#39298d"/></linearGradient>
<linearGradient id="gc103"><stop offset="0" stop-color="#3b34a3"/><stop offset="0.121" stop-color="#3a2f99"/><stop offset="0.232" stop-color="#39298d"/><stop offset="0.424" stop-color="#39298e"/><stop offset="0.444" stop-color="#3343c1"/><stop offset="0.465" stop-color="#0066e8"/><stop offset="0.495" stop-color="#0069e7"/><stop offset="0.556" stop-color="#3244c2"/><stop offset="0.636" stop-color="#0065e8"/><stop offset="0.667" stop-color="#006ae7"/><stop offset="0.687" stop-color="#0064e8"/><stop offset="0.717" stop-color="#3a2d96"/><stop offset="0.758" stop-color="#39298d"/><stop offset="1" stop-color="#39298d"/></linearGradient>
<linearGradient id="gc104"><stop offset="0" stop-color="#3b34a3"/><stop offset="0.121" stop-color="#3a2f99"/><stop offset="0.232" stop-color="#39298d"/><stop offset="0.424" stop-color="#39298e"/><stop offset="0.444" stop-color="#3541be"/><stop offset="0.465" stop-color="#0065e8"/><stop offset="0.495" stop-color="#006ae7"/><stop offset="0.556" stop-color="#1a52d7"/><stop offset="0.626" stop-color="#0460e6"/><stop offset="0.667" stop-color="#006ae7"/><stop offset="0.687" stop-color="#0064e8"/><stop offset="0.717" stop-color="#3a2d96"/><stop offset="0.758" stop-color="#39298d"/><stop offset="1" stop-color="#39298d"/></linearGradient>
<linearGradient id="gc105"><stop offset="0" stop-color="#3b34a3"/><stop offset="0.121" stop-color="#3a2f99"/><stop offset="0.232" stop-color="#39298d"/><stop offset="0.424" stop-color="#39298d"/><stop offset="0.444" stop-color="#373fba"/><stop offset="0.465" stop-color="#0064e8"/><stop offset="0.495" stop-color="#006ae7"/><stop offset="0.566" stop-color="#0b59e1"/><stop offset="0.626" stop-color="#0361e6"/><stop offset="0.667" stop-color="#006ae7"/><stop offset="0.687" stop-color="#0064e8"/><stop offset="0.717" stop-color="#3a2d96"/><stop offset="0.758" stop-color="#39298d"/><stop offset="1" stop-color="#39298d"/></linearGradient>
<linearGradient id="gc106"><stop offset="0" stop-color="#3b34a3"/><stop offset="0.121" stop-color="#3a2f99"/><stop offset="0.232" stop-color="#39298d"/><stop offset="0.424" stop-color="#39298d"/><stop offset="0.444" stop-color="#383cb3"/><stop offset="0.465" stop-color="#0262e6"/><stop offset="0.495" stop-color="#006be7"/><stop offset="0.576" stop-color="#0a5ae1"/><stop offset="0.636" stop-color="#0065e8"/><stop offset="0.667" stop-color="#006ae7"/><stop offset="0.687" stop-color="#0064e8"/><stop offset="0.717" stop-color="#3a2d96"/><stop offset="0.758" stop-color="#39298d"/><stop offset="1" stop-color="#39298d"/></linearGradient>
<linearGradient id="gc107"><stop offset="0" stop-color="#3b34a3"/><stop offset="0.121" stop-color="#3a2f99"/><stop offset="0.232" stop-color="#39298d"/><stop offset="0.434" stop-color="#3a2c93"/><stop offset="0.465" stop-color="#055fe5"/><stop offset="0.485" stop-color="#0069e7"/><stop offset="0.525" stop-color="#0066e8"/><stop offset="0.586" stop-color="#0a5ae2"/><stop offset="0.636" stop-color="#0065e8"/><stop offset="0.667" stop-color="#006ae7"/><stop offset="0.687" stop-color="#0064e8"/><stop offset="0.717" stop-color="#3a2d96"/><stop offset="0.758" stop-color="#39298d"/><stop offset="1" stop-color="#39298d"/></linearGradient>
<linearGradient id="gc108"><stop offset="0" stop-color="#3b34a3"/><stop offset="0.121" stop-color="#3a2f99"/><stop offset="0.232" stop-color="#39298d"/><stop offset="0.434" stop-color="#392b92"/><stop offset="0.475" stop-color="#0067e7"/><stop offset="0.515" stop-color="#0069e7"/><stop offset="0.576" stop-color="#095be2"/><stop offset="0.636" stop-color="#0065e8"/><stop offset="0.667" stop-color="#006ae7"/><stop offset="0.687" stop-color="#0064e8"/><stop offset="0.717" stop-color="#3a2d96"/><stop offset="0.758" stop-color="#39298d"/><stop offset="1" stop-color="#39298d"/></linearGradient>
<linearGradient id="gc109"><stop offset="0" stop-color="#3b33a1"/><stop offset="0.131" stop-color="#3a2d96"/><stop offset="0.354" stop-color="#39298d"/><stop offset="0.434" stop-color="#392a90"/><stop offset="0.475" stop-color="#0066e8"/><stop offset="0.515" stop-color="#0069e7"/><stop offset="0.576" stop-color="#095be2"/><stop offset="0.636" stop-color="#0065e8"/><stop offset="0.667" stop-color="#006ae7"/><stop offset="0.687" stop-color="#0064e8"/><stop offset="0.717" stop-color="#3a2d96"/><stop offset="0.758" stop-color="#39298d"/><stop offset="1" stop-color="#39298d"/></linearGradient>
<linearGradient id="gc110"><stop offset="0" stop-color="#3443c0"/><stop offset="0.434" stop-color="#3244c1"/><stop offset="0.455" stop-color="#0361e6"/><stop offset="0.475" stop-color="#0076e3"/><stop offset="0.505" stop-color="#007be1"/><stop offset="0.586" stop-color="#006ee6"/><stop offset="0.636" stop-color="#0075e4"/><stop offset="0.667" stop-color="#007be1"/><stop offset="0.687" stop-color="#0074e4"/><stop offset="0.717" stop-color="#2e48c7"/><stop offset="0.758" stop-color="#3443c0"/><stop offset="1" stop-color="#3443c0"/></linearGradient>
<linearGradient id="gc111"><stop offset="0" stop-color="#3443c0"/><stop offset="0.434" stop-color="#3343c1"/><stop offset="0.455" stop-color="#065ee4"/><stop offset="0.475" stop-color="#0075e4"/><stop offset="0.505" stop-color="#007be1"/><stop offset="0.586" stop-color="#006ee6"/><stop offset="0.636" stop-color="#0075e4"/><stop offset="0.667" stop-color="#007be1"/><stop offset="0.687" stop-color="#0074e4"/><stop offset="0.717" stop-color="#2e48c7"/><stop offset="0.758" stop-color="#3443c0"/><stop offset="1" stop-color="#3443c0"/></linearGradient>
<linearGradient id="gc112"><stop offset="0" stop-color="#3443c0"/><stop offset="0.434" stop-color="#3443c0"/><stop offset="0.455" stop-color="#095be2"/><stop offset="0.475" stop-color="#0074e4"/><stop offset="0.505" stop-color="#007be1"/><stop offset="0.586" stop-color="#006ee6"/><stop offset="0.636" stop-color="#0075e4"/><stop offset="0.667" stop-color="#007be1"/><stop offset="0.687" stop-color="#0074e4"/><stop offset="0.717" stop-color="#2e48c7"/><stop offset="0.758" stop-color="#3443c0"/><stop offset="1" stop-color="#3443c0"/></linearGradient>
<linearGradient id="gc113"><stop offset="0" stop-color="#3443c0"/><stop offset="0.434" stop-color="#3443c0"/><stop offset="0.455" stop-color="#0c58e0"/><stop offset="0.475" stop-color="#0072e4"/><stop offset="0.505" stop-color="#007be1"/><stop offset="0.586" stop-color="#006ee6"/><stop offset="0.636" stop-color="#0075e4"/><stop offset="0.667" stop-color="#007be1"/><stop offset="0.687" stop-color="#0074e4"/><stop offset="0.717" stop-color="#2e48c7"/><stop offset="0.758" stop-color="#3443c0"/><stop offset="1" stop-color="#3443c0"/></linearGradient>
<linearGradient id="gc114"><stop offset="0" stop-color="#2d48c7"/><stop offset="0.444" stop-color="#294bcd"/><stop offset="0.475" stop-color="#0072e4"/><stop offset="0.505" stop-color="#007be1"/><stop offset="0.596" stop-color="#0070e5"/><stop offset="0.667" stop-color="#007be2"/><stop offset="0.687" stop-color="#0074e4"/><stop offset="0.717" stop-color="#274ccf"/><stop offset="0.768" stop-color="#2d48c7"/><stop offset="1" stop-color="#2d48c7"/></linearGradient>
<linearGradient id="gc115"><stop offset="0" stop-color="#0067e7"/><stop offset="0.444" stop-color="#0069e7"/><stop offset="0.485" stop-color="#007be1"/><stop offset="0.687" stop-color="#007ae2"/><stop offset="0.727" stop-color="#0064e8"/><stop offset="0.808" stop-color="#085ce3"/><stop offset="0.909" stop-color="#0067e7"/><stop offset="1" stop-color="#0067e7"/></linearGradient>
<linearGradient id="gc116"><stop offset="0" stop-color="#0067e7"/><stop offset="0.444" stop-color="#0068e7"/><stop offset="0.485" stop-color="#007be1"/><stop offset="0.687" stop-color="#007ae2"/><stop offset="0.737" stop-color="#075de3"/><stop offset="0.818" stop-color="#1156dd"/><stop offset="0.889" stop-color="#0067e7"/><stop offset="1" stop-color="#0067e7"/></linearGradient>
<linearGradient id="gc117"><stop offset="0" stop-color="#0067e7"/><stop offset="0.444" stop-color="#0068e7"/><stop offset="0.485" stop-color="#007be2"/><stop offset="0.687" stop-color="#007ae2"/><stop offset="0.737" stop-color="#075de3"/><stop offset="0.818" stop-color="#1156dd"/><stop offset="0.889" stop-color="#0067e7"/><stop offset="1" stop-color="#0067e7"/></linearGradient>
<linearGradient id="gc118"><stop offset="0" stop-color="#0067e7"/><stop offset="0.444" stop-color="#0068e7"/><stop offset="0.485" stop-color="#007ae2"/><stop offset="0.687" stop-color="#007ae2"/><stop offset="0.737" stop-color="#075de3"/><stop offset="0.818" stop-color="#1156dd"/><stop offset="0.889" stop-color="#0067e7"/><stop offset="1" stop-color="#0067e7"/></linearGradient>
<linearGradient id="gc119"><stop offset="0" stop-color="#0071e5"/><stop offset="0.444" stop-color="#0071e5"/><stop offset="0.485" stop-color="#0085de"/><stop offset="0.687" stop-color="#0084df"/><stop offset="0.737" stop-color="#0069e7"/><stop offset="0.818" stop-color="#0066e8"/><stop offset="0.889" stop-color="#0071e5"/><stop offset="1" stop-color="#0071e5"/></linearGradient>
<linearGradient id="gc120"><stop offset="0" stop-color="#0078e2"/><stop offset="0.444" stop-color="#0079e2"/><stop offset="0.465" stop-color="#0088de"/><stop offset="0.485" stop-color="#009ad6"/><stop offset="0.586" stop-color="#009ad6"/><stop offset="0.626" stop-color="#008edc"/><stop offset="0.687" stop-color="#008cdc"/><stop offset="0.737" stop-color="#0070e5"/><stop offset="0.818" stop-color="#006de6"/><stop offset="0.889" stop-color="#0078e2"/><stop offset="1" stop-color="#0078e2"/></linearGradient>
<linearGradient id="gc121"><stop offset="0" stop-color="#0078e2"/><stop offset="0.444" stop-color="#0079e2"/><stop offset="0.465" stop-color="#0087de"/><stop offset="0.485" stop-color="#009ad6"/><stop offset="0.586" stop-color="#009ad6"/><stop offset="0.626" stop-color="#008edc"/><stop offset="0.687" stop-color="#008cdc"/><stop offset="0.737" stop-color="#0070e5"/><stop offset="0.818" stop-color="#006de6"/><stop offset="0.889" stop-color="#0078e2"/><stop offset="1" stop-color="#0078e2"/></linearGradient>
<linearGradient id="gc122"><stop offset="0" stop-color="#0078e2"/><stop offset="0.444" stop-color="#0079e2"/><stop offset="0.465" stop-color="#0086de"/><stop offset="0.485" stop-color="#0099d7"/><stop offset="0.586" stop-color="#009ad6"/><stop offset="0.626" stop-color="#008edc"/><stop offset="0.687" stop-color="#008cdc"/><stop offset="0.737" stop-color="#0070e5"/><stop offset="0.818" stop-color="#006de6"/><stop offset="0.889" stop-color="#0078e2"/><stop offset="1" stop-color="#0078e2"/></linearGradient>
<linearGradient id="gc123"><stop offset="0" stop-color="#0068e7"/><stop offset="0.182" stop-color="#0066e8"/><stop offset="0.242" stop-color="#1056de"/><stop offset="0.424" stop-color="#0c58e0"/><stop offset="0.495" stop-color="#007ce1"/><stop offset="0.687" stop-color="#007be1"/><stop offset="0.727" stop-color="#0066e8"/><stop offset="0.818" stop-color="#0460e5"/><stop offset="0.879" stop-color="#0074e4"/><stop offset="1" stop-color="#0074e4"/></linearGradient>
<linearGradient id="gc124"><stop offset="0" stop-color="#0163e7"/><stop offset="0.172" stop-color="#0361e6"/><stop offset="0.242" stop-color="#3144c3"/><stop offset="0.424" stop-color="#3046c5"/><stop offset="0.495" stop-color="#0076e3"/><stop offset="0.667" stop-color="#0075e4"/><stop offset="0.707" stop-color="#0065e8"/><stop offset="0.737" stop-color="#1a52d7"/><stop offset="0.808" stop-color="#294ccd"/><stop offset="0.879" stop-color="#0074e4"/><stop offset="1" stop-color="#0074e4"/></linearGradient>
<linearGradient id="gc125"><stop offset="0" stop-color="#0163e7"/><stop offset="0.172" stop-color="#0361e6"/><stop offset="0.242" stop-color="#3144c3"/><stop offset="0.424" stop-color="#3046c5"/><stop offset="0.495" stop-color="#0076e3"/><stop offset="0.657" stop-color="#0076e3"/><stop offset="0.717" stop-color="#3343c1"/><stop offset="0.798" stop-color="#3a36a7"/><stop offset="0.808" stop-color="#3937ab"/><stop offset="0.848" stop-color="#0068e7"/><stop offset="0.879" stop-color="#0074e4"/><stop offset="1" stop-color="#0074e4"/></linearGradient>
<linearGradient id="gc126"><stop offset="0" stop-color="#0163e7"/><stop offset="0.172" stop-color="#0361e6"/><stop offset="0.242" stop-color="#3144c3"/><stop offset="0.424" stop-color="#3046c5"/><stop offset="0.495" stop-color="#0076e3"/><stop offset="0.657" stop-color="#0076e3"/><stop offset="0.717" stop-color="#3343c1"/><stop offset="0.798" stop-color="#3a36a8"/><stop offset="0.808" stop-color="#3938ac"/><stop offset="0.848" stop-color="#0068e7"/><stop offset="0.879" stop-color="#0074e4"/><stop offset="1" stop-color="#0074e4"/></linearGradient>
<linearGradient id="gc127"><stop offset="0" stop-color="#0163e7"/><stop offset="0.172" stop-color="#0361e6"/><stop offset="0.242" stop-color="#3144c3"/><stop offset="0.424" stop-color="#3046c5"/><stop offset="0.495" stop-color="#0075e3"/><stop offset="0.687" stop-color="#0075e3"/><stop offset="0.727" stop-color="#0460e6"/><stop offset="0.828" stop-color="#095be2"/><stop offset="0.879" stop-color="#0074e4"/><stop offset="1" stop-color="#0074e4"/></linearGradient>
<linearGradient id="gc128"><stop offset="0" stop-color="#0163e7"/><stop offset="0.172" stop-color="#0361e6"/><stop offset="0.242" stop-color="#3144c3"/><stop offset="0.424" stop-color="#3046c5"/><stop offset="0.505" stop-color="#0077e3"/><stop offset="0.687" stop-color="#0075e3"/><stop offset="0.727" stop-color="#0460e6"/><stop offset="0.828" stop-color="#095be2"/><stop offset="0.879" stop-color="#0074e4"/><stop offset="1" stop-color="#0074e4"/></linearGradient>
<linearGradient id="gc129"><stop offset="0" stop-color="#0163e7"/><stop offset="0.172" stop-color="#0361e6"/><stop offset="0.242" stop-color="#3144c3"/><stop offset="0.424" stop-color="#3046c5"/><stop offset="0.495" stop-color="#0080e0"/><stop offset="0.677" stop-color="#0083df"/><stop offset="0.697" stop-color="#0078e3"/><stop offset="0.717" stop-color="#0066e8"/><stop offset="0.788" stop-color="#0b59e1"/><stop offset="0.828" stop-color="#095be2"/><stop offset="0.879" stop-color="#0074e4"/><stop offset="1" stop-color="#0074e4"/></linearGradient>
<linearGradient id="gc130"><stop offset="0" stop-color="#0163e7"/><stop offset="0.172" stop-color="#0361e6"/><stop offset="0.242" stop-color="#3144c3"/><stop offset="0.424" stop-color="#3046c5"/><stop offset="0.495" stop-color="#0084df"/><stop offset="0.545" stop-color="#0088de"/><stop offset="0.677" stop-color="#0088de"/><stop offset="0.687" stop-color="#0084df"/><stop offset="0.717" stop-color="#0065e8"/><stop offset="0.778" stop-color="#2c49c9"/><stop offset="0.859" stop-color="#1d51d5"/><stop offset="1" stop-color="#1355dc"/></linearGradient>
<linearGradient id="gc131"><stop offset="0" stop-color="#0163e7"/><stop offset="0.172" stop-color="#0361e6"/><stop offset="0.242" stop-color="#3144c3"/><stop offset="0.424" stop-color="#3046c5"/><stop offset="0.495" stop-color="#0083df"/><stop offset="0.535" stop-color="#0088de"/><stop offset="0.677" stop-color="#0088de"/><stop offset="0.687" stop-color="#0084df"/><stop offset="0.717" stop-color="#0065e8"/><stop offset="0.768" stop-color="#3046c5"/><stop offset="1" stop-color="#3144c3"/></linearGradient>
<linearGradient id="gc132"><stop offset="0" stop-color="#0163e7"/><stop offset="0.172" stop-color="#0361e6"/><stop offset="0.242" stop-color="#3144c3"/><stop offset="0.424" stop-color="#3046c5"/><stop offset="0.505" stop-color="#0087de"/><stop offset="0.677" stop-color="#0088de"/><stop offset="0.687" stop-color="#0084df"/><stop offset="0.717" stop-color="#0065e8"/><stop offset="0.768" stop-color="#3046c5"/><stop offset="1" stop-color="#3144c3"/></linearGradient>
<linearGradient id="gc133"><stop offset="0" stop-color="#0163e7"/><stop offset="0.172" stop-color="#0361e6"/><stop offset="0.242" stop-color="#3144c3"/><stop offset="0.424" stop-color="#3046c5"/><stop offset="0.505" stop-color="#0086de"/><stop offset="0.677" stop-color="#0087de"/><stop offset="0.697" stop-color="#007ae2"/><stop offset="0.717" stop-color="#0064e8"/><stop offset="0.768" stop-color="#3046c5"/><stop offset="1" stop-color="#3144c3"/></linearGradient>
<linearGradient id="gc134"><stop offset="0" stop-color="#0163e7"/><stop offset="0.172" stop-color="#0361e6"/><stop offset="0.242" stop-color="#3144c3"/><stop offset="0.424" stop-color="#3046c5"/><stop offset="0.455" stop-color="#0262e7"/><stop offset="0.485" stop-color="#006ae7"/><stop offset="0.515" stop-color="#0077e3"/><stop offset="0.687" stop-color="#0075e3"/><stop offset="0.737" stop-color="#1454db"/><stop offset="0.788" stop-color="#3144c3"/><stop offset="1" stop-color="#3144c3"/></linearGradient>
<linearGradient id="gc135"><stop offset="0" stop-color="#0163e7"/><stop offset="0.172" stop-color="#0361e6"/><stop offset="0.242" stop-color="#3144c3"/><stop offset="0.424" stop-color="#3046c5"/><stop offset="0.455" stop-color="#0262e7"/><stop offset="0.485" stop-color="#0069e7"/><stop offset="0.515" stop-color="#0077e3"/><stop offset="0.687" stop-color="#0075e3"/><stop offset="0.737" stop-color="#1454db"/><stop offset="0.788" stop-color="#3144c3"/><stop offset="1" stop-color="#3144c3"/></linearGradient>
<linearGradient id="gc136"><stop offset="0" stop-color="#0163e7"/><stop offset="0.172" stop-color="#0361e6"/><stop offset="0.242" stop-color="#3144c3"/><stop offset="0.424" stop-color="#3046c5"/><stop offset="0.455" stop-color="#0262e7"/><stop offset="0.485" stop-color="#0068e7"/><stop offset="0.515" stop-color="#0076e3"/><stop offset="0.687" stop-color="#0075e3"/><stop offset="0.737" stop-color="#1454db"/><stop offset="0.788" stop-color="#3144c3"/><stop offset="1" stop-color="#3144c3"/></linearGradient>
<linearGradient id="gc137"><stop offset="0" stop-color="#0163e7"/><stop offset="0.172" stop-color="#0361e6"/><stop offset="0.242" stop-color="#3244c2"/><stop offset="0.424" stop-color="#3046c5"/><stop offset="0.455" stop-color="#0262e7"/><stop offset="0.485" stop-color="#0068e7"/><stop offset="0.515" stop-color="#0076e3"/><stop offset="0.687" stop-color="#0075e3"/><stop offset="0.737" stop-color="#1454db"/><stop offset="0.788" stop-color="#3144c3"/><stop offset="1" stop-color="#3144c3"/></linearGradient>
<linearGradient id="gc138"><stop offset="0" stop-color="#2a4acb"/><stop offset="0.202" stop-color="#3045c4"/><stop offset="0.313" stop-color="#383eb8"/><stop offset="0.374" stop-color="#3046c5"/><stop offset="0.424" stop-color="#2e47c6"/><stop offset="0.475" stop-color="#3a37aa"/><stop offset="0.515" stop-color="#0b59e1"/><stop offset="0.687" stop-color="#0d58df"/><stop offset="0.727" stop-color="#3a37a9"/><stop offset="0.828" stop-color="#383cb5"/><stop offset="0.879" stop-color="#2b4acb"/><stop offset="1" stop-color="#2b4acb"/></linearGradient>
<linearGradient id="gc139"><stop offset="0" stop-color="#2a4acb"/><stop offset="0.202" stop-color="#3045c4"/><stop offset="0.313" stop-color="#383eb9"/><stop offset="0.374" stop-color="#3046c5"/><stop offset="0.414" stop-color="#2b49ca"/><stop offset="0.475" stop-color="#3a2f9a"/><stop offset="0.515" stop-color="#254dd0"/><stop offset="0.687" stop-color="#274ccf"/><stop offset="0.727" stop-color="#3a2f9a"/><stop offset="0.818" stop-color="#3b309c"/><stop offset="0.869" stop-color="#2b4acb"/><stop offset="1" stop-color="#2a4acb"/></linearGradient>
<linearGradient id="gc140"><stop offset="0" stop-color="#2a4acb"/><stop offset="0.202" stop-color="#3045c4"/><stop offset="0.313" stop-color="#383eb9"/><stop offset="0.374" stop-color="#3046c5"/><stop offset="0.414" stop-color="#2b49ca"/><stop offset="0.475" stop-color="#3a2f9a"/><stop offset="0.525" stop-color="#204fd3"/><stop offset="0.687" stop-color="#274ccf"/><stop offset="0.727" stop-color="#3a2f9a"/><stop offset="0.818" stop-color="#3b309c"/><stop offset="0.869" stop-color="#2b4acb"/><stop offset="1" stop-color="#2a4acb"/></linearGradient>
<linearGradient id="gc141"><stop offset="0" stop-color="#244ed0"/><stop offset="0.202" stop-color="#2d48c8"/><stop offset="0.313" stop-color="#3542bf"/><stop offset="0.374" stop-color="#2c49c9"/><stop offset="0.434" stop-color="#2a4acc"/><stop offset="0.485" stop-color="#2d48c8"/><stop offset="0.525" stop-color="#0068e7"/><stop offset="0.687" stop-color="#0066e8"/><stop offset="0.727" stop-color="#2f47c6"/><stop offset="1" stop-color="#3442bf"/></linearGradient>
<linearGradient id="gc142"><stop offset="0" stop-color="#204fd3"/><stop offset="0.202" stop-color="#2b49ca"/><stop offset="0.313" stop-color="#3443c0"/><stop offset="0.374" stop-color="#2b4acb"/><stop offset="0.485" stop-color="#1c51d6"/><stop offset="0.525" stop-color="#006de6"/><stop offset="0.687" stop-color="#006ce6"/><stop offset="0.727" stop-color="#204fd3"/><stop offset="0.828" stop-color="#2b4aca"/><stop offset="0.889" stop-color="#383eb9"/><stop offset="1" stop-color="#383eb9"/></linearGradient>
<linearGradient id="gc143"><stop offset="0" stop-color="#204fd3"/><stop offset="0.202" stop-color="#2b49ca"/><stop offset="0.313" stop-color="#3443c0"/><stop offset="0.374" stop-color="#2b4acb"/><stop offset="0.485" stop-color="#1e50d5"/><stop offset="0.525" stop-color="#006ce6"/><stop offset="0.687" stop-color="#006ce6"/><stop offset="0.727" stop-color="#204fd3"/><stop offset="0.828" stop-color="#2b4aca"/><stop offset="0.889" stop-color="#383eb9"/><stop offset="1" stop-color="#383eb9"/></linearGradient>
<linearGradient id="gc144"><stop offset="0" stop-color="#204fd3"/><stop offset="0.202" stop-color="#2b49ca"/><stop offset="0.313" stop-color="#3443c0"/><stop offset="0.374" stop-color="#2b4acb"/><stop offset="0.495" stop-color="#0c58e0"/><stop offset="0.525" stop-color="#006ce6"/><stop offset="0.687" stop-color="#006ce6"/><stop offset="0.727" stop-color="#204fd3"/><stop offset="0.828" stop-color="#2b4aca"/><stop offset="0.889" stop-color="#383eb9"/><stop offset="1" stop-color="#383eb9"/></linearGradient>
<linearGradient id="gc145"><stop offset="0" stop-color="#2f46c6"/><stop offset="0.202" stop-color="#3442bf"/><stop offset="0.323" stop-color="#393ab1"/><stop offset="0.424" stop-color="#2e47c7"/><stop offset="0.495" stop-color="#294bcd"/><stop offset="0.525" stop-color="#0067e7"/><stop offset="0.687" stop-color="#0067e7"/><stop offset="0.727" stop-color="#2e47c7"/><stop offset="0.828" stop-color="#3343c1"/><stop offset="0.899" stop-color="#3a35a7"/><stop offset="1" stop-color="#3a35a7"/></linearGradient>
<linearGradient id="gc146"><stop offset="0" stop-color="#392b92"/><stop offset="0.293" stop-color="#3a2f9a"/><stop offset="0.434" stop-color="#373eb9"/><stop offset="0.495" stop-color="#3542bf"/><stop offset="0.525" stop-color="#065ee4"/><stop offset="0.687" stop-color="#065ee4"/><stop offset="0.727" stop-color="#373eb9"/><stop offset="1" stop-color="#383eb9"/></linearGradient>
<linearGradient id="gc147"><stop offset="0" stop-color="#392b92"/><stop offset="0.293" stop-color="#3a2f9a"/><stop offset="0.434" stop-color="#373eb9"/><stop offset="0.495" stop-color="#3641be"/><stop offset="0.535" stop-color="#0361e6"/><stop offset="0.687" stop-color="#065ee4"/><stop offset="0.727" stop-color="#373eb9"/><stop offset="1" stop-color="#383eb9"/></linearGradient>
<linearGradient id="gc148"><stop offset="0" stop-color="#392b92"/><stop offset="0.293" stop-color="#3a2f9a"/><stop offset="0.434" stop-color="#373eb9"/><stop offset="0.495" stop-color="#3641bd"/><stop offset="0.535" stop-color="#0460e6"/><stop offset="0.687" stop-color="#065ee4"/><stop offset="0.727" stop-color="#373eb9"/><stop offset="1" stop-color="#383eb9"/></linearGradient>
<linearGradient id="gc149"><stop offset="0" stop-color="#392b92"/><stop offset="0.354" stop-color="#3b309c"/><stop offset="0.515" stop-color="#3541be"/><stop offset="0.687" stop-color="#3145c3"/><stop offset="0.747" stop-color="#393ab0"/><stop offset="1" stop-color="#393ab0"/></linearGradient>
<linearGradient id="gc150"><stop offset="0" stop-color="#392b92"/><stop offset="0.364" stop-color="#3a2f99"/><stop offset="0.495" stop-color="#3938ad"/><stop offset="1" stop-color="#3938ad"/></linearGradient>
</defs>
<rect x="103.9" y="426.3" width="511.3" height="30.5" fill="#38278a"/>
<rect x="103.9" y="456.3" width="511.3" height="2.5" fill="url(#gc0)"/>
<rect x="103.9" y="458.3" width="511.3" height="2.5" fill="url(#gc1)"/>
<rect x="103.9" y="460.3" width="511.3" height="2.5" fill="url(#gc2)"/>
<rect x="103.9" y="462.3" width="511.3" height="2.5" fill="url(#gc3)"/>
<rect x="103.9" y="464.3" width="511.3" height="2.5" fill="url(#gc4)"/>
<rect x="103.9" y="466.3" width="511.3" height="4.5" fill="url(#gc5)"/>
<rect x="103.9" y="470.3" width="511.3" height="4.5" fill="url(#gc6)"/>
<rect x="103.9" y="474.3" width="511.3" height="2.5" fill="url(#gc7)"/>
<rect x="103.9" y="476.3" width="511.3" height="2.5" fill="url(#gc8)"/>
<rect x="103.9" y="478.3" width="511.3" height="2.5" fill="url(#gc9)"/>
<rect x="103.9" y="480.3" width="511.3" height="2.5" fill="url(#gc10)"/>
<rect x="103.9" y="482.3" width="511.3" height="2.5" fill="url(#gc11)"/>
<rect x="103.9" y="484.3" width="511.3" height="2.5" fill="url(#gc12)"/>
<rect x="103.9" y="486.3" width="511.3" height="2.5" fill="url(#gc13)"/>
<rect x="103.9" y="488.3" width="511.3" height="2.5" fill="url(#gc14)"/>
<rect x="103.9" y="490.3" width="511.3" height="2.5" fill="url(#gc15)"/>
<rect x="103.9" y="492.3" width="511.3" height="2.5" fill="url(#gc16)"/>
<rect x="103.9" y="494.3" width="511.3" height="2.5" fill="url(#gc17)"/>
<rect x="103.9" y="496.3" width="511.3" height="2.5" fill="url(#gc18)"/>
<rect x="103.9" y="498.3" width="511.3" height="2.5" fill="url(#gc19)"/>
<rect x="103.9" y="500.3" width="511.3" height="2.5" fill="url(#gc20)"/>
<rect x="103.9" y="502.3" width="511.3" height="2.5" fill="url(#gc21)"/>
<rect x="103.9" y="504.3" width="511.3" height="2.5" fill="url(#gc22)"/>
<rect x="103.9" y="506.3" width="511.3" height="2.5" fill="url(#gc23)"/>
<rect x="103.9" y="508.3" width="511.3" height="2.5" fill="url(#gc24)"/>
<rect x="103.9" y="510.3" width="511.3" height="2.5" fill="url(#gc25)"/>
<rect x="103.9" y="512.3" width="511.3" height="2.5" fill="url(#gc26)"/>
<rect x="103.9" y="514.3" width="511.3" height="2.5" fill="url(#gc27)"/>
<rect x="103.9" y="516.3" width="511.3" height="2.5" fill="url(#gc28)"/>
<rect x="103.9" y="518.3" width="511.3" height="2.5" fill="url(#gc29)"/>
<rect x="103.9" y="520.3" width="511.3" height="2.5" fill="url(#gc30)"/>
<rect x="103.9" y="522.3" width="511.3" height="2.5" fill="url(#gc31)"/>
<rect x="103.9" y="524.3" width="511.3" height="2.5" fill="url(#gc32)"/>
<rect x="103.9" y="526.3" width="511.3" height="2.5" fill="url(#gc33)"/>
<rect x="103.9" y="528.3" width="511.3" height="2.5" fill="url(#gc34)"/>
<rect x="103.9" y="530.3" width="511.3" height="2.5" fill="url(#gc35)"/>
<rect x="103.9" y="532.3" width="511.3" height="2.5" fill="url(#gc36)"/>
<rect x="103.9" y="534.3" width="511.3" height="2.5" fill="url(#gc37)"/>
<rect x="103.9" y="536.3" width="511.3" height="2.5" fill="url(#gc38)"/>
<rect x="103.9" y="538.3" width="511.3" height="2.5" fill="url(#gc39)"/>
<rect x="103.9" y="540.3" width="511.3" height="4.5" fill="url(#gc40)"/>
<rect x="103.9" y="544.3" width="511.3" height="2.5" fill="url(#gc41)"/>
<rect x="103.9" y="546.3" width="511.3" height="2.5" fill="url(#gc42)"/>
<rect x="103.9" y="548.3" width="511.3" height="4.5" fill="url(#gc43)"/>
<rect x="103.9" y="552.3" width="511.3" height="2.5" fill="url(#gc44)"/>
<rect x="103.9" y="554.3" width="511.3" height="2.5" fill="url(#gc45)"/>
<rect x="103.9" y="556.3" width="511.3" height="2.5" fill="url(#gc46)"/>
<rect x="103.9" y="558.3" width="511.3" height="2.5" fill="url(#gc47)"/>
<rect x="103.9" y="560.3" width="511.3" height="2.5" fill="url(#gc48)"/>
<rect x="103.9" y="562.3" width="511.3" height="2.5" fill="url(#gc49)"/>
<rect x="103.9" y="564.3" width="511.3" height="2.5" fill="url(#gc50)"/>
<rect x="103.9" y="566.3" width="511.3" height="2.5" fill="url(#gc51)"/>
<rect x="103.9" y="568.3" width="511.3" height="2.5" fill="url(#gc52)"/>
<rect x="103.9" y="570.3" width="511.3" height="2.5" fill="url(#gc53)"/>
<rect x="103.9" y="572.3" width="511.3" height="2.5" fill="url(#gc54)"/>
<rect x="103.9" y="574.3" width="511.3" height="2.5" fill="url(#gc55)"/>
<rect x="103.9" y="576.3" width="511.3" height="2.5" fill="url(#gc56)"/>
<rect x="103.9" y="578.3" width="511.3" height="2.5" fill="url(#gc57)"/>
<rect x="103.9" y="580.3" width="511.3" height="2.5" fill="url(#gc58)"/>
<rect x="103.9" y="582.3" width="511.3" height="2.5" fill="url(#gc59)"/>
<rect x="103.9" y="584.3" width="511.3" height="2.5" fill="url(#gc60)"/>
<rect x="103.9" y="586.3" width="511.3" height="2.5" fill="url(#gc61)"/>
<rect x="103.9" y="588.3" width="511.3" height="2.5" fill="url(#gc62)"/>
<rect x="103.9" y="590.3" width="511.3" height="2.5" fill="url(#gc63)"/>
<rect x="103.9" y="592.3" width="511.3" height="2.5" fill="url(#gc64)"/>
<rect x="103.9" y="594.3" width="511.3" height="2.5" fill="url(#gc65)"/>
<rect x="103.9" y="596.3" width="511.3" height="2.5" fill="url(#gc66)"/>
<rect x="103.9" y="598.3" width="511.3" height="2.5" fill="url(#gc67)"/>
<rect x="103.9" y="600.3" width="511.3" height="2.5" fill="url(#gc68)"/>
<rect x="103.9" y="602.3" width="511.3" height="2.5" fill="url(#gc69)"/>
<rect x="103.9" y="604.3" width="511.3" height="2.5" fill="url(#gc70)"/>
<rect x="103.9" y="606.3" width="511.3" height="2.5" fill="url(#gc71)"/>
<rect x="103.9" y="608.3" width="511.3" height="6.5" fill="url(#gc72)"/>
<rect x="103.9" y="614.3" width="511.3" height="2.5" fill="url(#gc73)"/>
<rect x="103.9" y="616.3" width="511.3" height="4.5" fill="url(#gc74)"/>
<rect x="103.9" y="620.3" width="511.3" height="2.5" fill="url(#gc75)"/>
<rect x="103.9" y="622.3" width="511.3" height="16.5" fill="#38278a"/>
<rect x="103.9" y="638.3" width="511.3" height="2.5" fill="#3a2d95"/>
<rect x="103.9" y="640.3" width="511.3" height="4.5" fill="#3a2f9a"/>
<rect x="103.9" y="644.3" width="511.3" height="2.5" fill="#3a36a7"/>
<rect x="103.9" y="646.3" width="511.3" height="4.5" fill="#2a4acb"/>
<rect x="103.9" y="650.3" width="511.3" height="4.5" fill="#0361e6"/>
<rect x="103.9" y="654.3" width="511.3" height="6.5" fill="url(#gc76)"/>
<rect x="103.9" y="660.3" width="511.3" height="2.5" fill="url(#gc77)"/>
<rect x="103.9" y="662.3" width="511.3" height="2.5" fill="url(#gc78)"/>
<rect x="103.9" y="664.3" width="511.3" height="2.5" fill="url(#gc79)"/>
<rect x="103.9" y="666.3" width="511.3" height="2.5" fill="url(#gc80)"/>
<rect x="103.9" y="668.3" width="511.3" height="2.5" fill="url(#gc81)"/>
<rect x="103.9" y="670.3" width="511.3" height="4.5" fill="#44c17b"/>
<rect x="103.9" y="674.3" width="511.3" height="2.5" fill="url(#gc82)"/>
<rect x="103.9" y="676.3" width="511.3" height="2.5" fill="url(#gc83)"/>
<rect x="103.9" y="678.3" width="511.3" height="2.5" fill="url(#gc84)"/>
<rect x="103.9" y="680.3" width="511.3" height="2.5" fill="url(#gc85)"/>
<rect x="103.9" y="682.3" width="511.3" height="2.5" fill="url(#gc86)"/>
<rect x="103.9" y="684.3" width="511.3" height="2.5" fill="url(#gc87)"/>
<rect x="103.9" y="686.3" width="511.3" height="2.5" fill="url(#gc88)"/>
<rect x="103.9" y="688.3" width="511.3" height="2.5" fill="url(#gc89)"/>
<rect x="103.9" y="690.3" width="511.3" height="2.5" fill="#0065e8"/>
<rect x="103.9" y="692.3" width="511.3" height="2.5" fill="url(#gc90)"/>
<rect x="103.9" y="694.3" width="511.3" height="2.5" fill="url(#gc91)"/>
<rect x="103.9" y="696.3" width="511.3" height="2.5" fill="url(#gc92)"/>
<rect x="103.9" y="698.3" width="511.3" height="2.5" fill="url(#gc93)"/>
<rect x="103.9" y="700.3" width="511.3" height="2.5" fill="url(#gc94)"/>
<rect x="103.9" y="702.3" width="511.3" height="2.5" fill="url(#gc95)"/>
<rect x="103.9" y="704.3" width="511.3" height="2.5" fill="url(#gc96)"/>
<rect x="103.9" y="706.3" width="511.3" height="2.5" fill="url(#gc97)"/>
<rect x="103.9" y="708.3" width="511.3" height="2.5" fill="url(#gc98)"/>
<rect x="103.9" y="710.3" width="511.3" height="2.5" fill="url(#gc99)"/>
<rect x="103.9" y="712.3" width="511.3" height="2.5" fill="url(#gc100)"/>
<rect x="103.9" y="714.3" width="511.3" height="2.5" fill="url(#gc101)"/>
<rect x="103.9" y="716.3" width="511.3" height="2.5" fill="url(#gc102)"/>
<rect x="103.9" y="718.3" width="511.3" height="2.5" fill="url(#gc103)"/>
<rect x="103.9" y="720.3" width="511.3" height="2.5" fill="url(#gc104)"/>
<rect x="103.9" y="722.3" width="511.3" height="2.5" fill="url(#gc105)"/>
<rect x="103.9" y="724.3" width="511.3" height="2.5" fill="url(#gc106)"/>
<rect x="103.9" y="726.3" width="511.3" height="2.5" fill="url(#gc107)"/>
<rect x="103.9" y="728.3" width="511.3" height="2.5" fill="url(#gc108)"/>
<rect x="103.9" y="730.3" width="511.3" height="2.5" fill="url(#gc109)"/>
<rect x="103.9" y="732.3" width="511.3" height="2.5" fill="url(#gc110)"/>
<rect x="103.9" y="734.3" width="511.3" height="2.5" fill="url(#gc111)"/>
<rect x="103.9" y="736.3" width="511.3" height="2.5" fill="url(#gc112)"/>
<rect x="103.9" y="738.3" width="511.3" height="2.5" fill="url(#gc113)"/>
<rect x="103.9" y="740.3" width="511.3" height="2.5" fill="url(#gc114)"/>
<rect x="103.9" y="742.3" width="511.3" height="2.5" fill="url(#gc115)"/>
<rect x="103.9" y="744.3" width="511.3" height="2.5" fill="url(#gc116)"/>
<rect x="103.9" y="746.3" width="511.3" height="2.5" fill="url(#gc117)"/>
<rect x="103.9" y="748.3" width="511.3" height="2.5" fill="url(#gc118)"/>
<rect x="103.9" y="750.3" width="511.3" height="2.5" fill="url(#gc119)"/>
<rect x="103.9" y="752.3" width="511.3" height="2.5" fill="url(#gc120)"/>
<rect x="103.9" y="754.3" width="511.3" height="2.5" fill="url(#gc121)"/>
<rect x="103.9" y="756.3" width="511.3" height="2.5" fill="url(#gc122)"/>
<rect x="103.9" y="758.3" width="511.3" height="2.5" fill="url(#gc123)"/>
<rect x="103.9" y="760.3" width="511.3" height="2.5" fill="url(#gc124)"/>
<rect x="103.9" y="762.3" width="511.3" height="2.5" fill="url(#gc125)"/>
<rect x="103.9" y="764.3" width="511.3" height="2.5" fill="url(#gc126)"/>
<rect x="103.9" y="766.3" width="511.3" height="2.5" fill="url(#gc127)"/>
<rect x="103.9" y="768.3" width="511.3" height="4.5" fill="url(#gc128)"/>
<rect x="103.9" y="772.3" width="511.3" height="2.5" fill="url(#gc129)"/>
<rect x="103.9" y="774.3" width="511.3" height="2.5" fill="url(#gc130)"/>
<rect x="103.9" y="776.3" width="511.3" height="2.5" fill="url(#gc131)"/>
<rect x="103.9" y="778.3" width="511.3" height="2.5" fill="url(#gc132)"/>
<rect x="103.9" y="780.3" width="511.3" height="2.5" fill="url(#gc133)"/>
<rect x="103.9" y="782.3" width="511.3" height="2.5" fill="url(#gc134)"/>
<rect x="103.9" y="784.3" width="511.3" height="2.5" fill="url(#gc135)"/>
<rect x="103.9" y="786.3" width="511.3" height="2.5" fill="url(#gc136)"/>
<rect x="103.9" y="788.3" width="511.3" height="2.5" fill="url(#gc137)"/>
<rect x="103.9" y="790.3" width="511.3" height="2.5" fill="url(#gc138)"/>
<rect x="103.9" y="792.3" width="511.3" height="2.5" fill="url(#gc139)"/>
<rect x="103.9" y="794.3" width="511.3" height="4.5" fill="url(#gc140)"/>
<rect x="103.9" y="798.3" width="511.3" height="2.5" fill="url(#gc141)"/>
<rect x="103.9" y="800.3" width="511.3" height="2.5" fill="url(#gc142)"/>
<rect x="103.9" y="802.3" width="511.3" height="2.5" fill="url(#gc143)"/>
<rect x="103.9" y="804.3" width="511.3" height="2.5" fill="url(#gc144)"/>
<rect x="103.9" y="806.3" width="511.3" height="2.5" fill="url(#gc145)"/>
<rect x="103.9" y="808.3" width="511.3" height="2.5" fill="url(#gc146)"/>
<rect x="103.9" y="810.3" width="511.3" height="2.5" fill="url(#gc147)"/>
<rect x="103.9" y="812.3" width="511.3" height="2.5" fill="url(#gc148)"/>
<rect x="103.9" y="814.3" width="511.3" height="2.5" fill="url(#gc149)"/>
<rect x="103.9" y="816.3" width="511.3" height="12.5" fill="url(#gc150)"/>
</g>
<rect x="103.9" y="670.35" width="511.3" height="4.7" fill="#f00"/>
<rect x="122.3" y="465.4" width="1.400" height="362.6" fill="#fff" fill-opacity=".93"/>
<rect x="337.8" y="463" width="1.400" height="365" fill="#fff" fill-opacity=".93"/>
<rect x="399.3" y="463" width="1.400" height="365" fill="#fff" fill-opacity=".93"/>
<rect x="593.5" y="485" width="1.200" height="343" fill="#000"/>
<rect x="594.7" y="485" width="1.200" height="343" fill="#fff"/>
<text class="w" x="118.8" y="456">Precue</text>
<text class="w" x="337.5" y="456" text-anchor="middle" style="font-size:26.5px">T1</text>
<text class="w" x="400.0" y="456" text-anchor="middle" style="font-size:26.5px">T2</text>
<text class="w" x="600.6" y="453.3" text-anchor="end">Response</text>
<text class="w" x="600.6" y="480.4" text-anchor="end">cue</text>
<rect x="100.9" y="426.2" width="6" height="407.500"/>
<rect x="93.4" y="827.8" width="522.2" height="5.800"/>
<rect x="93.4" y="428.1" width="8" height="4.800"/>
<rect x="93.4" y="509.0" width="8" height="4.800"/>
<rect x="93.4" y="589.7" width="8" height="4.800"/>
<rect x="93.4" y="670.3" width="8" height="4.800"/>
<rect x="93.4" y="751.0" width="8" height="4.800"/>
<text class="k" x="86" y="439.6" text-anchor="end">50</text>
<text class="k" x="86" y="518.3" text-anchor="end">40</text>
<text class="k" x="86" y="598.8" text-anchor="end">30</text>
<text class="k" x="86" y="677.5" text-anchor="end">20</text>
<text class="k" x="86" y="757.8" text-anchor="end">10</text>
<text class="k" x="86" y="840.5" text-anchor="end">0</text>
<rect x="120.8" y="833" width="4.400" height="9.200"/>
<text class="k" x="124.3" y="871.600" text-anchor="middle">0</text>
<rect x="223.4" y="833" width="4.400" height="9.200"/>
<text class="k" x="225.0" y="871.600" text-anchor="middle">500</text>
<rect x="326.0" y="833" width="4.400" height="9.200"/>
<text class="k" x="329.1" y="871.600" text-anchor="middle">1000</text>
<rect x="428.6" y="833" width="4.400" height="9.200"/>
<text class="k" x="430.4" y="871.600" text-anchor="middle">1500</text>
<rect x="531.2" y="833" width="4.400" height="9.200"/>
<text class="k" x="536.0" y="871.600" text-anchor="middle">2000</text>
<rect x="631.4" y="426.300" width="12.400" height="404.500" fill="url(#par)"/>
<rect x="642.8" y="513.5" width="13.400" height="4.400" fill="#262626"/>
<text class="k" transform="translate(660.9 515.7) rotate(90)" text-anchor="middle">250</text>
<rect x="642.8" y="640.1" width="13.400" height="4.400" fill="#262626"/>
<text class="k" transform="translate(660.9 642.3) rotate(90)" text-anchor="middle">150</text>
<rect x="642.8" y="767.0" width="13.400" height="4.400" fill="#262626"/>
<text class="k" transform="translate(660.9 769.2) rotate(90)" text-anchor="middle">50</text>
<text x="625.4" y="420" style="font-size:33px">fT<tspan dy="-11" style="font-size:18.5px">2</tspan></text>
</g>
<g id="panel-d">
<text class="b" x="727.5" y="398.3">d</text>
<text class="t" x="1009.5" y="397.3" text-anchor="middle">Single-trial power</text>
<g id="heat-d" shape-rendering="crispEdges">
<defs>
<linearGradient id="gd0"><stop offset="0" stop-color="#0163e7"/><stop offset="0.545" stop-color="#065ee4"/><stop offset="0.859" stop-color="#065ee4"/><stop offset="1" stop-color="#0163e7"/></linearGradient>
<linearGradient id="gd1"><stop offset="0" stop-color="#0163e7"/><stop offset="0.535" stop-color="#065ee4"/><stop offset="0.747" stop-color="#1056dd"/><stop offset="1" stop-color="#0163e7"/></linearGradient>
<linearGradient id="gd2"><stop offset="0" stop-color="#0163e8"/><stop offset="0.535" stop-color="#065ee4"/><stop offset="0.747" stop-color="#1056de"/><stop offset="1" stop-color="#0163e8"/></linearGradient>
<linearGradient id="gd3"><stop offset="0" stop-color="#0163e8"/><stop offset="0.535" stop-color="#065ee4"/><stop offset="0.747" stop-color="#0f57de"/><stop offset="1" stop-color="#0163e8"/></linearGradient>
<linearGradient id="gd4"><stop offset="0" stop-color="#0064e8"/><stop offset="0.535" stop-color="#065ee4"/><stop offset="0.747" stop-color="#0f57de"/><stop offset="1" stop-color="#0064e8"/></linearGradient>
<linearGradient id="gd5"><stop offset="0" stop-color="#0064e8"/><stop offset="0.535" stop-color="#065ee4"/><stop offset="0.747" stop-color="#0e57df"/><stop offset="1" stop-color="#0064e8"/></linearGradient>
<linearGradient id="gd6"><stop offset="0" stop-color="#0064e8"/><stop offset="0.535" stop-color="#055fe4"/><stop offset="0.747" stop-color="#0e57df"/><stop offset="1" stop-color="#0064e8"/></linearGradient>
<linearGradient id="gd7"><stop offset="0" stop-color="#0064e8"/><stop offset="0.535" stop-color="#055fe4"/><stop offset="0.747" stop-color="#0d57df"/><stop offset="1" stop-color="#0064e8"/></linearGradient>
<linearGradient id="gd8"><stop offset="0" stop-color="#0064e8"/><stop offset="0.535" stop-color="#055fe4"/><stop offset="0.747" stop-color="#0d58df"/><stop offset="1" stop-color="#0064e8"/></linearGradient>
<linearGradient id="gd9"><stop offset="0" stop-color="#0064e8"/><stop offset="0.535" stop-color="#055fe5"/><stop offset="0.747" stop-color="#0d58df"/><stop offset="1" stop-color="#0064e8"/></linearGradient>
<linearGradient id="gd10"><stop offset="0" stop-color="#0064e8"/><stop offset="0.535" stop-color="#055fe5"/><stop offset="0.747" stop-color="#0d58e0"/><stop offset="1" stop-color="#0064e8"/></linearGradient>
<linearGradient id="gd11"><stop offset="0" stop-color="#0064e8"/><stop offset="0.535" stop-color="#055fe5"/><stop offset="0.747" stop-color="#0c58e0"/><stop offset="1" stop-color="#0064e8"/></linearGradient>
<linearGradient id="gd12"><stop offset="0" stop-color="#0065e8"/><stop offset="0.535" stop-color="#055fe5"/><stop offset="0.747" stop-color="#0c58e0"/><stop offset="1" stop-color="#0065e8"/></linearGradient>
<linearGradient id="gd13"><stop offset="0" stop-color="#0065e8"/><stop offset="0.535" stop-color="#0460e5"/><stop offset="0.747" stop-color="#0b59e0"/><stop offset="1" stop-color="#0065e8"/></linearGradient>
<linearGradient id="gd14"><stop offset="0" stop-color="#0065e8"/><stop offset="0.535" stop-color="#0460e5"/><stop offset="0.747" stop-color="#0b59e1"/><stop offset="1" stop-color="#0065e8"/></linearGradient>
<linearGradient id="gd15"><stop offset="0" stop-color="#006de6"/><stop offset="0.535" stop-color="#006ae7"/><stop offset="0.848" stop-color="#006be7"/><stop offset="1" stop-color="#006de6"/></linearGradient>
<linearGradient id="gd16"><stop offset="0" stop-color="#008add"/><stop offset="0.475" stop-color="#0088de"/><stop offset="0.596" stop-color="#007be1"/><stop offset="0.788" stop-color="#007ee0"/><stop offset="0.909" stop-color="#008add"/><stop offset="1" stop-color="#008add"/></linearGradient>
<linearGradient id="gd17"><stop offset="0" stop-color="#00a2d0"/><stop offset="0.465" stop-color="#00a1d1"/><stop offset="0.576" stop-color="#008edc"/><stop offset="0.778" stop-color="#0092db"/><stop offset="0.919" stop-color="#00a7cb"/><stop offset="1" stop-color="#00a7cb"/></linearGradient>
<linearGradient id="gd18"><stop offset="0" stop-color="#85c066"/><stop offset="0.455" stop-color="#80c168"/><stop offset="0.515" stop-color="#00bd8b"/><stop offset="0.566" stop-color="#00b4b2"/><stop offset="0.758" stop-color="#00b4b2"/><stop offset="0.828" stop-color="#1bbf83"/><stop offset="0.909" stop-color="#c5b84e"/><stop offset="0.949" stop-color="#d5b441"/><stop offset="1" stop-color="#d5b441"/></linearGradient>
<linearGradient id="gd19"><stop offset="0" stop-color="#8ac065"/><stop offset="0.455" stop-color="#85c167"/><stop offset="0.515" stop-color="#00be88"/><stop offset="0.566" stop-color="#00b5b0"/><stop offset="0.758" stop-color="#00b5b0"/><stop offset="0.828" stop-color="#23bf81"/><stop offset="0.909" stop-color="#c8b74b"/><stop offset="0.949" stop-color="#d8b33f"/><stop offset="1" stop-color="#d8b33f"/></linearGradient>
<linearGradient id="gd20"><stop offset="0" stop-color="#a7bc5b"/><stop offset="0.455" stop-color="#a3bd5c"/><stop offset="0.515" stop-color="#38c07e"/><stop offset="0.566" stop-color="#00b99f"/><stop offset="0.758" stop-color="#00b99f"/><stop offset="0.828" stop-color="#5cc275"/><stop offset="0.909" stop-color="#e0b23c"/><stop offset="0.949" stop-color="#eeaf36"/><stop offset="1" stop-color="#eeaf36"/></linearGradient>
<linearGradient id="gd21"><stop offset="0" stop-color="#adbc59"/><stop offset="0.455" stop-color="#a9bc5a"/><stop offset="0.515" stop-color="#45c17b"/><stop offset="0.566" stop-color="#00ba9b"/><stop offset="0.758" stop-color="#00ba9a"/><stop offset="0.828" stop-color="#67c372"/><stop offset="0.909" stop-color="#e5b13a"/><stop offset="0.949" stop-color="#f0b032"/><stop offset="1" stop-color="#f0b032"/></linearGradient>
<linearGradient id="gd22"><stop offset="0" stop-color="#e7b03a"/><stop offset="0.434" stop-color="#e3b13b"/><stop offset="0.505" stop-color="#98be60"/><stop offset="0.596" stop-color="#7ac16b"/><stop offset="0.758" stop-color="#80c168"/><stop offset="0.828" stop-color="#d1b544"/><stop offset="0.899" stop-color="#fbb712"/><stop offset="1" stop-color="#feba06"/></linearGradient>
<linearGradient id="gd23"><stop offset="0" stop-color="#ffd800"/><stop offset="0.434" stop-color="#ffd500"/><stop offset="0.495" stop-color="#f8b41f"/><stop offset="0.758" stop-color="#f9b51b"/><stop offset="0.838" stop-color="#ffda00"/><stop offset="0.889" stop-color="#faf100"/><stop offset="1" stop-color="#f9f300"/></linearGradient>
<linearGradient id="gd24"><stop offset="0" stop-color="#72c26e"/><stop offset="0.465" stop-color="#69c371"/><stop offset="0.566" stop-color="#00b99f"/><stop offset="0.768" stop-color="#00ba9c"/><stop offset="0.889" stop-color="#71c26e"/><stop offset="1" stop-color="#72c26e"/></linearGradient>
<linearGradient id="gd25"><stop offset="0" stop-color="#55c277"/><stop offset="0.465" stop-color="#46c17b"/><stop offset="0.566" stop-color="#00b6aa"/><stop offset="0.768" stop-color="#00b7a8"/><stop offset="0.889" stop-color="#52c277"/><stop offset="1" stop-color="#55c277"/></linearGradient>
<linearGradient id="gd26"><stop offset="0" stop-color="#00b7a8"/><stop offset="0.434" stop-color="#00b7a9"/><stop offset="0.455" stop-color="#00b1bc"/><stop offset="0.485" stop-color="#009ad6"/><stop offset="0.505" stop-color="#0095da"/><stop offset="0.556" stop-color="#0091db"/><stop offset="0.616" stop-color="#0076e3"/><stop offset="0.859" stop-color="#0077e3"/><stop offset="0.949" stop-color="#0094da"/><stop offset="1" stop-color="#0095da"/></linearGradient>
<linearGradient id="gd27"><stop offset="0" stop-color="#00b5ae"/><stop offset="0.434" stop-color="#00b5ae"/><stop offset="0.455" stop-color="#00aec0"/><stop offset="0.485" stop-color="#0097d8"/><stop offset="0.505" stop-color="#0090db"/><stop offset="0.556" stop-color="#008cdc"/><stop offset="0.616" stop-color="#0071e5"/><stop offset="0.859" stop-color="#0073e4"/><stop offset="0.949" stop-color="#008fdc"/><stop offset="1" stop-color="#0090db"/></linearGradient>
<linearGradient id="gd28"><stop offset="0" stop-color="#00b4b4"/><stop offset="0.434" stop-color="#00b4b4"/><stop offset="0.455" stop-color="#00acc4"/><stop offset="0.485" stop-color="#0094da"/><stop offset="0.505" stop-color="#008bdd"/><stop offset="0.556" stop-color="#0088de"/><stop offset="0.616" stop-color="#006ee6"/><stop offset="0.859" stop-color="#006fe6"/><stop offset="0.949" stop-color="#008bdd"/><stop offset="1" stop-color="#008bdd"/></linearGradient>
<linearGradient id="gd29"><stop offset="0" stop-color="#00b2b9"/><stop offset="0.434" stop-color="#00b2b9"/><stop offset="0.455" stop-color="#00a9c9"/><stop offset="0.485" stop-color="#008cdd"/><stop offset="0.505" stop-color="#0083df"/><stop offset="0.556" stop-color="#0081e0"/><stop offset="0.616" stop-color="#006ae7"/><stop offset="0.859" stop-color="#006be7"/><stop offset="0.96" stop-color="#0081e0"/><stop offset="1" stop-color="#0081e0"/></linearGradient>
<linearGradient id="gd30"><stop offset="0" stop-color="#00b0bd"/><stop offset="0.434" stop-color="#00b0bd"/><stop offset="0.455" stop-color="#00a5cd"/><stop offset="0.485" stop-color="#0080e0"/><stop offset="0.495" stop-color="#0079e2"/><stop offset="0.566" stop-color="#0073e4"/><stop offset="0.616" stop-color="#0065e8"/><stop offset="0.869" stop-color="#0066e8"/><stop offset="0.97" stop-color="#0072e5"/><stop offset="1" stop-color="#0072e5"/></linearGradient>
<linearGradient id="gd31"><stop offset="0" stop-color="#00aec1"/><stop offset="0.434" stop-color="#00adc2"/><stop offset="0.455" stop-color="#00a3cf"/><stop offset="0.485" stop-color="#007de1"/><stop offset="0.495" stop-color="#0075e3"/><stop offset="0.566" stop-color="#006fe5"/><stop offset="0.616" stop-color="#055fe5"/><stop offset="0.869" stop-color="#0262e7"/><stop offset="0.97" stop-color="#006ee6"/><stop offset="1" stop-color="#006ee6"/></linearGradient>
<linearGradient id="gd32"><stop offset="0" stop-color="#00abc6"/><stop offset="0.434" stop-color="#00abc6"/><stop offset="0.455" stop-color="#00a0d2"/><stop offset="0.485" stop-color="#0079e2"/><stop offset="0.495" stop-color="#0072e5"/><stop offset="0.566" stop-color="#006ce6"/><stop offset="0.616" stop-color="#0b59e1"/><stop offset="0.869" stop-color="#085ce3"/><stop offset="0.97" stop-color="#006be7"/><stop offset="1" stop-color="#006be7"/></linearGradient>
<linearGradient id="gd33"><stop offset="0" stop-color="#0065e8"/><stop offset="0.556" stop-color="#0163e7"/><stop offset="0.626" stop-color="#2a4acb"/><stop offset="0.909" stop-color="#224fd2"/><stop offset="0.99" stop-color="#085ce2"/><stop offset="1" stop-color="#085ce2"/></linearGradient>
<linearGradient id="gd34"><stop offset="0" stop-color="#1554da"/><stop offset="0.576" stop-color="#224ed2"/><stop offset="0.848" stop-color="#2c49c9"/><stop offset="1" stop-color="#224fd2"/></linearGradient>
<linearGradient id="gd35"><stop offset="0" stop-color="#39288d"/><stop offset="0.424" stop-color="#39288d"/><stop offset="0.434" stop-color="#3b33a2"/><stop offset="0.455" stop-color="#0065e8"/><stop offset="1" stop-color="#0065e8"/></linearGradient>
<linearGradient id="gd36"><stop offset="0" stop-color="#39288c"/><stop offset="0.424" stop-color="#39288c"/><stop offset="0.434" stop-color="#3b33a2"/><stop offset="0.455" stop-color="#0065e8"/><stop offset="1" stop-color="#0065e8"/></linearGradient>
<linearGradient id="gd37"><stop offset="0" stop-color="#39288c"/><stop offset="0.424" stop-color="#39288c"/><stop offset="0.434" stop-color="#3b33a1"/><stop offset="0.455" stop-color="#0064e8"/><stop offset="1" stop-color="#0065e8"/></linearGradient>
<linearGradient id="gd38"><stop offset="0" stop-color="#39288c"/><stop offset="0.424" stop-color="#39288c"/><stop offset="0.455" stop-color="#2c49c9"/><stop offset="1" stop-color="#2c49c9"/></linearGradient>
</defs>
<rect x="753.8" y="426.3" width="512.8" height="124.5" fill="#38278a"/>
<rect x="753.8" y="550.3" width="512.8" height="2.5" fill="#39288c"/>
<rect x="753.8" y="552.3" width="512.8" height="2.5" fill="#39288d"/>
<rect x="753.8" y="554.3" width="512.8" height="2.5" fill="#39298e"/>
<rect x="753.8" y="556.3" width="512.8" height="2.5" fill="#392a8f"/>
<rect x="753.8" y="558.3" width="512.8" height="2.5" fill="#392b91"/>
<rect x="753.8" y="560.3" width="512.8" height="2.5" fill="#3a2c93"/>
<rect x="753.8" y="562.3" width="512.8" height="2.5" fill="#3a2c95"/>
<rect x="753.8" y="564.3" width="512.8" height="2.5" fill="#3a2d97"/>
<rect x="753.8" y="566.3" width="512.8" height="2.5" fill="#3a2e99"/>
<rect x="753.8" y="568.3" width="512.8" height="2.5" fill="#3a2f9a"/>
<rect x="753.8" y="570.3" width="512.8" height="2.5" fill="#3b309c"/>
<rect x="753.8" y="572.3" width="512.8" height="2.5" fill="#3b319e"/>
<rect x="753.8" y="574.3" width="512.8" height="2.5" fill="#3b32a0"/>
<rect x="753.8" y="576.3" width="512.8" height="2.5" fill="#3b33a3"/>
<rect x="753.8" y="578.3" width="512.8" height="2.5" fill="#3a35a6"/>
<rect x="753.8" y="580.3" width="512.8" height="2.5" fill="#3a36a8"/>
<rect x="753.8" y="582.3" width="512.8" height="2.5" fill="#3a37aa"/>
<rect x="753.8" y="584.3" width="512.8" height="2.5" fill="#3938ab"/>
<rect x="753.8" y="586.3" width="512.8" height="2.5" fill="#3938ad"/>
<rect x="753.8" y="588.3" width="512.8" height="2.5" fill="#3939ae"/>
<rect x="753.8" y="590.3" width="512.8" height="2.5" fill="#393ab0"/>
<rect x="753.8" y="592.3" width="512.8" height="2.5" fill="#393bb1"/>
<rect x="753.8" y="594.3" width="512.8" height="2.5" fill="#383bb3"/>
<rect x="753.8" y="596.3" width="512.8" height="2.5" fill="#383cb4"/>
<rect x="753.8" y="598.3" width="512.8" height="8.5" fill="#383db6"/>
<rect x="753.8" y="606.3" width="512.8" height="8.5" fill="#383db7"/>
<rect x="753.8" y="614.3" width="512.8" height="8.5" fill="#383eb7"/>
<rect x="753.8" y="622.3" width="512.8" height="16.5" fill="#383eb8"/>
<rect x="753.8" y="638.3" width="512.8" height="16.5" fill="#3443c0"/>
<rect x="753.8" y="654.3" width="512.8" height="2.5" fill="#3244c2"/>
<rect x="753.8" y="656.3" width="512.8" height="2.5" fill="#2d48c9"/>
<rect x="753.8" y="658.3" width="512.8" height="2.5" fill="#2c49c9"/>
<rect x="753.8" y="660.3" width="512.8" height="2.5" fill="#2c49ca"/>
<rect x="753.8" y="662.3" width="512.8" height="2.5" fill="#2b49ca"/>
<rect x="753.8" y="664.3" width="512.8" height="2.5" fill="#2b4acb"/>
<rect x="753.8" y="666.3" width="512.8" height="2.5" fill="#284cce"/>
<rect x="753.8" y="668.3" width="512.8" height="2.5" fill="#065ee4"/>
<rect x="753.8" y="670.3" width="512.8" height="2.5" fill="url(#gd0)"/>
<rect x="753.8" y="672.3" width="512.8" height="4.5" fill="url(#gd1)"/>
<rect x="753.8" y="676.3" width="512.8" height="4.5" fill="url(#gd2)"/>
<rect x="753.8" y="680.3" width="512.8" height="2.5" fill="url(#gd3)"/>
<rect x="753.8" y="682.3" width="512.8" height="6.5" fill="url(#gd4)"/>
<rect x="753.8" y="688.3" width="512.8" height="6.5" fill="url(#gd5)"/>
<rect x="753.8" y="694.3" width="512.8" height="2.5" fill="url(#gd6)"/>
<rect x="753.8" y="696.3" width="512.8" height="2.5" fill="url(#gd7)"/>
<rect x="753.8" y="698.3" width="512.8" height="2.5" fill="url(#gd8)"/>
<rect x="753.8" y="700.3" width="512.8" height="2.5" fill="url(#gd9)"/>
<rect x="753.8" y="702.3" width="512.8" height="2.5" fill="url(#gd10)"/>
<rect x="753.8" y="704.3" width="512.8" height="14.5" fill="url(#gd11)"/>
<rect x="753.8" y="718.3" width="512.8" height="2.5" fill="url(#gd12)"/>
<rect x="753.8" y="720.3" width="512.8" height="6.5" fill="url(#gd13)"/>
<rect x="753.8" y="726.3" width="512.8" height="6.5" fill="url(#gd14)"/>
<rect x="753.8" y="732.3" width="512.8" height="2.5" fill="url(#gd15)"/>
<rect x="753.8" y="734.3" width="512.8" height="6.5" fill="url(#gd16)"/>
<rect x="753.8" y="740.3" width="512.8" height="2.5" fill="url(#gd17)"/>
<rect x="753.8" y="742.3" width="512.8" height="2.5" fill="url(#gd18)"/>
<rect x="753.8" y="744.3" width="512.8" height="2.5" fill="url(#gd19)"/>
<rect x="753.8" y="746.3" width="512.8" height="2.5" fill="url(#gd20)"/>
<rect x="753.8" y="748.3" width="512.8" height="2.5" fill="url(#gd21)"/>
<rect x="753.8" y="750.3" width="512.8" height="2.5" fill="url(#gd22)"/>
<rect x="753.8" y="752.3" width="512.8" height="4.5" fill="url(#gd23)"/>
<rect x="753.8" y="756.3" width="512.8" height="2.5" fill="url(#gd24)"/>
<rect x="753.8" y="758.3" width="512.8" height="2.5" fill="url(#gd25)"/>
<rect x="753.8" y="760.3" width="512.8" height="2.5" fill="url(#gd26)"/>
<rect x="753.8" y="762.3" width="512.8" height="2.5" fill="url(#gd27)"/>
<rect x="753.8" y="764.3" width="512.8" height="2.5" fill="url(#gd28)"/>
<rect x="753.8" y="766.3" width="512.8" height="2.5" fill="url(#gd29)"/>
<rect x="753.8" y="768.3" width="512.8" height="2.5" fill="url(#gd30)"/>
<rect x="753.8" y="770.3" width="512.8" height="2.5" fill="url(#gd31)"/>
<rect x="753.8" y="772.3" width="512.8" height="2.5" fill="url(#gd32)"/>
<rect x="753.8" y="774.3" width="512.8" height="8.5" fill="url(#gd33)"/>
<rect x="753.8" y="782.3" width="512.8" height="2.5" fill="url(#gd34)"/>
<rect x="753.8" y="784.3" width="512.8" height="4.5" fill="#2d48c8"/>
<rect x="753.8" y="788.3" width="512.8" height="2.5" fill="#383db5"/>
<rect x="753.8" y="790.3" width="512.8" height="4.5" fill="#3938ac"/>
<rect x="753.8" y="794.3" width="512.8" height="2.5" fill="#3937ab"/>
<rect x="753.8" y="796.3" width="512.8" height="4.5" fill="#3a37aa"/>
<rect x="753.8" y="800.3" width="512.8" height="2.5" fill="#3a36a9"/>
<rect x="753.8" y="802.3" width="512.8" height="4.5" fill="#3a36a8"/>
<rect x="753.8" y="806.3" width="512.8" height="2.5" fill="#3b33a1"/>
<rect x="753.8" y="808.3" width="512.8" height="2.5" fill="#3b319d"/>
<rect x="753.8" y="810.3" width="512.8" height="2.5" fill="#3b33a3"/>
<rect x="753.8" y="812.3" width="512.8" height="2.5" fill="#3a35a6"/>
<rect x="753.8" y="814.3" width="512.8" height="2.5" fill="url(#gd35)"/>
<rect x="753.8" y="816.3" width="512.8" height="2.5" fill="url(#gd36)"/>
<rect x="753.8" y="818.3" width="512.8" height="4.5" fill="url(#gd37)"/>
<rect x="753.8" y="822.3" width="512.8" height="2.5" fill="url(#gd38)"/>
<rect x="753.8" y="824.3" width="512.8" height="4.5" fill="#39288c"/>
</g>
<rect x="753.8" y="666.9" width="512.8" height="4.2" fill="#f00"/>
<rect x="773.7" y="465.4" width="1.400" height="362.6" fill="#fff" fill-opacity=".93"/>
<rect x="989.2" y="463" width="1.400" height="365" fill="#fff" fill-opacity=".93"/>
<rect x="1050.7" y="463" width="1.400" height="365" fill="#fff" fill-opacity=".93"/>
<rect x="1245.7" y="485" width="1.400" height="343" fill="#fff" fill-opacity=".93"/>
<text class="w" x="770.2" y="454.8">Precue</text>
<text class="w" x="988.9" y="454.8" text-anchor="middle" style="font-size:26.5px">T1</text>
<text class="w" x="1051.4" y="454.8" text-anchor="middle" style="font-size:26.5px">T2</text>
<text class="w" x="1252" y="452.1" text-anchor="end">Response</text>
<text class="w" x="1252" y="479.2" text-anchor="end">cue</text>
<rect x="750.8" y="426.2" width="6" height="407.500"/>
<rect x="743.3" y="827.8" width="523.7" height="5.800"/>
<rect x="743.3" y="427.9" width="8" height="4.800"/>
<rect x="743.3" y="507.6" width="8" height="4.800"/>
<rect x="743.3" y="587.4" width="8" height="4.800"/>
<rect x="743.3" y="666.6" width="8" height="4.800"/>
<rect x="743.3" y="745.7" width="8" height="4.800"/>
<rect x="772.2" y="833" width="4.400" height="9.200"/>
<text class="k" x="774.2" y="871.600" text-anchor="middle">0</text>
<rect x="874.8" y="833" width="4.400" height="9.200"/>
<text class="k" x="875.8" y="871.600" text-anchor="middle">500</text>
<rect x="977.4" y="833" width="4.400" height="9.200"/>
<text class="k" x="979.7" y="871.600" text-anchor="middle">1000</text>
<rect x="1080.0" y="833" width="4.400" height="9.200"/>
<text class="k" x="1081.3" y="871.600" text-anchor="middle">1500</text>
<rect x="1182.6" y="833" width="4.400" height="9.200"/>
<text class="k" x="1186.8" y="871.600" text-anchor="middle">2000</text>
<rect x="1283" y="426.300" width="12.400" height="404.500" fill="url(#par)"/>
<rect x="1293.2" y="499.7" width="13.400" height="4.400" fill="#262626"/>
<text class="k" transform="translate(1310.8 501.9) rotate(90)" text-anchor="middle">10000</text>
<rect x="1293.2" y="634.0" width="13.400" height="4.400" fill="#262626"/>
<text class="k" transform="translate(1310.8 636.2) rotate(90)" text-anchor="middle">6000</text>
<rect x="1293.2" y="769.3" width="13.400" height="4.400" fill="#262626"/>
<text class="k" transform="translate(1310.8 771.5) rotate(90)" text-anchor="middle">2000</text>
<text x="1275.4" y="420" style="font-size:33px">fT<tspan dy="-11" style="font-size:18.5px">2</tspan></text>
</g>
<g id="panel-e">
<text class="b" x="1387.5" y="398">e</text>
<text class="t" x="1672" y="397" text-anchor="middle">ITPC</text>
<g id="heat-e" shape-rendering="crispEdges">
<defs>
<linearGradient id="ge0"><stop offset="0" stop-color="#3046c4"/><stop offset="0.0606" stop-color="#3a37ab"/><stop offset="0.455" stop-color="#383bb3"/><stop offset="0.495" stop-color="#1554da"/><stop offset="0.576" stop-color="#2d48c9"/><stop offset="0.626" stop-color="#1654da"/><stop offset="0.707" stop-color="#3937ab"/><stop offset="1" stop-color="#3a37ab"/></linearGradient>
<linearGradient id="ge1"><stop offset="0" stop-color="#3046c4"/><stop offset="0.0606" stop-color="#3a37ab"/><stop offset="0.455" stop-color="#383cb4"/><stop offset="0.495" stop-color="#0b59e0"/><stop offset="0.566" stop-color="#2d48c8"/><stop offset="0.626" stop-color="#0b59e0"/><stop offset="0.707" stop-color="#3937ab"/><stop offset="1" stop-color="#3a37ab"/></linearGradient>
<linearGradient id="ge2"><stop offset="0" stop-color="#3046c4"/><stop offset="0.0606" stop-color="#3a37ab"/><stop offset="0.455" stop-color="#383db6"/><stop offset="0.495" stop-color="#085ce3"/><stop offset="0.566" stop-color="#2d48c8"/><stop offset="0.626" stop-color="#085ce3"/><stop offset="0.707" stop-color="#3937ab"/><stop offset="1" stop-color="#3a37ab"/></linearGradient>
<linearGradient id="ge3"><stop offset="0" stop-color="#3046c4"/><stop offset="0.0606" stop-color="#3a37ab"/><stop offset="0.455" stop-color="#383db7"/><stop offset="0.495" stop-color="#0460e5"/><stop offset="0.525" stop-color="#0d58df"/><stop offset="0.566" stop-color="#2c49c9"/><stop offset="0.626" stop-color="#0460e6"/><stop offset="0.697" stop-color="#3938ad"/><stop offset="1" stop-color="#3a37ab"/></linearGradient>
<linearGradient id="ge4"><stop offset="0" stop-color="#3046c4"/><stop offset="0.0606" stop-color="#3a37ab"/><stop offset="0.444" stop-color="#393aaf"/><stop offset="0.475" stop-color="#244ed0"/><stop offset="0.495" stop-color="#0064e8"/><stop offset="0.525" stop-color="#0a5ae1"/><stop offset="0.566" stop-color="#2c49ca"/><stop offset="0.616" stop-color="#0065e8"/><stop offset="0.697" stop-color="#3939ad"/><stop offset="1" stop-color="#3a37ab"/></linearGradient>
<linearGradient id="ge5"><stop offset="0" stop-color="#3046c4"/><stop offset="0.0606" stop-color="#3a37ab"/><stop offset="0.444" stop-color="#393ab0"/><stop offset="0.475" stop-color="#2050d3"/><stop offset="0.495" stop-color="#0065e8"/><stop offset="0.515" stop-color="#0064e8"/><stop offset="0.556" stop-color="#2b4aca"/><stop offset="0.586" stop-color="#1952d7"/><stop offset="0.616" stop-color="#0066e8"/><stop offset="0.657" stop-color="#214fd3"/><stop offset="0.697" stop-color="#3939ad"/><stop offset="1" stop-color="#3a37ab"/></linearGradient>
<linearGradient id="ge6"><stop offset="0" stop-color="#3046c4"/><stop offset="0.0606" stop-color="#3a37ab"/><stop offset="0.444" stop-color="#393ab0"/><stop offset="0.475" stop-color="#1c51d6"/><stop offset="0.495" stop-color="#0067e7"/><stop offset="0.515" stop-color="#0066e8"/><stop offset="0.556" stop-color="#2a4acb"/><stop offset="0.586" stop-color="#1654d9"/><stop offset="0.616" stop-color="#0068e7"/><stop offset="0.646" stop-color="#0a5ae2"/><stop offset="0.697" stop-color="#3939ad"/><stop offset="1" stop-color="#3a37ab"/></linearGradient>
<linearGradient id="ge7"><stop offset="0" stop-color="#3046c4"/><stop offset="0.0606" stop-color="#3a37ab"/><stop offset="0.444" stop-color="#393ab0"/><stop offset="0.475" stop-color="#1952d8"/><stop offset="0.495" stop-color="#0068e7"/><stop offset="0.515" stop-color="#0067e7"/><stop offset="0.556" stop-color="#2a4acb"/><stop offset="0.586" stop-color="#1454db"/><stop offset="0.616" stop-color="#0069e7"/><stop offset="0.636" stop-color="#0065e8"/><stop offset="0.697" stop-color="#3939ad"/><stop offset="1" stop-color="#3a37ab"/></linearGradient>
<linearGradient id="ge8"><stop offset="0" stop-color="#3046c4"/><stop offset="0.0606" stop-color="#3a37ab"/><stop offset="0.444" stop-color="#393ab1"/><stop offset="0.475" stop-color="#1753d9"/><stop offset="0.495" stop-color="#0069e7"/><stop offset="0.515" stop-color="#0068e7"/><stop offset="0.556" stop-color="#2a4acc"/><stop offset="0.586" stop-color="#1355db"/><stop offset="0.616" stop-color="#006ae7"/><stop offset="0.636" stop-color="#0066e8"/><stop offset="0.697" stop-color="#3939ad"/><stop offset="1" stop-color="#3a37ab"/></linearGradient>
<linearGradient id="ge9"><stop offset="0" stop-color="#3046c4"/><stop offset="0.0606" stop-color="#3a37ab"/><stop offset="0.444" stop-color="#393ab0"/><stop offset="0.475" stop-color="#1753d9"/><stop offset="0.495" stop-color="#006ae7"/><stop offset="0.515" stop-color="#0069e7"/><stop offset="0.556" stop-color="#2a4bcc"/><stop offset="0.586" stop-color="#1355db"/><stop offset="0.616" stop-color="#006be7"/><stop offset="0.636" stop-color="#0066e8"/><stop offset="0.697" stop-color="#3939ad"/><stop offset="1" stop-color="#3a37ab"/></linearGradient>
<linearGradient id="ge10"><stop offset="0" stop-color="#3046c4"/><stop offset="0.0606" stop-color="#3a37ab"/><stop offset="0.444" stop-color="#393ab0"/><stop offset="0.475" stop-color="#1753d9"/><stop offset="0.495" stop-color="#006ae7"/><stop offset="0.515" stop-color="#0069e7"/><stop offset="0.556" stop-color="#2a4bcc"/><stop offset="0.586" stop-color="#1455db"/><stop offset="0.616" stop-color="#006ce6"/><stop offset="0.636" stop-color="#0067e7"/><stop offset="0.687" stop-color="#383eb8"/><stop offset="0.949" stop-color="#3a37ab"/><stop offset="1" stop-color="#3a37ab"/></linearGradient>
<linearGradient id="ge11"><stop offset="0" stop-color="#3046c4"/><stop offset="0.0606" stop-color="#3a37ab"/><stop offset="0.444" stop-color="#393ab0"/><stop offset="0.475" stop-color="#1753d9"/><stop offset="0.495" stop-color="#006ae7"/><stop offset="0.505" stop-color="#006de6"/><stop offset="0.556" stop-color="#2a4bcc"/><stop offset="0.586" stop-color="#1455db"/><stop offset="0.616" stop-color="#006ce6"/><stop offset="0.636" stop-color="#0067e7"/><stop offset="0.687" stop-color="#383eb8"/><stop offset="0.929" stop-color="#3a37ab"/><stop offset="1" stop-color="#3a37ab"/></linearGradient>
<linearGradient id="ge12"><stop offset="0" stop-color="#3046c4"/><stop offset="0.0606" stop-color="#3a37ab"/><stop offset="0.444" stop-color="#393ab0"/><stop offset="0.475" stop-color="#1853d8"/><stop offset="0.495" stop-color="#006be7"/><stop offset="0.505" stop-color="#006ee6"/><stop offset="0.556" stop-color="#2a4bcc"/><stop offset="0.586" stop-color="#1454db"/><stop offset="0.616" stop-color="#006de6"/><stop offset="0.636" stop-color="#0068e7"/><stop offset="0.687" stop-color="#383eb8"/><stop offset="0.919" stop-color="#3a37ab"/><stop offset="1" stop-color="#3a37ab"/></linearGradient>
<linearGradient id="ge13"><stop offset="0" stop-color="#3046c4"/><stop offset="0.0606" stop-color="#3a37ab"/><stop offset="0.444" stop-color="#393ab0"/><stop offset="0.475" stop-color="#1853d8"/><stop offset="0.495" stop-color="#006be7"/><stop offset="0.505" stop-color="#006fe6"/><stop offset="0.556" stop-color="#2a4bcc"/><stop offset="0.586" stop-color="#1554da"/><stop offset="0.616" stop-color="#006ee6"/><stop offset="0.626" stop-color="#006ee6"/><stop offset="0.687" stop-color="#383eb8"/><stop offset="0.909" stop-color="#3a37ab"/><stop offset="1" stop-color="#3a37ab"/></linearGradient>
<linearGradient id="ge14"><stop offset="0" stop-color="#3046c4"/><stop offset="0.0606" stop-color="#3a37ab"/><stop offset="0.444" stop-color="#393ab0"/><stop offset="0.475" stop-color="#1853d8"/><stop offset="0.495" stop-color="#006ce6"/><stop offset="0.505" stop-color="#0070e5"/><stop offset="0.556" stop-color="#294bcc"/><stop offset="0.586" stop-color="#1554da"/><stop offset="0.616" stop-color="#006ee6"/><stop offset="0.626" stop-color="#006fe6"/><stop offset="0.677" stop-color="#3244c2"/><stop offset="0.717" stop-color="#3937ab"/><stop offset="1" stop-color="#3a37ab"/></linearGradient>
<linearGradient id="ge15"><stop offset="0" stop-color="#3046c4"/><stop offset="0.0606" stop-color="#3a37ab"/><stop offset="0.444" stop-color="#393ab0"/><stop offset="0.475" stop-color="#1853d8"/><stop offset="0.495" stop-color="#006de6"/><stop offset="0.505" stop-color="#0071e5"/><stop offset="0.525" stop-color="#0066e8"/><stop offset="0.556" stop-color="#294bcc"/><stop offset="0.586" stop-color="#1554da"/><stop offset="0.616" stop-color="#006fe6"/><stop offset="0.626" stop-color="#0070e5"/><stop offset="0.677" stop-color="#3244c2"/><stop offset="0.707" stop-color="#3937ab"/><stop offset="1" stop-color="#3a37ab"/></linearGradient>
<linearGradient id="ge16"><stop offset="0" stop-color="#3046c4"/><stop offset="0.0606" stop-color="#3a37ab"/><stop offset="0.444" stop-color="#393ab0"/><stop offset="0.475" stop-color="#1853d8"/><stop offset="0.495" stop-color="#006de6"/><stop offset="0.505" stop-color="#0072e5"/><stop offset="0.525" stop-color="#0067e7"/><stop offset="0.556" stop-color="#294bcc"/><stop offset="0.586" stop-color="#1654da"/><stop offset="0.616" stop-color="#0070e5"/><stop offset="0.626" stop-color="#0071e5"/><stop offset="0.677" stop-color="#3244c2"/><stop offset="0.707" stop-color="#3937ab"/><stop offset="1" stop-color="#3a37ab"/></linearGradient>
<linearGradient id="ge17"><stop offset="0" stop-color="#3046c4"/><stop offset="0.0606" stop-color="#3a37ab"/><stop offset="0.444" stop-color="#393ab0"/><stop offset="0.475" stop-color="#1953d8"/><stop offset="0.495" stop-color="#006ee6"/><stop offset="0.505" stop-color="#0073e4"/><stop offset="0.525" stop-color="#0067e7"/><stop offset="0.556" stop-color="#294bcd"/><stop offset="0.586" stop-color="#1654da"/><stop offset="0.616" stop-color="#0071e5"/><stop offset="0.626" stop-color="#0072e4"/><stop offset="0.677" stop-color="#3244c2"/><stop offset="0.707" stop-color="#3937ab"/><stop offset="1" stop-color="#3a37ab"/></linearGradient>
<linearGradient id="ge18"><stop offset="0" stop-color="#3046c4"/><stop offset="0.0606" stop-color="#3a37ab"/><stop offset="0.444" stop-color="#393aaf"/><stop offset="0.475" stop-color="#1953d8"/><stop offset="0.495" stop-color="#006fe6"/><stop offset="0.505" stop-color="#0074e4"/><stop offset="0.515" stop-color="#0071e5"/><stop offset="0.545" stop-color="#1c51d6"/><stop offset="0.576" stop-color="#284cce"/><stop offset="0.596" stop-color="#0460e5"/><stop offset="0.616" stop-color="#0072e4"/><stop offset="0.626" stop-color="#0074e4"/><stop offset="0.667" stop-color="#2a4bcc"/><stop offset="0.697" stop-color="#3939ae"/><stop offset="1" stop-color="#3a37ab"/></linearGradient>
<linearGradient id="ge19"><stop offset="0" stop-color="#2f46c5"/><stop offset="0.0606" stop-color="#3938ac"/><stop offset="0.444" stop-color="#393ab1"/><stop offset="0.475" stop-color="#1753d9"/><stop offset="0.495" stop-color="#0070e5"/><stop offset="0.505" stop-color="#0076e3"/><stop offset="0.515" stop-color="#0073e4"/><stop offset="0.545" stop-color="#1952d8"/><stop offset="0.576" stop-color="#284cce"/><stop offset="0.596" stop-color="#0460e6"/><stop offset="0.616" stop-color="#0074e4"/><stop offset="0.626" stop-color="#0076e3"/><stop offset="0.667" stop-color="#294bcd"/><stop offset="0.697" stop-color="#393aaf"/><stop offset="1" stop-color="#3938ac"/></linearGradient>
<linearGradient id="ge20"><stop offset="0" stop-color="#2b49ca"/><stop offset="0.0606" stop-color="#383db6"/><stop offset="0.444" stop-color="#373fbb"/><stop offset="0.475" stop-color="#0b59e0"/><stop offset="0.495" stop-color="#0073e4"/><stop offset="0.505" stop-color="#007ae2"/><stop offset="0.515" stop-color="#0077e3"/><stop offset="0.545" stop-color="#0c58e0"/><stop offset="0.576" stop-color="#1b52d7"/><stop offset="0.596" stop-color="#0064e8"/><stop offset="0.616" stop-color="#0078e3"/><stop offset="0.626" stop-color="#007ae2"/><stop offset="0.667" stop-color="#1e50d5"/><stop offset="0.697" stop-color="#373fb9"/><stop offset="1" stop-color="#383db6"/></linearGradient>
<linearGradient id="ge21"><stop offset="0" stop-color="#264dcf"/><stop offset="0.0606" stop-color="#3541be"/><stop offset="0.444" stop-color="#3443c0"/><stop offset="0.465" stop-color="#284cce"/><stop offset="0.505" stop-color="#007ee0"/><stop offset="0.515" stop-color="#007be1"/><stop offset="0.545" stop-color="#075de3"/><stop offset="0.576" stop-color="#0e57df"/><stop offset="0.596" stop-color="#0067e7"/><stop offset="0.616" stop-color="#007be1"/><stop offset="0.626" stop-color="#007ee0"/><stop offset="0.667" stop-color="#1056de"/><stop offset="0.697" stop-color="#3442bf"/><stop offset="1" stop-color="#3541be"/></linearGradient>
<linearGradient id="ge22"><stop offset="0" stop-color="#1952d8"/><stop offset="0.0606" stop-color="#3244c3"/><stop offset="0.455" stop-color="#2c49c9"/><stop offset="0.475" stop-color="#0361e6"/><stop offset="0.505" stop-color="#0083df"/><stop offset="0.515" stop-color="#007fe0"/><stop offset="0.535" stop-color="#0069e7"/><stop offset="0.556" stop-color="#095be2"/><stop offset="0.586" stop-color="#0262e6"/><stop offset="0.606" stop-color="#0074e4"/><stop offset="0.616" stop-color="#007fe0"/><stop offset="0.626" stop-color="#0082df"/><stop offset="0.667" stop-color="#095be2"/><stop offset="0.697" stop-color="#3045c4"/><stop offset="1" stop-color="#3244c3"/></linearGradient>
<linearGradient id="ge23"><stop offset="0" stop-color="#0c58e0"/><stop offset="0.0606" stop-color="#2e48c7"/><stop offset="0.455" stop-color="#284cce"/><stop offset="0.475" stop-color="#0065e8"/><stop offset="0.505" stop-color="#0087de"/><stop offset="0.515" stop-color="#0083df"/><stop offset="0.535" stop-color="#006be7"/><stop offset="0.556" stop-color="#0460e5"/><stop offset="0.586" stop-color="#0065e8"/><stop offset="0.606" stop-color="#0077e3"/><stop offset="0.616" stop-color="#0083df"/><stop offset="0.626" stop-color="#0087de"/><stop offset="0.657" stop-color="#0068e7"/><stop offset="0.697" stop-color="#2c49c9"/><stop offset="1" stop-color="#2e48c7"/></linearGradient>
<linearGradient id="ge24"><stop offset="0" stop-color="#085ce3"/><stop offset="0.0606" stop-color="#2a4bcc"/><stop offset="0.455" stop-color="#1c51d6"/><stop offset="0.475" stop-color="#0067e7"/><stop offset="0.505" stop-color="#008cdc"/><stop offset="0.515" stop-color="#0088de"/><stop offset="0.535" stop-color="#006ee6"/><stop offset="0.556" stop-color="#0064e8"/><stop offset="0.586" stop-color="#0067e7"/><stop offset="0.606" stop-color="#007ae2"/><stop offset="0.616" stop-color="#0087de"/><stop offset="0.626" stop-color="#008cdc"/><stop offset="0.657" stop-color="#006ae7"/><stop offset="0.697" stop-color="#284cce"/><stop offset="1" stop-color="#2a4bcc"/></linearGradient>
<linearGradient id="ge25"><stop offset="0" stop-color="#0361e6"/><stop offset="0.0606" stop-color="#204fd3"/><stop offset="0.455" stop-color="#0f57de"/><stop offset="0.475" stop-color="#0069e7"/><stop offset="0.505" stop-color="#0091db"/><stop offset="0.515" stop-color="#008edc"/><stop offset="0.535" stop-color="#0071e5"/><stop offset="0.556" stop-color="#0066e8"/><stop offset="0.586" stop-color="#0069e7"/><stop offset="0.606" stop-color="#007de1"/><stop offset="0.616" stop-color="#008cdc"/><stop offset="0.626" stop-color="#0092db"/><stop offset="0.657" stop-color="#006de6"/><stop offset="0.697" stop-color="#1b51d6"/><stop offset="1" stop-color="#204fd3"/></linearGradient>
<linearGradient id="ge26"><stop offset="0" stop-color="#0064e8"/><stop offset="0.0606" stop-color="#1355dc"/><stop offset="0.455" stop-color="#095be2"/><stop offset="0.475" stop-color="#006be7"/><stop offset="0.505" stop-color="#0096d9"/><stop offset="0.515" stop-color="#0093da"/><stop offset="0.535" stop-color="#0074e4"/><stop offset="0.556" stop-color="#0069e7"/><stop offset="0.586" stop-color="#006be7"/><stop offset="0.596" stop-color="#0073e4"/><stop offset="0.616" stop-color="#0091db"/><stop offset="0.626" stop-color="#0096d8"/><stop offset="0.636" stop-color="#008cdd"/><stop offset="0.657" stop-color="#0070e5"/><stop offset="0.687" stop-color="#085ce3"/><stop offset="0.808" stop-color="#1355dc"/><stop offset="1" stop-color="#1355dc"/></linearGradient>
<linearGradient id="ge27"><stop offset="0" stop-color="#0067e7"/><stop offset="0.0505" stop-color="#0a5ae1"/><stop offset="0.455" stop-color="#055fe5"/><stop offset="0.475" stop-color="#006de6"/><stop offset="0.505" stop-color="#009ad6"/><stop offset="0.515" stop-color="#0097d8"/><stop offset="0.535" stop-color="#0077e3"/><stop offset="0.556" stop-color="#006be7"/><stop offset="0.586" stop-color="#006ee6"/><stop offset="0.596" stop-color="#0075e3"/><stop offset="0.616" stop-color="#0095d9"/><stop offset="0.626" stop-color="#009ad6"/><stop offset="0.636" stop-color="#0091db"/><stop offset="0.657" stop-color="#0072e4"/><stop offset="0.687" stop-color="#0460e6"/><stop offset="0.808" stop-color="#0a5ae1"/><stop offset="1" stop-color="#0a5ae1"/></linearGradient>
<linearGradient id="ge28"><stop offset="0" stop-color="#0068e7"/><stop offset="0.0505" stop-color="#085ce3"/><stop offset="0.455" stop-color="#0262e6"/><stop offset="0.475" stop-color="#006fe6"/><stop offset="0.505" stop-color="#009cd4"/><stop offset="0.515" stop-color="#009ad6"/><stop offset="0.535" stop-color="#0079e2"/><stop offset="0.556" stop-color="#006ce6"/><stop offset="0.586" stop-color="#006fe6"/><stop offset="0.596" stop-color="#0076e3"/><stop offset="0.616" stop-color="#0098d8"/><stop offset="0.626" stop-color="#009dd4"/><stop offset="0.636" stop-color="#0095d9"/><stop offset="0.657" stop-color="#0074e4"/><stop offset="0.687" stop-color="#0163e7"/><stop offset="0.808" stop-color="#085ce3"/><stop offset="1" stop-color="#085ce3"/></linearGradient>
<linearGradient id="ge29"><stop offset="0" stop-color="#0069e7"/><stop offset="0.0606" stop-color="#065ee4"/><stop offset="0.455" stop-color="#0163e7"/><stop offset="0.475" stop-color="#0070e5"/><stop offset="0.505" stop-color="#009fd3"/><stop offset="0.515" stop-color="#009dd4"/><stop offset="0.535" stop-color="#007be1"/><stop offset="0.556" stop-color="#006de6"/><stop offset="0.586" stop-color="#0070e5"/><stop offset="0.596" stop-color="#0077e3"/><stop offset="0.616" stop-color="#009ad6"/><stop offset="0.626" stop-color="#00a0d2"/><stop offset="0.636" stop-color="#0097d8"/><stop offset="0.657" stop-color="#0075e3"/><stop offset="0.687" stop-color="#0064e8"/><stop offset="0.798" stop-color="#065ee4"/><stop offset="1" stop-color="#065ee4"/></linearGradient>
<linearGradient id="ge30"><stop offset="0" stop-color="#0069e7"/><stop offset="0.0505" stop-color="#055fe5"/><stop offset="0.455" stop-color="#0064e8"/><stop offset="0.475" stop-color="#0070e5"/><stop offset="0.505" stop-color="#00a1d1"/><stop offset="0.515" stop-color="#00a0d2"/><stop offset="0.535" stop-color="#007de1"/><stop offset="0.556" stop-color="#006ee6"/><stop offset="0.586" stop-color="#0070e5"/><stop offset="0.596" stop-color="#0078e2"/><stop offset="0.616" stop-color="#009cd5"/><stop offset="0.626" stop-color="#00a2d0"/><stop offset="0.636" stop-color="#009ad6"/><stop offset="0.657" stop-color="#0077e3"/><stop offset="0.687" stop-color="#0065e8"/><stop offset="0.798" stop-color="#055fe5"/><stop offset="1" stop-color="#055fe5"/></linearGradient>
<linearGradient id="ge31"><stop offset="0" stop-color="#006ae7"/><stop offset="0.0505" stop-color="#0361e6"/><stop offset="0.455" stop-color="#0065e8"/><stop offset="0.475" stop-color="#0071e5"/><stop offset="0.485" stop-color="#007fe0"/><stop offset="0.505" stop-color="#00a3cf"/><stop offset="0.515" stop-color="#00a2d0"/><stop offset="0.535" stop-color="#007ee0"/><stop offset="0.545" stop-color="#0074e4"/><stop offset="0.576" stop-color="#006ee6"/><stop offset="0.596" stop-color="#0079e2"/><stop offset="0.616" stop-color="#009ed4"/><stop offset="0.626" stop-color="#00a5cd"/><stop offset="0.636" stop-color="#009cd4"/><stop offset="0.657" stop-color="#0078e2"/><stop offset="0.687" stop-color="#0066e8"/><stop offset="0.798" stop-color="#0361e6"/><stop offset="1" stop-color="#0361e6"/></linearGradient>
<linearGradient id="ge32"><stop offset="0" stop-color="#006be7"/><stop offset="0.0505" stop-color="#0262e7"/><stop offset="0.455" stop-color="#0066e8"/><stop offset="0.475" stop-color="#0072e5"/><stop offset="0.485" stop-color="#0080e0"/><stop offset="0.505" stop-color="#00a5cd"/><stop offset="0.515" stop-color="#00a5cd"/><stop offset="0.535" stop-color="#0080e0"/><stop offset="0.545" stop-color="#0075e4"/><stop offset="0.566" stop-color="#006ee6"/><stop offset="0.586" stop-color="#0072e5"/><stop offset="0.596" stop-color="#007ae2"/><stop offset="0.616" stop-color="#00a0d2"/><stop offset="0.626" stop-color="#00a7cb"/><stop offset="0.636" stop-color="#009fd3"/><stop offset="0.657" stop-color="#0079e2"/><stop offset="0.687" stop-color="#0067e7"/><stop offset="0.788" stop-color="#0262e7"/><stop offset="1" stop-color="#0262e7"/></linearGradient>
<linearGradient id="ge33"><stop offset="0" stop-color="#006ce6"/><stop offset="0.0505" stop-color="#0064e8"/><stop offset="0.455" stop-color="#0066e8"/><stop offset="0.475" stop-color="#0073e4"/><stop offset="0.485" stop-color="#0081e0"/><stop offset="0.505" stop-color="#00a7cb"/><stop offset="0.515" stop-color="#00a7cb"/><stop offset="0.535" stop-color="#0082df"/><stop offset="0.545" stop-color="#0076e3"/><stop offset="0.566" stop-color="#006fe6"/><stop offset="0.586" stop-color="#0073e4"/><stop offset="0.596" stop-color="#007be1"/><stop offset="0.616" stop-color="#00a1d1"/><stop offset="0.626" stop-color="#00a9c9"/><stop offset="0.636" stop-color="#00a1d1"/><stop offset="0.657" stop-color="#007be1"/><stop offset="0.687" stop-color="#0067e7"/><stop offset="0.788" stop-color="#0064e8"/><stop offset="1" stop-color="#0064e8"/></linearGradient>
<linearGradient id="ge34"><stop offset="0" stop-color="#006de6"/><stop offset="0.0505" stop-color="#0065e8"/><stop offset="0.455" stop-color="#0067e7"/><stop offset="0.475" stop-color="#0073e4"/><stop offset="0.485" stop-color="#0082df"/><stop offset="0.505" stop-color="#00a9c9"/><stop offset="0.515" stop-color="#00a9c9"/><stop offset="0.535" stop-color="#0084df"/><stop offset="0.545" stop-color="#0077e3"/><stop offset="0.566" stop-color="#0070e5"/><stop offset="0.586" stop-color="#0074e4"/><stop offset="0.596" stop-color="#007ce1"/><stop offset="0.606" stop-color="#008edc"/><stop offset="0.616" stop-color="#00a3cf"/><stop offset="0.626" stop-color="#00abc5"/><stop offset="0.636" stop-color="#00a4ce"/><stop offset="0.657" stop-color="#007ce1"/><stop offset="0.677" stop-color="#006ce6"/><stop offset="0.707" stop-color="#0065e8"/><stop offset="1" stop-color="#0065e8"/></linearGradient>
<linearGradient id="ge35"><stop offset="0" stop-color="#006de6"/><stop offset="0.0505" stop-color="#0065e8"/><stop offset="0.455" stop-color="#0068e7"/><stop offset="0.475" stop-color="#0074e4"/><stop offset="0.485" stop-color="#0083df"/><stop offset="0.505" stop-color="#00abc6"/><stop offset="0.515" stop-color="#00acc5"/><stop offset="0.535" stop-color="#0086de"/><stop offset="0.545" stop-color="#0078e2"/><stop offset="0.566" stop-color="#0071e5"/><stop offset="0.586" stop-color="#0074e4"/><stop offset="0.596" stop-color="#007ce1"/><stop offset="0.606" stop-color="#0090db"/><stop offset="0.616" stop-color="#00a4ce"/><stop offset="0.626" stop-color="#00adc1"/><stop offset="0.636" stop-color="#00a6cc"/><stop offset="0.657" stop-color="#007ee1"/><stop offset="0.677" stop-color="#006de6"/><stop offset="0.707" stop-color="#0066e8"/><stop offset="1" stop-color="#0065e8"/></linearGradient>
<linearGradient id="ge36"><stop offset="0" stop-color="#006ee6"/><stop offset="0.0505" stop-color="#0066e8"/><stop offset="0.455" stop-color="#0068e7"/><stop offset="0.475" stop-color="#0075e4"/><stop offset="0.485" stop-color="#0084df"/><stop offset="0.505" stop-color="#00adc3"/><stop offset="0.515" stop-color="#00aec1"/><stop offset="0.535" stop-color="#0087de"/><stop offset="0.545" stop-color="#0079e2"/><stop offset="0.566" stop-color="#0071e5"/><stop offset="0.586" stop-color="#0075e4"/><stop offset="0.596" stop-color="#007de1"/><stop offset="0.606" stop-color="#0091db"/><stop offset="0.616" stop-color="#00a6cc"/><stop offset="0.626" stop-color="#00afbe"/><stop offset="0.636" stop-color="#00a8ca"/><stop offset="0.657" stop-color="#007fe0"/><stop offset="0.677" stop-color="#006ee6"/><stop offset="0.707" stop-color="#0066e8"/><stop offset="1" stop-color="#0066e8"/></linearGradient>
<linearGradient id="ge37"><stop offset="0" stop-color="#006ee6"/><stop offset="0.0505" stop-color="#0066e8"/><stop offset="0.455" stop-color="#0068e7"/><stop offset="0.475" stop-color="#0074e4"/><stop offset="0.485" stop-color="#0084df"/><stop offset="0.505" stop-color="#00aec1"/><stop offset="0.515" stop-color="#00afbf"/><stop offset="0.535" stop-color="#0088de"/><stop offset="0.545" stop-color="#0079e2"/><stop offset="0.566" stop-color="#0071e5"/><stop offset="0.586" stop-color="#0075e4"/><stop offset="0.596" stop-color="#007de1"/><stop offset="0.606" stop-color="#0091db"/><stop offset="0.616" stop-color="#00a6cc"/><stop offset="0.626" stop-color="#00b1bc"/><stop offset="0.636" stop-color="#00aac8"/><stop offset="0.657" stop-color="#007fe0"/><stop offset="0.677" stop-color="#006ee6"/><stop offset="0.707" stop-color="#0066e8"/><stop offset="1" stop-color="#0066e8"/></linearGradient>
<linearGradient id="ge38"><stop offset="0" stop-color="#006de6"/><stop offset="0.0505" stop-color="#0066e8"/><stop offset="0.455" stop-color="#0068e7"/><stop offset="0.475" stop-color="#0074e4"/><stop offset="0.485" stop-color="#0084df"/><stop offset="0.505" stop-color="#00aec0"/><stop offset="0.515" stop-color="#00b0bc"/><stop offset="0.535" stop-color="#0089dd"/><stop offset="0.545" stop-color="#0079e2"/><stop offset="0.566" stop-color="#0071e5"/><stop offset="0.586" stop-color="#0074e4"/><stop offset="0.596" stop-color="#007ce1"/><stop offset="0.606" stop-color="#0091db"/><stop offset="0.616" stop-color="#00a7cb"/><stop offset="0.626" stop-color="#00b2b9"/><stop offset="0.636" stop-color="#00abc6"/><stop offset="0.657" stop-color="#0080e0"/><stop offset="0.677" stop-color="#006de6"/><stop offset="0.707" stop-color="#0066e8"/><stop offset="1" stop-color="#0066e8"/></linearGradient>
<linearGradient id="ge39"><stop offset="0" stop-color="#006de6"/><stop offset="0.0505" stop-color="#0065e8"/><stop offset="0.455" stop-color="#0068e7"/><stop offset="0.475" stop-color="#0074e4"/><stop offset="0.485" stop-color="#0083df"/><stop offset="0.505" stop-color="#00afbe"/><stop offset="0.515" stop-color="#00b2ba"/><stop offset="0.535" stop-color="#008add"/><stop offset="0.545" stop-color="#0079e2"/><stop offset="0.566" stop-color="#0071e5"/><stop offset="0.586" stop-color="#0074e4"/><stop offset="0.596" stop-color="#007ce1"/><stop offset="0.606" stop-color="#0090db"/><stop offset="0.616" stop-color="#00a7cb"/><stop offset="0.626" stop-color="#00b3b7"/><stop offset="0.636" stop-color="#00acc4"/><stop offset="0.657" stop-color="#0080e0"/><stop offset="0.677" stop-color="#006de6"/><stop offset="0.707" stop-color="#0065e8"/><stop offset="1" stop-color="#0065e8"/></linearGradient>
<linearGradient id="ge40"><stop offset="0" stop-color="#006de6"/><stop offset="0.0505" stop-color="#0065e8"/><stop offset="0.455" stop-color="#0067e7"/><stop offset="0.475" stop-color="#0073e4"/><stop offset="0.485" stop-color="#0083df"/><stop offset="0.505" stop-color="#00b0bd"/><stop offset="0.515" stop-color="#00b3b7"/><stop offset="0.535" stop-color="#008bdd"/><stop offset="0.545" stop-color="#007ae2"/><stop offset="0.566" stop-color="#0070e5"/><stop offset="0.586" stop-color="#0073e4"/><stop offset="0.596" stop-color="#007ce1"/><stop offset="0.606" stop-color="#0090db"/><stop offset="0.616" stop-color="#00a8ca"/><stop offset="0.626" stop-color="#00b4b5"/><stop offset="0.636" stop-color="#00aec1"/><stop offset="0.657" stop-color="#0081e0"/><stop offset="0.677" stop-color="#006de6"/><stop offset="0.707" stop-color="#0065e8"/><stop offset="1" stop-color="#0065e8"/></linearGradient>
<linearGradient id="ge41"><stop offset="0" stop-color="#006de6"/><stop offset="0.0505" stop-color="#0065e8"/><stop offset="0.455" stop-color="#0067e7"/><stop offset="0.475" stop-color="#0073e4"/><stop offset="0.485" stop-color="#0082df"/><stop offset="0.505" stop-color="#00b0bc"/><stop offset="0.515" stop-color="#00b4b4"/><stop offset="0.535" stop-color="#008cdc"/><stop offset="0.545" stop-color="#007ae2"/><stop offset="0.566" stop-color="#0070e5"/><stop offset="0.586" stop-color="#0073e4"/><stop offset="0.596" stop-color="#007be1"/><stop offset="0.606" stop-color="#0090db"/><stop offset="0.616" stop-color="#00a8ca"/><stop offset="0.626" stop-color="#00b4b3"/><stop offset="0.636" stop-color="#00afbf"/><stop offset="0.657" stop-color="#0081e0"/><stop offset="0.677" stop-color="#006de6"/><stop offset="0.707" stop-color="#0065e8"/><stop offset="1" stop-color="#0065e8"/></linearGradient>
<linearGradient id="ge42"><stop offset="0" stop-color="#006ce6"/><stop offset="0.0505" stop-color="#0065e8"/><stop offset="0.455" stop-color="#0067e7"/><stop offset="0.475" stop-color="#0073e4"/><stop offset="0.485" stop-color="#0082df"/><stop offset="0.505" stop-color="#00b1bb"/><stop offset="0.515" stop-color="#00b4b2"/><stop offset="0.525" stop-color="#00a6cc"/><stop offset="0.535" stop-color="#008ddc"/><stop offset="0.545" stop-color="#007ae2"/><stop offset="0.566" stop-color="#0070e5"/><stop offset="0.586" stop-color="#0073e4"/><stop offset="0.596" stop-color="#007be1"/><stop offset="0.606" stop-color="#008fdb"/><stop offset="0.616" stop-color="#00a8ca"/><stop offset="0.626" stop-color="#00b5b1"/><stop offset="0.636" stop-color="#00b0bd"/><stop offset="0.657" stop-color="#0081e0"/><stop offset="0.667" stop-color="#0074e4"/><stop offset="0.697" stop-color="#0066e8"/><stop offset="1" stop-color="#0065e8"/></linearGradient>
<linearGradient id="ge43"><stop offset="0" stop-color="#006ce6"/><stop offset="0.0505" stop-color="#0064e8"/><stop offset="0.455" stop-color="#0066e8"/><stop offset="0.475" stop-color="#0072e5"/><stop offset="0.485" stop-color="#0081e0"/><stop offset="0.505" stop-color="#00b1ba"/><stop offset="0.515" stop-color="#00b5af"/><stop offset="0.525" stop-color="#00a7cb"/><stop offset="0.535" stop-color="#008edc"/><stop offset="0.545" stop-color="#007ae2"/><stop offset="0.566" stop-color="#0070e5"/><stop offset="0.586" stop-color="#0072e4"/><stop offset="0.596" stop-color="#007ae2"/><stop offset="0.606" stop-color="#008fdc"/><stop offset="0.616" stop-color="#00a8ca"/><stop offset="0.626" stop-color="#00b5af"/><stop offset="0.636" stop-color="#00b1bb"/><stop offset="0.657" stop-color="#0082df"/><stop offset="0.667" stop-color="#0074e4"/><stop offset="0.697" stop-color="#0065e8"/><stop offset="1" stop-color="#0064e8"/></linearGradient>
<linearGradient id="ge44"><stop offset="0" stop-color="#006ce6"/><stop offset="0.0505" stop-color="#0064e8"/><stop offset="0.455" stop-color="#0066e8"/><stop offset="0.475" stop-color="#0072e5"/><stop offset="0.485" stop-color="#0081e0"/><stop offset="0.505" stop-color="#00b2ba"/><stop offset="0.515" stop-color="#00b6ad"/><stop offset="0.525" stop-color="#00a9c9"/><stop offset="0.535" stop-color="#008fdc"/><stop offset="0.545" stop-color="#007ae2"/><stop offset="0.566" stop-color="#006fe5"/><stop offset="0.586" stop-color="#0072e5"/><stop offset="0.596" stop-color="#007ae2"/><stop offset="0.606" stop-color="#008edc"/><stop offset="0.616" stop-color="#00a8ca"/><stop offset="0.626" stop-color="#00b6ad"/><stop offset="0.636" stop-color="#00b2b9"/><stop offset="0.657" stop-color="#0082df"/><stop offset="0.667" stop-color="#0074e4"/><stop offset="0.697" stop-color="#0065e8"/><stop offset="1" stop-color="#0064e8"/></linearGradient>
<linearGradient id="ge45"><stop offset="0" stop-color="#006ce6"/><stop offset="0.0505" stop-color="#0064e8"/><stop offset="0.455" stop-color="#0066e8"/><stop offset="0.475" stop-color="#0071e5"/><stop offset="0.485" stop-color="#0080e0"/><stop offset="0.505" stop-color="#00b2b9"/><stop offset="0.515" stop-color="#00b6ab"/><stop offset="0.525" stop-color="#00a9c9"/><stop offset="0.535" stop-color="#0090db"/><stop offset="0.545" stop-color="#007ae2"/><stop offset="0.566" stop-color="#006fe6"/><stop offset="0.586" stop-color="#0072e5"/><stop offset="0.596" stop-color="#0079e2"/><stop offset="0.606" stop-color="#008edc"/><stop offset="0.616" stop-color="#00a8ca"/><stop offset="0.626" stop-color="#00b6ac"/><stop offset="0.636" stop-color="#00b3b8"/><stop offset="0.657" stop-color="#0083df"/><stop offset="0.667" stop-color="#0074e4"/><stop offset="0.697" stop-color="#0065e8"/><stop offset="1" stop-color="#0064e8"/></linearGradient>
<linearGradient id="ge46"><stop offset="0" stop-color="#006be7"/><stop offset="0.0505" stop-color="#0163e7"/><stop offset="0.455" stop-color="#0066e8"/><stop offset="0.475" stop-color="#0071e5"/><stop offset="0.485" stop-color="#0080e0"/><stop offset="0.505" stop-color="#00b2b9"/><stop offset="0.515" stop-color="#00b6aa"/><stop offset="0.525" stop-color="#00aac7"/><stop offset="0.535" stop-color="#0091db"/><stop offset="0.545" stop-color="#007ae2"/><stop offset="0.566" stop-color="#006fe6"/><stop offset="0.586" stop-color="#0071e5"/><stop offset="0.596" stop-color="#0079e2"/><stop offset="0.606" stop-color="#008ddc"/><stop offset="0.616" stop-color="#00a8ca"/><stop offset="0.626" stop-color="#00b6ab"/><stop offset="0.636" stop-color="#00b3b6"/><stop offset="0.657" stop-color="#0083df"/><stop offset="0.667" stop-color="#0074e4"/><stop offset="0.697" stop-color="#0065e8"/><stop offset="1" stop-color="#0163e7"/></linearGradient>
<linearGradient id="ge47"><stop offset="0" stop-color="#006be7"/><stop offset="0.0505" stop-color="#0262e7"/><stop offset="0.455" stop-color="#0065e8"/><stop offset="0.475" stop-color="#0070e5"/><stop offset="0.485" stop-color="#007fe0"/><stop offset="0.505" stop-color="#00b2ba"/><stop offset="0.515" stop-color="#00b7a9"/><stop offset="0.525" stop-color="#00abc6"/><stop offset="0.535" stop-color="#0091db"/><stop offset="0.545" stop-color="#007ae2"/><stop offset="0.566" stop-color="#006fe6"/><stop offset="0.586" stop-color="#0071e5"/><stop offset="0.596" stop-color="#0078e2"/><stop offset="0.606" stop-color="#008cdd"/><stop offset="0.626" stop-color="#00b6ab"/><stop offset="0.636" stop-color="#00b4b4"/><stop offset="0.657" stop-color="#0083df"/><stop offset="0.667" stop-color="#0074e4"/><stop offset="0.697" stop-color="#0064e8"/><stop offset="1" stop-color="#0262e7"/></linearGradient>
<linearGradient id="ge48"><stop offset="0" stop-color="#006ae7"/><stop offset="0.0505" stop-color="#0361e6"/><stop offset="0.455" stop-color="#0065e8"/><stop offset="0.475" stop-color="#006fe5"/><stop offset="0.485" stop-color="#007ee0"/><stop offset="0.505" stop-color="#00b1bb"/><stop offset="0.515" stop-color="#00b7a9"/><stop offset="0.525" stop-color="#00abc6"/><stop offset="0.535" stop-color="#0091db"/><stop offset="0.545" stop-color="#007ae2"/><stop offset="0.556" stop-color="#0071e5"/><stop offset="0.586" stop-color="#0070e5"/><stop offset="0.596" stop-color="#0077e3"/><stop offset="0.606" stop-color="#008add"/><stop offset="0.626" stop-color="#00b6ac"/><stop offset="0.636" stop-color="#00b4b4"/><stop offset="0.657" stop-color="#0083df"/><stop offset="0.667" stop-color="#0073e4"/><stop offset="0.697" stop-color="#0163e8"/><stop offset="1" stop-color="#0361e6"/></linearGradient>
<linearGradient id="ge49"><stop offset="0" stop-color="#006ae7"/><stop offset="0.0505" stop-color="#0460e5"/><stop offset="0.455" stop-color="#0064e8"/><stop offset="0.475" stop-color="#006fe6"/><stop offset="0.485" stop-color="#007de1"/><stop offset="0.495" stop-color="#0099d7"/><stop offset="0.505" stop-color="#00b0bc"/><stop offset="0.515" stop-color="#00b7a9"/><stop offset="0.525" stop-color="#00abc5"/><stop offset="0.535" stop-color="#0092db"/><stop offset="0.545" stop-color="#007ae2"/><stop offset="0.556" stop-color="#0071e5"/><stop offset="0.586" stop-color="#006fe6"/><stop offset="0.596" stop-color="#0076e3"/><stop offset="0.606" stop-color="#0089dd"/><stop offset="0.626" stop-color="#00b6ad"/><stop offset="0.636" stop-color="#00b4b3"/><stop offset="0.657" stop-color="#0083df"/><stop offset="0.667" stop-color="#0073e4"/><stop offset="0.697" stop-color="#0262e7"/><stop offset="1" stop-color="#0460e5"/></linearGradient>
<linearGradient id="ge50"><stop offset="0" stop-color="#0069e7"/><stop offset="0.0505" stop-color="#055fe5"/><stop offset="0.455" stop-color="#0163e7"/><stop offset="0.475" stop-color="#006ee6"/><stop offset="0.485" stop-color="#007ce1"/><stop offset="0.495" stop-color="#0098d7"/><stop offset="0.505" stop-color="#00b0bd"/><stop offset="0.515" stop-color="#00b7a9"/><stop offset="0.525" stop-color="#00acc5"/><stop offset="0.535" stop-color="#0092db"/><stop offset="0.545" stop-color="#0079e2"/><stop offset="0.556" stop-color="#0070e5"/><stop offset="0.586" stop-color="#006fe6"/><stop offset="0.596" stop-color="#0076e3"/><stop offset="0.606" stop-color="#0088de"/><stop offset="0.626" stop-color="#00b5ae"/><stop offset="0.636" stop-color="#00b4b3"/><stop offset="0.657" stop-color="#0083df"/><stop offset="0.667" stop-color="#0072e4"/><stop offset="0.687" stop-color="#0065e8"/><stop offset="0.758" stop-color="#055fe5"/><stop offset="1" stop-color="#055fe5"/></linearGradient>
<linearGradient id="ge51"><stop offset="0" stop-color="#0069e7"/><stop offset="0.0505" stop-color="#065ee4"/><stop offset="0.455" stop-color="#0262e6"/><stop offset="0.475" stop-color="#006de6"/><stop offset="0.485" stop-color="#007be1"/><stop offset="0.495" stop-color="#0097d8"/><stop offset="0.505" stop-color="#00afbf"/><stop offset="0.515" stop-color="#00b6aa"/><stop offset="0.525" stop-color="#00acc5"/><stop offset="0.535" stop-color="#0092db"/><stop offset="0.545" stop-color="#0079e2"/><stop offset="0.556" stop-color="#0070e5"/><stop offset="0.586" stop-color="#006ee6"/><stop offset="0.596" stop-color="#0075e4"/><stop offset="0.606" stop-color="#0086de"/><stop offset="0.626" stop-color="#00b5b0"/><stop offset="0.636" stop-color="#00b4b3"/><stop offset="0.657" stop-color="#0083df"/><stop offset="0.667" stop-color="#0072e5"/><stop offset="0.687" stop-color="#0065e8"/><stop offset="0.758" stop-color="#065ee4"/><stop offset="1" stop-color="#065ee4"/></linearGradient>
<linearGradient id="ge52"><stop offset="0" stop-color="#0068e7"/><stop offset="0.0505" stop-color="#075de3"/><stop offset="0.455" stop-color="#0361e6"/><stop offset="0.475" stop-color="#006ce6"/><stop offset="0.485" stop-color="#007ae2"/><stop offset="0.495" stop-color="#0096d9"/><stop offset="0.505" stop-color="#00aec0"/><stop offset="0.515" stop-color="#00b6ab"/><stop offset="0.525" stop-color="#00acc5"/><stop offset="0.535" stop-color="#0092db"/><stop offset="0.545" stop-color="#0079e2"/><stop offset="0.556" stop-color="#006fe6"/><stop offset="0.586" stop-color="#006de6"/><stop offset="0.596" stop-color="#0074e4"/><stop offset="0.606" stop-color="#0085df"/><stop offset="0.626" stop-color="#00b4b2"/><stop offset="0.636" stop-color="#00b4b4"/><stop offset="0.657" stop-color="#0083df"/><stop offset="0.667" stop-color="#0072e5"/><stop offset="0.687" stop-color="#0064e8"/><stop offset="0.747" stop-color="#075de3"/><stop offset="1" stop-color="#075de3"/></linearGradient>
<linearGradient id="ge53"><stop offset="0" stop-color="#0068e7"/><stop offset="0.0505" stop-color="#085ce3"/><stop offset="0.455" stop-color="#055fe5"/><stop offset="0.475" stop-color="#006ce6"/><stop offset="0.485" stop-color="#0079e2"/><stop offset="0.495" stop-color="#0094da"/><stop offset="0.505" stop-color="#00adc2"/><stop offset="0.515" stop-color="#00b6ad"/><stop offset="0.525" stop-color="#00acc5"/><stop offset="0.535" stop-color="#0092db"/><stop offset="0.545" stop-color="#0079e2"/><stop offset="0.556" stop-color="#006fe6"/><stop offset="0.586" stop-color="#006de6"/><stop offset="0.596" stop-color="#0073e4"/><stop offset="0.606" stop-color="#0084df"/><stop offset="0.626" stop-color="#00b4b4"/><stop offset="0.636" stop-color="#00b4b5"/><stop offset="0.657" stop-color="#0083df"/><stop offset="0.667" stop-color="#0071e5"/><stop offset="0.687" stop-color="#0064e8"/><stop offset="0.747" stop-color="#085ce3"/><stop offset="1" stop-color="#085ce3"/></linearGradient>
<linearGradient id="ge54"><stop offset="0" stop-color="#0064e8"/><stop offset="0.0606" stop-color="#1654da"/><stop offset="0.455" stop-color="#0c58e0"/><stop offset="0.475" stop-color="#0068e7"/><stop offset="0.485" stop-color="#0074e4"/><stop offset="0.495" stop-color="#008fdc"/><stop offset="0.505" stop-color="#00aac8"/><stop offset="0.515" stop-color="#00b4b4"/><stop offset="0.525" stop-color="#00a9c9"/><stop offset="0.535" stop-color="#008edc"/><stop offset="0.545" stop-color="#0075e4"/><stop offset="0.556" stop-color="#006be7"/><stop offset="0.586" stop-color="#0069e7"/><stop offset="0.596" stop-color="#006fe6"/><stop offset="0.606" stop-color="#007fe0"/><stop offset="0.626" stop-color="#00b1ba"/><stop offset="0.636" stop-color="#00b1ba"/><stop offset="0.657" stop-color="#007fe0"/><stop offset="0.667" stop-color="#006ee6"/><stop offset="0.687" stop-color="#075de3"/><stop offset="0.747" stop-color="#1654da"/><stop offset="1" stop-color="#1654da"/></linearGradient>
<linearGradient id="ge55"><stop offset="0" stop-color="#0a5ae1"/><stop offset="0.0505" stop-color="#2c49c9"/><stop offset="0.455" stop-color="#294bcd"/><stop offset="0.475" stop-color="#0361e6"/><stop offset="0.485" stop-color="#006ee6"/><stop offset="0.495" stop-color="#0086de"/><stop offset="0.505" stop-color="#00a5cd"/><stop offset="0.515" stop-color="#00b0bd"/><stop offset="0.525" stop-color="#00a5cd"/><stop offset="0.535" stop-color="#0087de"/><stop offset="0.545" stop-color="#006fe6"/><stop offset="0.556" stop-color="#0066e8"/><stop offset="0.576" stop-color="#0460e5"/><stop offset="0.596" stop-color="#0069e7"/><stop offset="0.606" stop-color="#0078e2"/><stop offset="0.626" stop-color="#00adc3"/><stop offset="0.636" stop-color="#00aec1"/><stop offset="0.657" stop-color="#007ae2"/><stop offset="0.667" stop-color="#0068e7"/><stop offset="0.687" stop-color="#1d51d5"/><stop offset="0.747" stop-color="#2c49c9"/><stop offset="1" stop-color="#2c49c9"/></linearGradient>
<linearGradient id="ge56"><stop offset="0" stop-color="#274cce"/><stop offset="0.0505" stop-color="#3641bd"/><stop offset="0.455" stop-color="#3343c1"/><stop offset="0.475" stop-color="#1256dc"/><stop offset="0.485" stop-color="#0068e7"/><stop offset="0.495" stop-color="#007fe0"/><stop offset="0.505" stop-color="#00a0d2"/><stop offset="0.515" stop-color="#00acc5"/><stop offset="0.525" stop-color="#00a1d1"/><stop offset="0.535" stop-color="#0081e0"/><stop offset="0.545" stop-color="#006ae7"/><stop offset="0.556" stop-color="#075de3"/><stop offset="0.576" stop-color="#1554da"/><stop offset="0.596" stop-color="#0262e7"/><stop offset="0.606" stop-color="#0072e5"/><stop offset="0.626" stop-color="#00a8ca"/><stop offset="0.636" stop-color="#00aac8"/><stop offset="0.657" stop-color="#0074e4"/><stop offset="0.667" stop-color="#0262e7"/><stop offset="0.687" stop-color="#2e47c6"/><stop offset="0.747" stop-color="#3641bd"/><stop offset="1" stop-color="#3641bd"/></linearGradient>
<linearGradient id="ge57"><stop offset="0" stop-color="#3144c3"/><stop offset="0.0505" stop-color="#3a35a6"/><stop offset="0.455" stop-color="#3939ad"/><stop offset="0.475" stop-color="#2b49ca"/><stop offset="0.485" stop-color="#0361e6"/><stop offset="0.495" stop-color="#0078e2"/><stop offset="0.505" stop-color="#0099d6"/><stop offset="0.515" stop-color="#00a7cb"/><stop offset="0.525" stop-color="#009cd5"/><stop offset="0.535" stop-color="#007be1"/><stop offset="0.545" stop-color="#0065e8"/><stop offset="0.556" stop-color="#1c51d6"/><stop offset="0.576" stop-color="#2c48c9"/><stop offset="0.596" stop-color="#0e57df"/><stop offset="0.606" stop-color="#006be7"/><stop offset="0.626" stop-color="#00a3cf"/><stop offset="0.636" stop-color="#00a5cd"/><stop offset="0.657" stop-color="#006ee6"/><stop offset="0.667" stop-color="#0c58e0"/><stop offset="0.687" stop-color="#373fba"/><stop offset="0.737" stop-color="#3a35a6"/><stop offset="1" stop-color="#3a35a6"/></linearGradient>
<linearGradient id="ge58"><stop offset="0" stop-color="#3344c1"/><stop offset="0.0202" stop-color="#3641bd"/><stop offset="0.0404" stop-color="#3b33a2"/><stop offset="0.455" stop-color="#3a37a9"/><stop offset="0.475" stop-color="#2d48c8"/><stop offset="0.485" stop-color="#055fe4"/><stop offset="0.495" stop-color="#0076e3"/><stop offset="0.505" stop-color="#0097d8"/><stop offset="0.515" stop-color="#00a6cc"/><stop offset="0.525" stop-color="#009bd5"/><stop offset="0.535" stop-color="#007be1"/><stop offset="0.545" stop-color="#0065e8"/><stop offset="0.556" stop-color="#1f50d4"/><stop offset="0.576" stop-color="#2e47c7"/><stop offset="0.596" stop-color="#1455db"/><stop offset="0.606" stop-color="#006ae7"/><stop offset="0.626" stop-color="#00a2d0"/><stop offset="0.636" stop-color="#00a4ce"/><stop offset="0.657" stop-color="#006ee6"/><stop offset="0.667" stop-color="#1056de"/><stop offset="0.687" stop-color="#383eb7"/><stop offset="0.737" stop-color="#3b33a3"/><stop offset="1" stop-color="#3b33a2"/></linearGradient>
<linearGradient id="ge59"><stop offset="0" stop-color="#3343c1"/><stop offset="0.0202" stop-color="#3641bd"/><stop offset="0.0404" stop-color="#3b32a0"/><stop offset="0.455" stop-color="#3a36a8"/><stop offset="0.475" stop-color="#2d48c8"/><stop offset="0.485" stop-color="#065ee4"/><stop offset="0.495" stop-color="#0075e4"/><stop offset="0.505" stop-color="#0096d9"/><stop offset="0.515" stop-color="#00a4ce"/><stop offset="0.525" stop-color="#009bd6"/><stop offset="0.535" stop-color="#007be1"/><stop offset="0.545" stop-color="#0065e8"/><stop offset="0.556" stop-color="#1f50d4"/><stop offset="0.576" stop-color="#2f47c6"/><stop offset="0.596" stop-color="#1753d9"/><stop offset="0.606" stop-color="#0069e7"/><stop offset="0.626" stop-color="#00a0d2"/><stop offset="0.636" stop-color="#00a3cf"/><stop offset="0.657" stop-color="#006ee6"/><stop offset="0.667" stop-color="#1056dd"/><stop offset="0.687" stop-color="#383db7"/><stop offset="0.727" stop-color="#3b32a0"/><stop offset="1" stop-color="#3b32a0"/></linearGradient>
<linearGradient id="ge60"><stop offset="0" stop-color="#3343c1"/><stop offset="0.0202" stop-color="#3740bc"/><stop offset="0.0404" stop-color="#3b319f"/><stop offset="0.455" stop-color="#3a35a6"/><stop offset="0.475" stop-color="#2e48c7"/><stop offset="0.485" stop-color="#075de3"/><stop offset="0.495" stop-color="#0074e4"/><stop offset="0.505" stop-color="#0094da"/><stop offset="0.515" stop-color="#00a3cf"/><stop offset="0.525" stop-color="#009ad6"/><stop offset="0.535" stop-color="#007be1"/><stop offset="0.545" stop-color="#0065e8"/><stop offset="0.556" stop-color="#1f50d4"/><stop offset="0.576" stop-color="#2f46c5"/><stop offset="0.596" stop-color="#1a52d7"/><stop offset="0.606" stop-color="#0068e7"/><stop offset="0.626" stop-color="#009fd3"/><stop offset="0.636" stop-color="#00a2d0"/><stop offset="0.657" stop-color="#006de6"/><stop offset="0.667" stop-color="#1156dd"/><stop offset="0.687" stop-color="#383db7"/><stop offset="0.727" stop-color="#3b329f"/><stop offset="1" stop-color="#3b329f"/></linearGradient>
<linearGradient id="ge61"><stop offset="0" stop-color="#3343c1"/><stop offset="0.0202" stop-color="#3740bc"/><stop offset="0.0404" stop-color="#3b319e"/><stop offset="0.455" stop-color="#3a34a5"/><stop offset="0.475" stop-color="#2e47c7"/><stop offset="0.485" stop-color="#085ce3"/><stop offset="0.495" stop-color="#0072e4"/><stop offset="0.505" stop-color="#0092db"/><stop offset="0.515" stop-color="#00a2d0"/><stop offset="0.525" stop-color="#0099d6"/><stop offset="0.545" stop-color="#0065e8"/><stop offset="0.556" stop-color="#1f50d4"/><stop offset="0.576" stop-color="#3046c5"/><stop offset="0.596" stop-color="#1d51d5"/><stop offset="0.606" stop-color="#0067e7"/><stop offset="0.626" stop-color="#009dd4"/><stop offset="0.636" stop-color="#00a1d1"/><stop offset="0.657" stop-color="#006de6"/><stop offset="0.667" stop-color="#1156dd"/><stop offset="0.687" stop-color="#383db7"/><stop offset="0.727" stop-color="#3b319e"/><stop offset="1" stop-color="#3b319e"/></linearGradient>
<linearGradient id="ge62"><stop offset="0" stop-color="#3343c1"/><stop offset="0.0202" stop-color="#3740bb"/><stop offset="0.0404" stop-color="#3b319d"/><stop offset="0.455" stop-color="#3a34a4"/><stop offset="0.475" stop-color="#2e47c6"/><stop offset="0.485" stop-color="#095be2"/><stop offset="0.495" stop-color="#0071e5"/><stop offset="0.505" stop-color="#008fdb"/><stop offset="0.515" stop-color="#00a1d1"/><stop offset="0.525" stop-color="#0099d7"/><stop offset="0.545" stop-color="#0065e8"/><stop offset="0.556" stop-color="#1e50d4"/><stop offset="0.576" stop-color="#3046c4"/><stop offset="0.596" stop-color="#1f50d4"/><stop offset="0.606" stop-color="#0067e7"/><stop offset="0.626" stop-color="#009cd5"/><stop offset="0.636" stop-color="#00a0d2"/><stop offset="0.657" stop-color="#006de6"/><stop offset="0.667" stop-color="#1156dd"/><stop offset="0.687" stop-color="#383db7"/><stop offset="0.727" stop-color="#3b319e"/><stop offset="1" stop-color="#3b319e"/></linearGradient>
<linearGradient id="ge63"><stop offset="0" stop-color="#3343c1"/><stop offset="0.0202" stop-color="#3740bb"/><stop offset="0.0404" stop-color="#3b319d"/><stop offset="0.455" stop-color="#3b34a3"/><stop offset="0.475" stop-color="#2f47c6"/><stop offset="0.485" stop-color="#0a5ae2"/><stop offset="0.495" stop-color="#0070e5"/><stop offset="0.505" stop-color="#008ddc"/><stop offset="0.515" stop-color="#009fd3"/><stop offset="0.525" stop-color="#0098d7"/><stop offset="0.545" stop-color="#0065e8"/><stop offset="0.556" stop-color="#1e50d5"/><stop offset="0.576" stop-color="#3045c4"/><stop offset="0.596" stop-color="#214fd3"/><stop offset="0.606" stop-color="#0066e8"/><stop offset="0.626" stop-color="#009ad6"/><stop offset="0.636" stop-color="#009fd2"/><stop offset="0.646" stop-color="#008add"/><stop offset="0.657" stop-color="#006de6"/><stop offset="0.667" stop-color="#1056dd"/><stop offset="0.687" stop-color="#383db7"/><stop offset="0.727" stop-color="#3b319e"/><stop offset="1" stop-color="#3b319e"/></linearGradient>
<linearGradient id="ge64"><stop offset="0" stop-color="#3343c1"/><stop offset="0.0202" stop-color="#3740bb"/><stop offset="0.0404" stop-color="#3b319d"/><stop offset="0.455" stop-color="#3b34a3"/><stop offset="0.475" stop-color="#2f47c6"/><stop offset="0.485" stop-color="#0a5ae1"/><stop offset="0.495" stop-color="#006fe6"/><stop offset="0.505" stop-color="#008bdd"/><stop offset="0.515" stop-color="#009ed4"/><stop offset="0.525" stop-color="#0097d8"/><stop offset="0.545" stop-color="#0065e8"/><stop offset="0.556" stop-color="#1d51d5"/><stop offset="0.576" stop-color="#3045c4"/><stop offset="0.596" stop-color="#224fd2"/><stop offset="0.606" stop-color="#0065e8"/><stop offset="0.626" stop-color="#0099d7"/><stop offset="0.636" stop-color="#009ed3"/><stop offset="0.646" stop-color="#0089dd"/><stop offset="0.657" stop-color="#006de6"/><stop offset="0.667" stop-color="#1056de"/><stop offset="0.687" stop-color="#383eb7"/><stop offset="0.727" stop-color="#3b319e"/><stop offset="1" stop-color="#3b319e"/></linearGradient>
<linearGradient id="ge65"><stop offset="0" stop-color="#3343c1"/><stop offset="0.0202" stop-color="#3740bb"/><stop offset="0.0404" stop-color="#3b319d"/><stop offset="0.455" stop-color="#3b34a3"/><stop offset="0.475" stop-color="#2f46c6"/><stop offset="0.485" stop-color="#0b59e1"/><stop offset="0.495" stop-color="#006ee6"/><stop offset="0.505" stop-color="#0089de"/><stop offset="0.515" stop-color="#009cd5"/><stop offset="0.525" stop-color="#0096d8"/><stop offset="0.545" stop-color="#0065e8"/><stop offset="0.556" stop-color="#1c51d5"/><stop offset="0.576" stop-color="#3045c4"/><stop offset="0.596" stop-color="#234ed1"/><stop offset="0.606" stop-color="#0065e8"/><stop offset="0.626" stop-color="#0097d8"/><stop offset="0.636" stop-color="#009dd4"/><stop offset="0.646" stop-color="#0089dd"/><stop offset="0.657" stop-color="#006de6"/><stop offset="0.667" stop-color="#0f57de"/><stop offset="0.687" stop-color="#383eb7"/><stop offset="0.727" stop-color="#3b319e"/><stop offset="1" stop-color="#3b319e"/></linearGradient>
<linearGradient id="ge66"><stop offset="0" stop-color="#3343c1"/><stop offset="0.0202" stop-color="#3740bb"/><stop offset="0.0404" stop-color="#3b319d"/><stop offset="0.455" stop-color="#3b34a3"/><stop offset="0.485" stop-color="#0c58e0"/><stop offset="0.495" stop-color="#006de6"/><stop offset="0.505" stop-color="#0086de"/><stop offset="0.515" stop-color="#009bd6"/><stop offset="0.525" stop-color="#0095d9"/><stop offset="0.545" stop-color="#0066e8"/><stop offset="0.556" stop-color="#1c51d6"/><stop offset="0.576" stop-color="#3045c4"/><stop offset="0.596" stop-color="#244ed0"/><stop offset="0.606" stop-color="#0064e8"/><stop offset="0.626" stop-color="#0095d9"/><stop offset="0.636" stop-color="#009cd5"/><stop offset="0.646" stop-color="#0088de"/><stop offset="0.657" stop-color="#006de6"/><stop offset="0.667" stop-color="#0e57df"/><stop offset="0.687" stop-color="#383eb7"/><stop offset="0.727" stop-color="#3b319e"/><stop offset="1" stop-color="#3b319e"/></linearGradient>
<linearGradient id="ge67"><stop offset="0" stop-color="#3343c1"/><stop offset="0.0202" stop-color="#3740bb"/><stop offset="0.0404" stop-color="#3b319d"/><stop offset="0.455" stop-color="#3b33a3"/><stop offset="0.485" stop-color="#0e57df"/><stop offset="0.495" stop-color="#006ce6"/><stop offset="0.515" stop-color="#0099d7"/><stop offset="0.525" stop-color="#0095da"/><stop offset="0.545" stop-color="#0066e8"/><stop offset="0.556" stop-color="#1b51d6"/><stop offset="0.576" stop-color="#3045c4"/><stop offset="0.596" stop-color="#264dd0"/><stop offset="0.606" stop-color="#0163e8"/><stop offset="0.626" stop-color="#0093da"/><stop offset="0.636" stop-color="#009ad6"/><stop offset="0.646" stop-color="#0087de"/><stop offset="0.657" stop-color="#006de6"/><stop offset="0.667" stop-color="#0d57df"/><stop offset="0.687" stop-color="#383eb8"/><stop offset="0.727" stop-color="#3b319e"/><stop offset="1" stop-color="#3b319e"/></linearGradient>
<linearGradient id="ge68"><stop offset="0" stop-color="#3343c1"/><stop offset="0.0202" stop-color="#3740bb"/><stop offset="0.0404" stop-color="#3b319d"/><stop offset="0.455" stop-color="#3b33a3"/><stop offset="0.485" stop-color="#1056de"/><stop offset="0.495" stop-color="#006be7"/><stop offset="0.515" stop-color="#0097d8"/><stop offset="0.525" stop-color="#0093da"/><stop offset="0.545" stop-color="#0066e8"/><stop offset="0.556" stop-color="#1b52d7"/><stop offset="0.576" stop-color="#3045c4"/><stop offset="0.596" stop-color="#274dcf"/><stop offset="0.606" stop-color="#0262e7"/><stop offset="0.626" stop-color="#0091db"/><stop offset="0.636" stop-color="#0099d7"/><stop offset="0.646" stop-color="#0086de"/><stop offset="0.657" stop-color="#006de6"/><stop offset="0.667" stop-color="#0d58e0"/><stop offset="0.687" stop-color="#383eb8"/><stop offset="0.727" stop-color="#3b319e"/><stop offset="1" stop-color="#3b319e"/></linearGradient>
<linearGradient id="ge69"><stop offset="0" stop-color="#3343c1"/><stop offset="0.0202" stop-color="#3740bb"/><stop offset="0.0404" stop-color="#3b319d"/><stop offset="0.455" stop-color="#3b33a3"/><stop offset="0.485" stop-color="#1256dc"/><stop offset="0.495" stop-color="#006ae7"/><stop offset="0.515" stop-color="#0095d9"/><stop offset="0.525" stop-color="#0092db"/><stop offset="0.545" stop-color="#0066e8"/><stop offset="0.556" stop-color="#1a52d7"/><stop offset="0.576" stop-color="#3045c4"/><stop offset="0.596" stop-color="#284cce"/><stop offset="0.606" stop-color="#0361e6"/><stop offset="0.626" stop-color="#008edc"/><stop offset="0.636" stop-color="#0097d8"/><stop offset="0.646" stop-color="#0086de"/><stop offset="0.657" stop-color="#006de6"/><stop offset="0.667" stop-color="#0c58e0"/><stop offset="0.687" stop-color="#383eb8"/><stop offset="0.727" stop-color="#3b319e"/><stop offset="1" stop-color="#3b319e"/></linearGradient>
<linearGradient id="ge70"><stop offset="0" stop-color="#3343c1"/><stop offset="0.0202" stop-color="#3740bb"/><stop offset="0.0404" stop-color="#3b319d"/><stop offset="0.455" stop-color="#3b33a3"/><stop offset="0.485" stop-color="#1355db"/><stop offset="0.495" stop-color="#0069e7"/><stop offset="0.515" stop-color="#0094da"/><stop offset="0.525" stop-color="#0090db"/><stop offset="0.545" stop-color="#0066e8"/><stop offset="0.556" stop-color="#1a52d7"/><stop offset="0.576" stop-color="#3045c4"/><stop offset="0.596" stop-color="#284cce"/><stop offset="0.606" stop-color="#0460e5"/><stop offset="0.626" stop-color="#008cdd"/><stop offset="0.636" stop-color="#0096d9"/><stop offset="0.646" stop-color="#0085df"/><stop offset="0.657" stop-color="#006de6"/><stop offset="0.667" stop-color="#0c58e0"/><stop offset="0.687" stop-color="#383eb8"/><stop offset="0.727" stop-color="#3b319e"/><stop offset="1" stop-color="#3b319e"/></linearGradient>
<linearGradient id="ge71"><stop offset="0" stop-color="#3343c1"/><stop offset="0.0202" stop-color="#3740bb"/><stop offset="0.0404" stop-color="#3b319e"/><stop offset="0.455" stop-color="#3b34a3"/><stop offset="0.485" stop-color="#1554da"/><stop offset="0.495" stop-color="#0069e7"/><stop offset="0.515" stop-color="#0091db"/><stop offset="0.525" stop-color="#008edc"/><stop offset="0.545" stop-color="#0066e8"/><stop offset="0.556" stop-color="#1952d8"/><stop offset="0.576" stop-color="#3046c4"/><stop offset="0.596" stop-color="#284cce"/><stop offset="0.606" stop-color="#055fe5"/><stop offset="0.626" stop-color="#0089dd"/><stop offset="0.636" stop-color="#0094da"/><stop offset="0.646" stop-color="#0084df"/><stop offset="0.657" stop-color="#006de6"/><stop offset="0.667" stop-color="#0c58e0"/><stop offset="0.687" stop-color="#373eb9"/><stop offset="0.727" stop-color="#3b319e"/><stop offset="1" stop-color="#3b319e"/></linearGradient>
<linearGradient id="ge72"><stop offset="0" stop-color="#3343c1"/><stop offset="0.0202" stop-color="#3740bc"/><stop offset="0.0404" stop-color="#3b319e"/><stop offset="0.455" stop-color="#3a34a4"/><stop offset="0.485" stop-color="#1753d9"/><stop offset="0.495" stop-color="#0068e7"/><stop offset="0.515" stop-color="#008fdc"/><stop offset="0.525" stop-color="#008ddc"/><stop offset="0.545" stop-color="#0066e8"/><stop offset="0.556" stop-color="#1853d8"/><stop offset="0.576" stop-color="#3046c5"/><stop offset="0.596" stop-color="#284cce"/><stop offset="0.606" stop-color="#055fe4"/><stop offset="0.626" stop-color="#0087de"/><stop offset="0.636" stop-color="#0092db"/><stop offset="0.646" stop-color="#0083df"/><stop offset="0.667" stop-color="#0b59e1"/><stop offset="0.687" stop-color="#373fb9"/><stop offset="0.727" stop-color="#3b319f"/><stop offset="1" stop-color="#3b319f"/></linearGradient>
<linearGradient id="ge73"><stop offset="0" stop-color="#3343c1"/><stop offset="0.0202" stop-color="#3740bd"/><stop offset="0.0404" stop-color="#3b329f"/><stop offset="0.455" stop-color="#3a35a5"/><stop offset="0.485" stop-color="#1853d9"/><stop offset="0.495" stop-color="#0067e7"/><stop offset="0.515" stop-color="#008ddc"/><stop offset="0.525" stop-color="#008bdd"/><stop offset="0.545" stop-color="#0066e8"/><stop offset="0.556" stop-color="#1753d9"/><stop offset="0.576" stop-color="#2f46c6"/><stop offset="0.596" stop-color="#284cce"/><stop offset="0.606" stop-color="#065ee4"/><stop offset="0.626" stop-color="#0085df"/><stop offset="0.636" stop-color="#0090db"/><stop offset="0.646" stop-color="#0082df"/><stop offset="0.667" stop-color="#0b59e1"/><stop offset="0.687" stop-color="#373fba"/><stop offset="0.727" stop-color="#3b32a0"/><stop offset="1" stop-color="#3b32a0"/></linearGradient>
<linearGradient id="ge74"><stop offset="0" stop-color="#3244c2"/><stop offset="0.0202" stop-color="#3641bd"/><stop offset="0.0404" stop-color="#3b33a1"/><stop offset="0.455" stop-color="#3a36a8"/><stop offset="0.485" stop-color="#1853d8"/><stop offset="0.495" stop-color="#0067e7"/><stop offset="0.515" stop-color="#008bdd"/><stop offset="0.525" stop-color="#008add"/><stop offset="0.545" stop-color="#0066e8"/><stop offset="0.566" stop-color="#2b4acb"/><stop offset="0.596" stop-color="#264dcf"/><stop offset="0.606" stop-color="#065ee4"/><stop offset="0.626" stop-color="#0083df"/><stop offset="0.636" stop-color="#008edc"/><stop offset="0.646" stop-color="#0082df"/><stop offset="0.667" stop-color="#0a5ae2"/><stop offset="0.687" stop-color="#373fbb"/><stop offset="0.727" stop-color="#3b33a2"/><stop offset="1" stop-color="#3b33a1"/></linearGradient>
<linearGradient id="ge75"><stop offset="0" stop-color="#3244c2"/><stop offset="0.0202" stop-color="#3542be"/><stop offset="0.0404" stop-color="#3a34a4"/><stop offset="0.455" stop-color="#3a37aa"/><stop offset="0.485" stop-color="#1753d9"/><stop offset="0.495" stop-color="#0067e7"/><stop offset="0.515" stop-color="#0089dd"/><stop offset="0.525" stop-color="#0089dd"/><stop offset="0.545" stop-color="#0066e8"/><stop offset="0.566" stop-color="#2a4bcc"/><stop offset="0.596" stop-color="#244ed0"/><stop offset="0.606" stop-color="#065ee4"/><stop offset="0.626" stop-color="#0082df"/><stop offset="0.636" stop-color="#008cdc"/><stop offset="0.646" stop-color="#0081e0"/><stop offset="0.667" stop-color="#095be2"/><stop offset="0.687" stop-color="#3740bc"/><stop offset="0.727" stop-color="#3a34a4"/><stop offset="1" stop-color="#3a34a4"/></linearGradient>
<linearGradient id="ge76"><stop offset="0" stop-color="#3145c3"/><stop offset="0.0505" stop-color="#3a35a7"/><stop offset="0.455" stop-color="#3938ac"/><stop offset="0.485" stop-color="#1753d9"/><stop offset="0.495" stop-color="#0066e8"/><stop offset="0.515" stop-color="#0087de"/><stop offset="0.525" stop-color="#0088de"/><stop offset="0.545" stop-color="#0067e7"/><stop offset="0.566" stop-color="#294bcd"/><stop offset="0.596" stop-color="#224fd2"/><stop offset="0.606" stop-color="#075de4"/><stop offset="0.626" stop-color="#0080e0"/><stop offset="0.636" stop-color="#008bdd"/><stop offset="0.646" stop-color="#0081e0"/><stop offset="0.667" stop-color="#085ce3"/><stop offset="0.687" stop-color="#3641bd"/><stop offset="0.727" stop-color="#3a35a7"/><stop offset="1" stop-color="#3a35a7"/></linearGradient>
<linearGradient id="ge77"><stop offset="0" stop-color="#3145c4"/><stop offset="0.0505" stop-color="#3a36a9"/><stop offset="0.455" stop-color="#3939af"/><stop offset="0.485" stop-color="#1654d9"/><stop offset="0.505" stop-color="#0076e3"/><stop offset="0.515" stop-color="#0086de"/><stop offset="0.525" stop-color="#0086de"/><stop offset="0.545" stop-color="#0067e7"/><stop offset="0.566" stop-color="#284cce"/><stop offset="0.596" stop-color="#204fd3"/><stop offset="0.606" stop-color="#075de4"/><stop offset="0.626" stop-color="#007ee0"/><stop offset="0.636" stop-color="#0089dd"/><stop offset="0.646" stop-color="#0080e0"/><stop offset="0.667" stop-color="#075de3"/><stop offset="0.687" stop-color="#3541be"/><stop offset="0.727" stop-color="#3a36a9"/><stop offset="1" stop-color="#3a36a9"/></linearGradient>
<linearGradient id="ge78"><stop offset="0" stop-color="#3046c4"/><stop offset="0.0606" stop-color="#3a37aa"/><stop offset="0.455" stop-color="#393ab0"/><stop offset="0.485" stop-color="#1654da"/><stop offset="0.505" stop-color="#0075e4"/><stop offset="0.515" stop-color="#0084df"/><stop offset="0.525" stop-color="#0085de"/><stop offset="0.545" stop-color="#0067e7"/><stop offset="0.566" stop-color="#264dcf"/><stop offset="0.596" stop-color="#1f50d4"/><stop offset="0.606" stop-color="#075de4"/><stop offset="0.626" stop-color="#007de1"/><stop offset="0.636" stop-color="#0087de"/><stop offset="0.646" stop-color="#007fe0"/><stop offset="0.667" stop-color="#065ee4"/><stop offset="0.687" stop-color="#3542bf"/><stop offset="0.727" stop-color="#3a37aa"/><stop offset="1" stop-color="#3a37aa"/></linearGradient>
<linearGradient id="ge79"><stop offset="0" stop-color="#3046c5"/><stop offset="0.0606" stop-color="#3938ab"/><stop offset="0.455" stop-color="#393ab1"/><stop offset="0.485" stop-color="#1654da"/><stop offset="0.505" stop-color="#0074e4"/><stop offset="0.515" stop-color="#0082df"/><stop offset="0.525" stop-color="#0084df"/><stop offset="0.545" stop-color="#0067e7"/><stop offset="0.566" stop-color="#244ed0"/><stop offset="0.596" stop-color="#1e50d4"/><stop offset="0.606" stop-color="#075de3"/><stop offset="0.626" stop-color="#007be1"/><stop offset="0.636" stop-color="#0085de"/><stop offset="0.646" stop-color="#007fe0"/><stop offset="0.667" stop-color="#065ee4"/><stop offset="0.687" stop-color="#3442bf"/><stop offset="0.727" stop-color="#3938ab"/><stop offset="1" stop-color="#3938ab"/></linearGradient>
<linearGradient id="ge80"><stop offset="0" stop-color="#3046c5"/><stop offset="0.0606" stop-color="#3938ac"/><stop offset="0.455" stop-color="#393bb1"/><stop offset="0.485" stop-color="#1753d9"/><stop offset="0.505" stop-color="#0072e4"/><stop offset="0.515" stop-color="#0081e0"/><stop offset="0.525" stop-color="#0082df"/><stop offset="0.556" stop-color="#0b59e1"/><stop offset="0.586" stop-color="#294bcc"/><stop offset="0.606" stop-color="#075de3"/><stop offset="0.636" stop-color="#0084df"/><stop offset="0.646" stop-color="#007de1"/><stop offset="0.667" stop-color="#065ee4"/><stop offset="0.687" stop-color="#3442c0"/><stop offset="0.727" stop-color="#3938ac"/><stop offset="1" stop-color="#3938ac"/></linearGradient>
<linearGradient id="ge81"><stop offset="0" stop-color="#3046c5"/><stop offset="0.0505" stop-color="#3938ac"/><stop offset="0.455" stop-color="#393bb1"/><stop offset="0.485" stop-color="#1853d8"/><stop offset="0.515" stop-color="#007fe0"/><stop offset="0.525" stop-color="#0081e0"/><stop offset="0.556" stop-color="#0b59e1"/><stop offset="0.586" stop-color="#294bcc"/><stop offset="0.606" stop-color="#085ce3"/><stop offset="0.636" stop-color="#0082df"/><stop offset="0.646" stop-color="#007ce1"/><stop offset="0.667" stop-color="#055fe4"/><stop offset="0.687" stop-color="#3442c0"/><stop offset="0.727" stop-color="#3938ac"/><stop offset="1" stop-color="#3938ac"/></linearGradient>
<linearGradient id="ge82"><stop offset="0" stop-color="#3046c5"/><stop offset="0.0505" stop-color="#3938ac"/><stop offset="0.455" stop-color="#393bb1"/><stop offset="0.485" stop-color="#1953d8"/><stop offset="0.515" stop-color="#007de1"/><stop offset="0.525" stop-color="#007fe0"/><stop offset="0.556" stop-color="#0b59e1"/><stop offset="0.586" stop-color="#294bcc"/><stop offset="0.606" stop-color="#095be2"/><stop offset="0.636" stop-color="#0080e0"/><stop offset="0.646" stop-color="#007be1"/><stop offset="0.677" stop-color="#294bcd"/><stop offset="0.707" stop-color="#3939ae"/><stop offset="1" stop-color="#3938ac"/></linearGradient>
<linearGradient id="ge83"><stop offset="0" stop-color="#3046c5"/><stop offset="0.0505" stop-color="#3938ac"/><stop offset="0.455" stop-color="#393bb1"/><stop offset="0.485" stop-color="#1a52d7"/><stop offset="0.515" stop-color="#007be1"/><stop offset="0.525" stop-color="#007ee1"/><stop offset="0.556" stop-color="#0b59e1"/><stop offset="0.586" stop-color="#294bcc"/><stop offset="0.606" stop-color="#095be2"/><stop offset="0.636" stop-color="#007ee0"/><stop offset="0.646" stop-color="#007ae2"/><stop offset="0.677" stop-color="#294bcd"/><stop offset="0.707" stop-color="#3939ae"/><stop offset="1" stop-color="#3938ac"/></linearGradient>
<linearGradient id="ge84"><stop offset="0" stop-color="#3046c5"/><stop offset="0.0505" stop-color="#3938ac"/><stop offset="0.455" stop-color="#393ab1"/><stop offset="0.485" stop-color="#1b52d6"/><stop offset="0.515" stop-color="#007ae2"/><stop offset="0.525" stop-color="#007ce1"/><stop offset="0.556" stop-color="#0b59e1"/><stop offset="0.586" stop-color="#2a4bcc"/><stop offset="0.606" stop-color="#0a5ae2"/><stop offset="0.636" stop-color="#007ce1"/><stop offset="0.646" stop-color="#0079e2"/><stop offset="0.677" stop-color="#294bcd"/><stop offset="0.707" stop-color="#3939ae"/><stop offset="1" stop-color="#3938ac"/></linearGradient>
<linearGradient id="ge85"><stop offset="0" stop-color="#3046c5"/><stop offset="0.0606" stop-color="#3938ac"/><stop offset="0.455" stop-color="#393ab1"/><stop offset="0.485" stop-color="#1c51d6"/><stop offset="0.515" stop-color="#0078e2"/><stop offset="0.525" stop-color="#007be1"/><stop offset="0.556" stop-color="#0a5ae1"/><stop offset="0.586" stop-color="#2a4bcc"/><stop offset="0.606" stop-color="#0a5ae1"/><stop offset="0.636" stop-color="#007be1"/><stop offset="0.646" stop-color="#0078e3"/><stop offset="0.677" stop-color="#294bcd"/><stop offset="0.707" stop-color="#3939ae"/><stop offset="1" stop-color="#3938ac"/></linearGradient>
<linearGradient id="ge86"><stop offset="0" stop-color="#3046c5"/><stop offset="0.0606" stop-color="#3938ab"/><stop offset="0.455" stop-color="#393ab0"/><stop offset="0.485" stop-color="#1d51d5"/><stop offset="0.515" stop-color="#0076e3"/><stop offset="0.525" stop-color="#0079e2"/><stop offset="0.556" stop-color="#0b59e1"/><stop offset="0.586" stop-color="#2a4bcc"/><stop offset="0.606" stop-color="#0b59e1"/><stop offset="0.636" stop-color="#0079e2"/><stop offset="0.646" stop-color="#0077e3"/><stop offset="0.677" stop-color="#294bcd"/><stop offset="0.707" stop-color="#3939ae"/><stop offset="1" stop-color="#3938ab"/></linearGradient>
<linearGradient id="ge87"><stop offset="0" stop-color="#3046c4"/><stop offset="0.0606" stop-color="#3a37aa"/><stop offset="0.455" stop-color="#393ab0"/><stop offset="0.485" stop-color="#1f50d4"/><stop offset="0.515" stop-color="#0075e4"/><stop offset="0.525" stop-color="#0078e2"/><stop offset="0.556" stop-color="#0b59e1"/><stop offset="0.586" stop-color="#2a4acb"/><stop offset="0.606" stop-color="#0c58e0"/><stop offset="0.636" stop-color="#0078e3"/><stop offset="0.646" stop-color="#0075e3"/><stop offset="0.677" stop-color="#294bcd"/><stop offset="0.707" stop-color="#3939ad"/><stop offset="1" stop-color="#3a37aa"/></linearGradient>
<linearGradient id="ge88"><stop offset="0" stop-color="#3045c4"/><stop offset="0.0505" stop-color="#3a37a9"/><stop offset="0.455" stop-color="#3939ae"/><stop offset="0.495" stop-color="#065ee4"/><stop offset="0.515" stop-color="#0073e4"/><stop offset="0.525" stop-color="#0076e3"/><stop offset="0.566" stop-color="#244ed1"/><stop offset="0.596" stop-color="#264dcf"/><stop offset="0.616" stop-color="#0065e8"/><stop offset="0.636" stop-color="#0076e3"/><stop offset="0.646" stop-color="#0074e4"/><stop offset="0.687" stop-color="#3442bf"/><stop offset="0.727" stop-color="#3a37aa"/><stop offset="1" stop-color="#3a37a9"/></linearGradient>
<linearGradient id="ge89"><stop offset="0" stop-color="#3145c3"/><stop offset="0.0505" stop-color="#3a36a8"/><stop offset="0.455" stop-color="#3938ad"/><stop offset="0.495" stop-color="#075de3"/><stop offset="0.515" stop-color="#0072e5"/><stop offset="0.525" stop-color="#0075e4"/><stop offset="0.566" stop-color="#254dd0"/><stop offset="0.596" stop-color="#284cce"/><stop offset="0.616" stop-color="#0064e8"/><stop offset="0.636" stop-color="#0074e4"/><stop offset="0.646" stop-color="#0073e4"/><stop offset="0.687" stop-color="#3542bf"/><stop offset="0.727" stop-color="#3a36a8"/><stop offset="1" stop-color="#3a36a8"/></linearGradient>
<linearGradient id="ge90"><stop offset="0" stop-color="#3144c3"/><stop offset="0.0606" stop-color="#3a35a7"/><stop offset="0.455" stop-color="#3938ac"/><stop offset="0.495" stop-color="#095be2"/><stop offset="0.515" stop-color="#0070e5"/><stop offset="0.525" stop-color="#0073e4"/><stop offset="0.566" stop-color="#274dcf"/><stop offset="0.596" stop-color="#294bcd"/><stop offset="0.636" stop-color="#0073e4"/><stop offset="0.646" stop-color="#0072e5"/><stop offset="0.687" stop-color="#3542be"/><stop offset="0.727" stop-color="#3a36a7"/><stop offset="1" stop-color="#3a35a7"/></linearGradient>
<linearGradient id="ge91"><stop offset="0" stop-color="#3244c2"/><stop offset="0.0505" stop-color="#3a35a6"/><stop offset="0.455" stop-color="#3a37aa"/><stop offset="0.495" stop-color="#0a5ae2"/><stop offset="0.515" stop-color="#006fe6"/><stop offset="0.525" stop-color="#0072e5"/><stop offset="0.566" stop-color="#284cce"/><stop offset="0.596" stop-color="#294bcc"/><stop offset="0.636" stop-color="#0071e5"/><stop offset="0.646" stop-color="#0070e5"/><stop offset="0.687" stop-color="#3541be"/><stop offset="0.727" stop-color="#3a35a6"/><stop offset="1" stop-color="#3a35a6"/></linearGradient>
<linearGradient id="ge92"><stop offset="0" stop-color="#3244c2"/><stop offset="0.0505" stop-color="#3a34a5"/><stop offset="0.455" stop-color="#3a37aa"/><stop offset="0.495" stop-color="#0b59e1"/><stop offset="0.515" stop-color="#006ee6"/><stop offset="0.525" stop-color="#0071e5"/><stop offset="0.566" stop-color="#284cce"/><stop offset="0.596" stop-color="#2a4bcc"/><stop offset="0.636" stop-color="#0070e5"/><stop offset="0.646" stop-color="#006fe6"/><stop offset="0.687" stop-color="#3541be"/><stop offset="0.727" stop-color="#3a35a5"/><stop offset="1" stop-color="#3a34a5"/></linearGradient>
<linearGradient id="ge93"><stop offset="0" stop-color="#3244c2"/><stop offset="0.0606" stop-color="#3a34a5"/><stop offset="0.455" stop-color="#3a37a9"/><stop offset="0.495" stop-color="#0b59e1"/><stop offset="0.515" stop-color="#006de6"/><stop offset="0.525" stop-color="#0070e5"/><stop offset="0.566" stop-color="#284cce"/><stop offset="0.596" stop-color="#2a4acc"/><stop offset="0.636" stop-color="#006fe6"/><stop offset="0.646" stop-color="#006ee6"/><stop offset="0.687" stop-color="#3541be"/><stop offset="0.727" stop-color="#3a35a5"/><stop offset="1" stop-color="#3a34a5"/></linearGradient>
<linearGradient id="ge94"><stop offset="0" stop-color="#3244c2"/><stop offset="0.0606" stop-color="#3a34a5"/><stop offset="0.455" stop-color="#3a37a9"/><stop offset="0.495" stop-color="#0c58e0"/><stop offset="0.515" stop-color="#006ce6"/><stop offset="0.525" stop-color="#006fe6"/><stop offset="0.566" stop-color="#284cce"/><stop offset="0.596" stop-color="#2a4acc"/><stop offset="0.636" stop-color="#006ee6"/><stop offset="0.646" stop-color="#006ee6"/><stop offset="0.687" stop-color="#3541be"/><stop offset="0.727" stop-color="#3a35a5"/><stop offset="1" stop-color="#3a34a5"/></linearGradient>
<linearGradient id="ge95"><stop offset="0" stop-color="#3244c2"/><stop offset="0.0606" stop-color="#3a34a5"/><stop offset="0.455" stop-color="#3a37a9"/><stop offset="0.495" stop-color="#0c58e0"/><stop offset="0.525" stop-color="#006ee6"/><stop offset="0.566" stop-color="#284cce"/><stop offset="0.596" stop-color="#2a4acb"/><stop offset="0.636" stop-color="#006de6"/><stop offset="0.646" stop-color="#006de6"/><stop offset="0.697" stop-color="#3939af"/><stop offset="1" stop-color="#3a34a5"/></linearGradient>
<linearGradient id="ge96"><stop offset="0" stop-color="#3244c2"/><stop offset="0.0606" stop-color="#3a34a5"/><stop offset="0.455" stop-color="#3a37a9"/><stop offset="0.495" stop-color="#0d57df"/><stop offset="0.525" stop-color="#006de6"/><stop offset="0.576" stop-color="#2c49c9"/><stop offset="0.606" stop-color="#1c51d6"/><stop offset="0.636" stop-color="#006ce6"/><stop offset="0.646" stop-color="#006ce6"/><stop offset="0.697" stop-color="#393aaf"/><stop offset="1" stop-color="#3a34a5"/></linearGradient>
<linearGradient id="ge97"><stop offset="0" stop-color="#3244c2"/><stop offset="0.0606" stop-color="#3a34a5"/><stop offset="0.455" stop-color="#3a37a9"/><stop offset="0.505" stop-color="#0163e7"/><stop offset="0.525" stop-color="#006de6"/><stop offset="0.576" stop-color="#2c49c9"/><stop offset="0.606" stop-color="#1d51d5"/><stop offset="0.636" stop-color="#006ce6"/><stop offset="0.657" stop-color="#0067e7"/><stop offset="0.697" stop-color="#393aaf"/><stop offset="1" stop-color="#3a34a5"/></linearGradient>
<linearGradient id="ge98"><stop offset="0" stop-color="#3244c2"/><stop offset="0.0606" stop-color="#3a34a5"/><stop offset="0.455" stop-color="#3a37a9"/><stop offset="0.505" stop-color="#0262e7"/><stop offset="0.525" stop-color="#006ce6"/><stop offset="0.576" stop-color="#2c49c9"/><stop offset="0.606" stop-color="#1d51d5"/><stop offset="0.636" stop-color="#006be7"/><stop offset="0.657" stop-color="#0067e7"/><stop offset="0.697" stop-color="#393aaf"/><stop offset="1" stop-color="#3a34a5"/></linearGradient>
<linearGradient id="ge99"><stop offset="0" stop-color="#3244c2"/><stop offset="0.0606" stop-color="#3a34a5"/><stop offset="0.455" stop-color="#3a37a9"/><stop offset="0.505" stop-color="#0361e6"/><stop offset="0.525" stop-color="#006be7"/><stop offset="0.576" stop-color="#2c49ca"/><stop offset="0.606" stop-color="#1e50d4"/><stop offset="0.636" stop-color="#006ae7"/><stop offset="0.657" stop-color="#0066e8"/><stop offset="0.697" stop-color="#393ab0"/><stop offset="1" stop-color="#3a34a5"/></linearGradient>
<linearGradient id="ge100"><stop offset="0" stop-color="#3244c2"/><stop offset="0.0606" stop-color="#3a34a5"/><stop offset="0.455" stop-color="#3a37a9"/><stop offset="0.525" stop-color="#006be7"/><stop offset="0.576" stop-color="#2c49ca"/><stop offset="0.606" stop-color="#1f50d4"/><stop offset="0.636" stop-color="#006ae7"/><stop offset="0.657" stop-color="#0066e8"/><stop offset="0.697" stop-color="#393ab0"/><stop offset="1" stop-color="#3a34a5"/></linearGradient>
<linearGradient id="ge101"><stop offset="0" stop-color="#3244c2"/><stop offset="0.0606" stop-color="#3a34a5"/><stop offset="0.455" stop-color="#3a36a9"/><stop offset="0.525" stop-color="#006ae7"/><stop offset="0.576" stop-color="#2c49ca"/><stop offset="0.606" stop-color="#2050d3"/><stop offset="0.636" stop-color="#0069e7"/><stop offset="0.657" stop-color="#0066e8"/><stop offset="0.697" stop-color="#393ab0"/><stop offset="1" stop-color="#3a34a5"/></linearGradient>
<linearGradient id="ge102"><stop offset="0" stop-color="#3244c2"/><stop offset="0.0606" stop-color="#3a34a5"/><stop offset="0.455" stop-color="#3a36a9"/><stop offset="0.525" stop-color="#006ae7"/><stop offset="0.576" stop-color="#2c49ca"/><stop offset="0.606" stop-color="#204fd3"/><stop offset="0.636" stop-color="#0069e7"/><stop offset="0.657" stop-color="#0066e8"/><stop offset="0.697" stop-color="#393ab0"/><stop offset="1" stop-color="#3a34a5"/></linearGradient>
<linearGradient id="ge103"><stop offset="0" stop-color="#3244c2"/><stop offset="0.0606" stop-color="#3a34a5"/><stop offset="0.455" stop-color="#3a36a9"/><stop offset="0.525" stop-color="#0069e7"/><stop offset="0.576" stop-color="#2b49ca"/><stop offset="0.606" stop-color="#214fd3"/><stop offset="0.636" stop-color="#0068e7"/><stop offset="0.657" stop-color="#0066e8"/><stop offset="0.697" stop-color="#393ab0"/><stop offset="1" stop-color="#3a34a5"/></linearGradient>
<linearGradient id="ge104"><stop offset="0" stop-color="#3244c2"/><stop offset="0.0606" stop-color="#3a34a5"/><stop offset="0.455" stop-color="#3a36a9"/><stop offset="0.525" stop-color="#0069e7"/><stop offset="0.576" stop-color="#2b49ca"/><stop offset="0.606" stop-color="#214fd2"/><stop offset="0.636" stop-color="#0068e7"/><stop offset="0.657" stop-color="#0066e8"/><stop offset="0.697" stop-color="#393ab0"/><stop offset="1" stop-color="#3a34a5"/></linearGradient>
<linearGradient id="ge105"><stop offset="0" stop-color="#274dcf"/><stop offset="0.0606" stop-color="#3641be"/><stop offset="0.455" stop-color="#3442c0"/><stop offset="0.525" stop-color="#006ee6"/><stop offset="0.586" stop-color="#1554da"/><stop offset="0.616" stop-color="#0064e8"/><stop offset="0.646" stop-color="#006ee6"/><stop offset="0.697" stop-color="#3145c3"/><stop offset="1" stop-color="#3641be"/></linearGradient>
<linearGradient id="ge106"><stop offset="0" stop-color="#0460e6"/><stop offset="0.0606" stop-color="#204fd3"/><stop offset="0.455" stop-color="#1b52d6"/><stop offset="0.525" stop-color="#0077e3"/><stop offset="0.586" stop-color="#0065e8"/><stop offset="0.616" stop-color="#006de6"/><stop offset="0.646" stop-color="#0077e3"/><stop offset="0.697" stop-color="#1156dd"/><stop offset="1" stop-color="#204fd3"/></linearGradient>
<linearGradient id="ge107"><stop offset="0" stop-color="#204fd3"/><stop offset="0.475" stop-color="#1455db"/><stop offset="0.525" stop-color="#006de6"/><stop offset="0.586" stop-color="#1056dd"/><stop offset="0.626" stop-color="#0068e7"/><stop offset="0.646" stop-color="#006de6"/><stop offset="0.707" stop-color="#1b52d6"/><stop offset="1" stop-color="#204fd3"/></linearGradient>
<linearGradient id="ge108"><stop offset="0" stop-color="#204fd3"/><stop offset="0.475" stop-color="#1554da"/><stop offset="0.525" stop-color="#006be7"/><stop offset="0.586" stop-color="#1256dc"/><stop offset="0.646" stop-color="#006be7"/><stop offset="0.707" stop-color="#1b51d6"/><stop offset="1" stop-color="#204fd3"/></linearGradient>
<linearGradient id="ge109"><stop offset="0" stop-color="#0082df"/><stop offset="0.475" stop-color="#0084df"/><stop offset="0.525" stop-color="#0095d9"/><stop offset="0.586" stop-color="#0085df"/><stop offset="0.646" stop-color="#0095d9"/><stop offset="0.707" stop-color="#0083df"/><stop offset="1" stop-color="#0082df"/></linearGradient>
<linearGradient id="ge110"><stop offset="0" stop-color="#00a0d2"/><stop offset="0.485" stop-color="#00a3cf"/><stop offset="0.535" stop-color="#00aac7"/><stop offset="0.586" stop-color="#00a2d0"/><stop offset="0.646" stop-color="#00abc7"/><stop offset="0.717" stop-color="#00a1d1"/><stop offset="1" stop-color="#00a0d2"/></linearGradient>
<linearGradient id="ge111"><stop offset="0" stop-color="#00a0d2"/><stop offset="0.485" stop-color="#00a2d0"/><stop offset="0.535" stop-color="#00a9c9"/><stop offset="0.586" stop-color="#00a2d0"/><stop offset="0.646" stop-color="#00a9c9"/><stop offset="0.717" stop-color="#00a1d1"/><stop offset="1" stop-color="#00a0d2"/></linearGradient>
<linearGradient id="ge112"><stop offset="0" stop-color="#00b5b1"/><stop offset="0.485" stop-color="#00b5ad"/><stop offset="0.535" stop-color="#00b9a1"/><stop offset="0.596" stop-color="#00b5ae"/><stop offset="0.657" stop-color="#00b8a2"/><stop offset="0.727" stop-color="#00b5b1"/><stop offset="1" stop-color="#00b5b1"/></linearGradient>
<linearGradient id="ge113"><stop offset="0" stop-color="#00b6ac"/><stop offset="0.495" stop-color="#00b7a7"/><stop offset="0.535" stop-color="#00b99f"/><stop offset="0.596" stop-color="#00b6aa"/><stop offset="0.657" stop-color="#00b9a1"/><stop offset="0.737" stop-color="#00b6ac"/><stop offset="1" stop-color="#00b6ac"/></linearGradient>
<linearGradient id="ge114"><stop offset="0" stop-color="#00b7a9"/><stop offset="0.505" stop-color="#00b8a3"/><stop offset="0.556" stop-color="#00b8a3"/><stop offset="0.667" stop-color="#00b8a2"/><stop offset="0.859" stop-color="#00b7a9"/><stop offset="1" stop-color="#00b7a8"/></linearGradient>
<linearGradient id="ge115"><stop offset="0" stop-color="#22bf81"/><stop offset="0.192" stop-color="#2dc07f"/><stop offset="0.273" stop-color="#acbc59"/><stop offset="0.485" stop-color="#a9bc5a"/><stop offset="0.515" stop-color="#3cc07d"/><stop offset="0.556" stop-color="#30c07f"/><stop offset="0.566" stop-color="#4fc178"/><stop offset="0.576" stop-color="#9abe5f"/><stop offset="0.586" stop-color="#afbb58"/><stop offset="0.596" stop-color="#afbb58"/><stop offset="0.616" stop-color="#37c07e"/><stop offset="0.889" stop-color="#26bf81"/><stop offset="0.96" stop-color="#78c16b"/><stop offset="1" stop-color="#79c16b"/></linearGradient>
<linearGradient id="ge116"><stop offset="0" stop-color="#22bf81"/><stop offset="0.192" stop-color="#2dc07f"/><stop offset="0.273" stop-color="#acbc59"/><stop offset="0.485" stop-color="#a9bc5a"/><stop offset="0.515" stop-color="#34c07e"/><stop offset="0.556" stop-color="#2abf80"/><stop offset="0.566" stop-color="#4cc179"/><stop offset="0.576" stop-color="#99be60"/><stop offset="0.586" stop-color="#aebb58"/><stop offset="0.596" stop-color="#aebc58"/><stop offset="0.616" stop-color="#32c07f"/><stop offset="0.899" stop-color="#31c07f"/><stop offset="0.96" stop-color="#78c16b"/><stop offset="1" stop-color="#79c16b"/></linearGradient>
<linearGradient id="ge117"><stop offset="0" stop-color="#f5b228"/><stop offset="0.242" stop-color="#f8b41d"/><stop offset="0.485" stop-color="#f9b51a"/><stop offset="0.515" stop-color="#eeaf36"/><stop offset="0.556" stop-color="#f1b032"/><stop offset="0.586" stop-color="#f9b617"/><stop offset="0.646" stop-color="#efaf36"/><stop offset="0.828" stop-color="#efaf35"/><stop offset="0.889" stop-color="#f5b228"/><stop offset="1" stop-color="#f7b322"/></linearGradient>
<linearGradient id="ge118"><stop offset="0" stop-color="#ffc900"/><stop offset="0.485" stop-color="#ffc800"/><stop offset="0.525" stop-color="#ffbc00"/><stop offset="0.556" stop-color="#ffc100"/><stop offset="0.586" stop-color="#ffc900"/><stop offset="0.667" stop-color="#ffbc01"/><stop offset="0.828" stop-color="#ffbf00"/><stop offset="0.879" stop-color="#ffc900"/><stop offset="1" stop-color="#ffc900"/></linearGradient>
<linearGradient id="ge119"><stop offset="0" stop-color="#ffcb00"/><stop offset="0.485" stop-color="#ffca00"/><stop offset="0.525" stop-color="#ffbe00"/><stop offset="0.556" stop-color="#ffc200"/><stop offset="0.586" stop-color="#ffcb00"/><stop offset="0.667" stop-color="#ffbe00"/><stop offset="0.828" stop-color="#ffc100"/><stop offset="0.879" stop-color="#ffcb00"/><stop offset="1" stop-color="#ffcb00"/></linearGradient>
<linearGradient id="ge120"><stop offset="0" stop-color="#ffbf00"/><stop offset="0.444" stop-color="#ffbc01"/><stop offset="0.465" stop-color="#e7b03a"/><stop offset="0.505" stop-color="#e2b13c"/><stop offset="0.525" stop-color="#fcb80e"/><stop offset="0.535" stop-color="#ffbf00"/><stop offset="1" stop-color="#ffbf00"/></linearGradient>
<linearGradient id="ge121"><stop offset="0" stop-color="#00b6ac"/><stop offset="0.505" stop-color="#00b6ac"/><stop offset="0.515" stop-color="#00b7a7"/><stop offset="0.535" stop-color="#85c167"/><stop offset="0.556" stop-color="#8dc064"/><stop offset="0.566" stop-color="#81c168"/><stop offset="0.586" stop-color="#00b7a9"/><stop offset="0.626" stop-color="#00b6ac"/><stop offset="0.636" stop-color="#00b8a2"/><stop offset="0.657" stop-color="#83c168"/><stop offset="0.687" stop-color="#88c066"/><stop offset="0.707" stop-color="#00b99e"/><stop offset="0.717" stop-color="#00b6ac"/><stop offset="1" stop-color="#00b6ac"/></linearGradient>
<linearGradient id="ge122"><stop offset="0" stop-color="#00aec1"/><stop offset="0.505" stop-color="#00aec1"/><stop offset="0.515" stop-color="#00b0bd"/><stop offset="0.535" stop-color="#44c17b"/><stop offset="0.556" stop-color="#50c278"/><stop offset="0.566" stop-color="#3dc07d"/><stop offset="0.586" stop-color="#00afbf"/><stop offset="0.626" stop-color="#00aec1"/><stop offset="0.636" stop-color="#00b1ba"/><stop offset="0.657" stop-color="#40c07c"/><stop offset="0.687" stop-color="#48c17a"/><stop offset="0.707" stop-color="#00b3b7"/><stop offset="0.717" stop-color="#00aec1"/><stop offset="1" stop-color="#00aec1"/></linearGradient>
<linearGradient id="ge123"><stop offset="0" stop-color="#00a7cb"/><stop offset="0.505" stop-color="#00a7cb"/><stop offset="0.515" stop-color="#00a9c9"/><stop offset="0.535" stop-color="#04be86"/><stop offset="0.556" stop-color="#11bf84"/><stop offset="0.566" stop-color="#00be88"/><stop offset="0.586" stop-color="#00a8ca"/><stop offset="0.626" stop-color="#00a7cb"/><stop offset="0.636" stop-color="#00abc7"/><stop offset="0.657" stop-color="#00be87"/><stop offset="0.687" stop-color="#08be86"/><stop offset="0.707" stop-color="#00acc4"/><stop offset="0.717" stop-color="#00a7cb"/><stop offset="1" stop-color="#00a7cb"/></linearGradient>
<linearGradient id="ge124"><stop offset="0" stop-color="#00acc5"/><stop offset="0.505" stop-color="#00acc4"/><stop offset="0.515" stop-color="#00aec0"/><stop offset="0.535" stop-color="#37c07e"/><stop offset="0.556" stop-color="#44c17b"/><stop offset="0.566" stop-color="#30c07f"/><stop offset="0.586" stop-color="#00aec1"/><stop offset="0.626" stop-color="#00acc4"/><stop offset="0.636" stop-color="#00b0bc"/><stop offset="0.657" stop-color="#33c07f"/><stop offset="0.687" stop-color="#3ac07d"/><stop offset="0.707" stop-color="#00b1bb"/><stop offset="0.717" stop-color="#00acc5"/><stop offset="1" stop-color="#00acc5"/></linearGradient>
<linearGradient id="ge125"><stop offset="0" stop-color="#055fe4"/><stop offset="0.0707" stop-color="#3b33a2"/><stop offset="0.424" stop-color="#3a36a8"/><stop offset="0.434" stop-color="#1853d8"/><stop offset="0.444" stop-color="#0078e2"/><stop offset="0.455" stop-color="#0081e0"/><stop offset="0.677" stop-color="#0082df"/><stop offset="0.687" stop-color="#007be1"/><stop offset="0.697" stop-color="#006fe6"/><stop offset="0.707" stop-color="#294ccd"/><stop offset="0.717" stop-color="#3938ad"/><stop offset="0.96" stop-color="#3939ad"/><stop offset="0.98" stop-color="#0460e5"/><stop offset="1" stop-color="#0361e6"/></linearGradient>
<linearGradient id="ge126"><stop offset="0" stop-color="#0163e7"/><stop offset="0.0404" stop-color="#2d48c8"/><stop offset="0.0707" stop-color="#3b33a2"/><stop offset="0.424" stop-color="#3a36a9"/><stop offset="0.434" stop-color="#075de3"/><stop offset="0.444" stop-color="#007ee1"/><stop offset="0.455" stop-color="#0088de"/><stop offset="0.677" stop-color="#0089dd"/><stop offset="0.687" stop-color="#0081e0"/><stop offset="0.697" stop-color="#0073e4"/><stop offset="0.707" stop-color="#1853d9"/><stop offset="0.717" stop-color="#3939af"/><stop offset="0.96" stop-color="#393ab0"/><stop offset="0.98" stop-color="#0064e8"/><stop offset="1" stop-color="#0064e8"/></linearGradient>
<linearGradient id="ge127"><stop offset="0" stop-color="#0065e8"/><stop offset="0.0303" stop-color="#0b59e1"/><stop offset="0.0707" stop-color="#3a36a7"/><stop offset="0.414" stop-color="#3b32a0"/><stop offset="0.424" stop-color="#3a36a8"/><stop offset="0.444" stop-color="#007ee0"/><stop offset="0.455" stop-color="#0089dd"/><stop offset="0.677" stop-color="#008add"/><stop offset="0.687" stop-color="#0082df"/><stop offset="0.697" stop-color="#0074e4"/><stop offset="0.707" stop-color="#0b59e1"/><stop offset="0.717" stop-color="#383bb3"/><stop offset="0.96" stop-color="#383cb4"/><stop offset="0.98" stop-color="#0065e8"/><stop offset="1" stop-color="#0065e8"/></linearGradient>
<linearGradient id="ge128"><stop offset="0" stop-color="#0065e8"/><stop offset="0.0303" stop-color="#065ee4"/><stop offset="0.0808" stop-color="#3b33a2"/><stop offset="0.414" stop-color="#3b32a0"/><stop offset="0.424" stop-color="#3a36a8"/><stop offset="0.444" stop-color="#007ee0"/><stop offset="0.455" stop-color="#0089dd"/><stop offset="0.677" stop-color="#008add"/><stop offset="0.687" stop-color="#0082df"/><stop offset="0.697" stop-color="#0075e4"/><stop offset="0.717" stop-color="#373fb9"/><stop offset="0.949" stop-color="#3938ad"/><stop offset="0.96" stop-color="#373fbb"/><stop offset="0.97" stop-color="#0a5ae1"/><stop offset="0.98" stop-color="#0065e8"/><stop offset="1" stop-color="#0065e8"/></linearGradient>
<linearGradient id="ge129"><stop offset="0" stop-color="#0065e8"/><stop offset="0.0404" stop-color="#095be2"/><stop offset="0.0808" stop-color="#3a36a7"/><stop offset="0.364" stop-color="#3b319d"/><stop offset="0.424" stop-color="#3a36a8"/><stop offset="0.434" stop-color="#0069e7"/><stop offset="0.444" stop-color="#007ee0"/><stop offset="0.455" stop-color="#0089dd"/><stop offset="0.677" stop-color="#008add"/><stop offset="0.687" stop-color="#0082df"/><stop offset="0.707" stop-color="#0361e6"/><stop offset="0.717" stop-color="#3542be"/><stop offset="0.737" stop-color="#3938ad"/><stop offset="0.949" stop-color="#3938ad"/><stop offset="0.96" stop-color="#3442bf"/><stop offset="0.97" stop-color="#075de4"/><stop offset="0.99" stop-color="#0065e8"/><stop offset="1" stop-color="#0065e8"/></linearGradient>
<linearGradient id="ge130"><stop offset="0" stop-color="#0065e8"/><stop offset="0.0404" stop-color="#055fe5"/><stop offset="0.0909" stop-color="#3b33a2"/><stop offset="0.364" stop-color="#3b309d"/><stop offset="0.424" stop-color="#3a36a7"/><stop offset="0.434" stop-color="#006ce6"/><stop offset="0.444" stop-color="#007ee0"/><stop offset="0.455" stop-color="#0089dd"/><stop offset="0.677" stop-color="#008add"/><stop offset="0.687" stop-color="#0082df"/><stop offset="0.707" stop-color="#0065e8"/><stop offset="0.717" stop-color="#3144c3"/><stop offset="0.727" stop-color="#3938ad"/><stop offset="0.949" stop-color="#3938ad"/><stop offset="0.96" stop-color="#3045c4"/><stop offset="0.97" stop-color="#0361e6"/><stop offset="1" stop-color="#0065e8"/></linearGradient>
<linearGradient id="ge131"><stop offset="0" stop-color="#0065e8"/><stop offset="0.0404" stop-color="#0163e7"/><stop offset="0.101" stop-color="#3b329f"/><stop offset="0.364" stop-color="#3b309c"/><stop offset="0.424" stop-color="#3a36a7"/><stop offset="0.434" stop-color="#006ee6"/><stop offset="0.444" stop-color="#007ee0"/><stop offset="0.455" stop-color="#0089dd"/><stop offset="0.525" stop-color="#0085df"/><stop offset="0.576" stop-color="#0082df"/><stop offset="0.657" stop-color="#008add"/><stop offset="0.677" stop-color="#008add"/><stop offset="0.687" stop-color="#0082df"/><stop offset="0.717" stop-color="#2d48c7"/><stop offset="0.727" stop-color="#3939ad"/><stop offset="0.949" stop-color="#3938ad"/><stop offset="0.97" stop-color="#0163e7"/><stop offset="1" stop-color="#0065e8"/></linearGradient>
<linearGradient id="ge132"><stop offset="0" stop-color="#0065e8"/><stop offset="0.0505" stop-color="#0361e6"/><stop offset="0.101" stop-color="#3b33a2"/><stop offset="0.333" stop-color="#3a2e99"/><stop offset="0.424" stop-color="#3a35a7"/><stop offset="0.434" stop-color="#0070e5"/><stop offset="0.455" stop-color="#0089dd"/><stop offset="0.505" stop-color="#0085de"/><stop offset="0.556" stop-color="#0072e5"/><stop offset="0.626" stop-color="#0089dd"/><stop offset="0.677" stop-color="#008add"/><stop offset="0.687" stop-color="#0082df"/><stop offset="0.727" stop-color="#393aaf"/><stop offset="0.949" stop-color="#3938ad"/><stop offset="0.97" stop-color="#0064e8"/><stop offset="1" stop-color="#0065e8"/></linearGradient>
<linearGradient id="ge133"><stop offset="0" stop-color="#0065e8"/><stop offset="0.0505" stop-color="#0064e8"/><stop offset="0.111" stop-color="#3b319f"/><stop offset="0.333" stop-color="#3a2e98"/><stop offset="0.424" stop-color="#3a37aa"/><stop offset="0.434" stop-color="#0071e5"/><stop offset="0.455" stop-color="#0089dd"/><stop offset="0.495" stop-color="#0086de"/><stop offset="0.525" stop-color="#0073e4"/><stop offset="0.545" stop-color="#0262e7"/><stop offset="0.566" stop-color="#0460e5"/><stop offset="0.616" stop-color="#0085df"/><stop offset="0.677" stop-color="#008add"/><stop offset="0.687" stop-color="#0082df"/><stop offset="0.727" stop-color="#383cb4"/><stop offset="0.949" stop-color="#3939ad"/><stop offset="0.97" stop-color="#0065e8"/><stop offset="1" stop-color="#0065e8"/></linearGradient>
<linearGradient id="ge134"><stop offset="0" stop-color="#0065e8"/><stop offset="0.0606" stop-color="#0361e6"/><stop offset="0.111" stop-color="#3b32a1"/><stop offset="0.313" stop-color="#3a2c95"/><stop offset="0.414" stop-color="#3b319e"/><stop offset="0.424" stop-color="#393ab0"/><stop offset="0.434" stop-color="#0071e5"/><stop offset="0.455" stop-color="#0089dd"/><stop offset="0.495" stop-color="#0085df"/><stop offset="0.515" stop-color="#0077e3"/><stop offset="0.545" stop-color="#2a4acb"/><stop offset="0.556" stop-color="#3244c2"/><stop offset="0.566" stop-color="#2e47c7"/><stop offset="0.606" stop-color="#007de1"/><stop offset="0.636" stop-color="#0089dd"/><stop offset="0.677" stop-color="#008add"/><stop offset="0.687" stop-color="#0082df"/><stop offset="0.727" stop-color="#373fba"/><stop offset="0.798" stop-color="#3938ad"/><stop offset="0.949" stop-color="#393ab0"/><stop offset="0.96" stop-color="#0d57df"/><stop offset="0.97" stop-color="#0065e8"/><stop offset="1" stop-color="#0065e8"/></linearGradient>
<linearGradient id="ge135"><stop offset="0" stop-color="#0065e8"/><stop offset="0.0606" stop-color="#0064e8"/><stop offset="0.121" stop-color="#3b319e"/><stop offset="0.323" stop-color="#3a2c95"/><stop offset="0.414" stop-color="#3b319e"/><stop offset="0.424" stop-color="#373eb9"/><stop offset="0.434" stop-color="#0071e5"/><stop offset="0.455" stop-color="#0089dd"/><stop offset="0.495" stop-color="#0085df"/><stop offset="0.525" stop-color="#006de6"/><stop offset="0.545" stop-color="#224ed2"/><stop offset="0.556" stop-color="#2d48c8"/><stop offset="0.566" stop-color="#294bcc"/><stop offset="0.606" stop-color="#007ee1"/><stop offset="0.636" stop-color="#0089dd"/><stop offset="0.677" stop-color="#008add"/><stop offset="0.687" stop-color="#0082df"/><stop offset="0.727" stop-color="#3442bf"/><stop offset="0.747" stop-color="#3938ad"/><stop offset="0.949" stop-color="#383db6"/><stop offset="0.96" stop-color="#085ce2"/><stop offset="0.98" stop-color="#0065e8"/><stop offset="1" stop-color="#0065e8"/></linearGradient>
<linearGradient id="ge136"><stop offset="0" stop-color="#0065e8"/><stop offset="0.0707" stop-color="#0262e6"/><stop offset="0.121" stop-color="#3b32a0"/><stop offset="0.303" stop-color="#392b92"/><stop offset="0.414" stop-color="#3b319e"/><stop offset="0.424" stop-color="#3443c0"/><stop offset="0.434" stop-color="#0071e5"/><stop offset="0.455" stop-color="#0089dd"/><stop offset="0.495" stop-color="#0086de"/><stop offset="0.525" stop-color="#0076e3"/><stop offset="0.556" stop-color="#0065e8"/><stop offset="0.576" stop-color="#006ce6"/><stop offset="0.616" stop-color="#0086de"/><stop offset="0.677" stop-color="#008add"/><stop offset="0.687" stop-color="#0082df"/><stop offset="0.707" stop-color="#0069e7"/><stop offset="0.737" stop-color="#3938ad"/><stop offset="0.939" stop-color="#3938ad"/><stop offset="0.949" stop-color="#3740bc"/><stop offset="0.96" stop-color="#055fe5"/><stop offset="1" stop-color="#0065e8"/></linearGradient>
<linearGradient id="ge137"><stop offset="0" stop-color="#0065e8"/><stop offset="0.0707" stop-color="#0064e8"/><stop offset="0.131" stop-color="#3b309d"/><stop offset="0.313" stop-color="#392b92"/><stop offset="0.414" stop-color="#3b319e"/><stop offset="0.424" stop-color="#2f47c6"/><stop offset="0.434" stop-color="#0071e5"/><stop offset="0.455" stop-color="#0089dd"/><stop offset="0.505" stop-color="#0086de"/><stop offset="0.556" stop-color="#0077e3"/><stop offset="0.626" stop-color="#0089dd"/><stop offset="0.677" stop-color="#008add"/><stop offset="0.687" stop-color="#0082df"/><stop offset="0.707" stop-color="#0069e7"/><stop offset="0.717" stop-color="#0361e6"/><stop offset="0.737" stop-color="#3939af"/><stop offset="0.939" stop-color="#3938ad"/><stop offset="0.949" stop-color="#3343c0"/><stop offset="0.96" stop-color="#0262e7"/><stop offset="1" stop-color="#0065e8"/></linearGradient>
<linearGradient id="ge138"><stop offset="0" stop-color="#0065e8"/><stop offset="0.0808" stop-color="#0262e7"/><stop offset="0.131" stop-color="#3b329f"/><stop offset="0.303" stop-color="#392b91"/><stop offset="0.414" stop-color="#3b319e"/><stop offset="0.424" stop-color="#294bcd"/><stop offset="0.434" stop-color="#0071e5"/><stop offset="0.455" stop-color="#0089dd"/><stop offset="0.576" stop-color="#0084df"/><stop offset="0.677" stop-color="#008add"/><stop offset="0.687" stop-color="#0082df"/><stop offset="0.707" stop-color="#0069e7"/><stop offset="0.717" stop-color="#0064e8"/><stop offset="0.737" stop-color="#383bb3"/><stop offset="0.939" stop-color="#3938ad"/><stop offset="0.949" stop-color="#3046c5"/><stop offset="0.96" stop-color="#0064e8"/><stop offset="1" stop-color="#0065e8"/></linearGradient>
<linearGradient id="ge139"><stop offset="0" stop-color="#0065e8"/><stop offset="0.0808" stop-color="#0064e8"/><stop offset="0.141" stop-color="#3b309c"/><stop offset="0.313" stop-color="#392b92"/><stop offset="0.414" stop-color="#3b319e"/><stop offset="0.434" stop-color="#0071e5"/><stop offset="0.455" stop-color="#0089dd"/><stop offset="0.677" stop-color="#008add"/><stop offset="0.687" stop-color="#0082df"/><stop offset="0.707" stop-color="#0069e7"/><stop offset="0.717" stop-color="#0065e8"/><stop offset="0.737" stop-color="#373eb9"/><stop offset="0.939" stop-color="#3938ad"/><stop offset="0.96" stop-color="#0065e8"/><stop offset="1" stop-color="#0065e8"/></linearGradient>
<linearGradient id="ge140"><stop offset="0" stop-color="#0065e8"/><stop offset="0.0909" stop-color="#0163e7"/><stop offset="0.141" stop-color="#3b329f"/><stop offset="0.303" stop-color="#392b91"/><stop offset="0.414" stop-color="#3b319e"/><stop offset="0.434" stop-color="#0071e5"/><stop offset="0.455" stop-color="#0089dd"/><stop offset="0.677" stop-color="#008add"/><stop offset="0.687" stop-color="#0082df"/><stop offset="0.707" stop-color="#0069e7"/><stop offset="0.727" stop-color="#0e57de"/><stop offset="0.737" stop-color="#3541be"/><stop offset="0.758" stop-color="#3938ad"/><stop offset="0.939" stop-color="#3939ad"/><stop offset="0.96" stop-color="#0065e8"/><stop offset="1" stop-color="#0065e8"/></linearGradient>
<linearGradient id="ge141"><stop offset="0" stop-color="#0065e8"/><stop offset="0.101" stop-color="#0460e5"/><stop offset="0.152" stop-color="#3a309b"/><stop offset="0.313" stop-color="#3a2b93"/><stop offset="0.414" stop-color="#3b32a0"/><stop offset="0.424" stop-color="#055fe4"/><stop offset="0.444" stop-color="#007ee0"/><stop offset="0.455" stop-color="#0089dd"/><stop offset="0.677" stop-color="#008add"/><stop offset="0.687" stop-color="#0082df"/><stop offset="0.707" stop-color="#0069e7"/><stop offset="0.727" stop-color="#095be2"/><stop offset="0.737" stop-color="#3244c2"/><stop offset="0.747" stop-color="#3938ad"/><stop offset="0.939" stop-color="#393ab0"/><stop offset="0.96" stop-color="#0065e8"/><stop offset="1" stop-color="#0065e8"/></linearGradient>
<linearGradient id="ge142"><stop offset="0" stop-color="#0065e8"/><stop offset="0.101" stop-color="#0163e7"/><stop offset="0.162" stop-color="#3a2f99"/><stop offset="0.333" stop-color="#3a2d96"/><stop offset="0.414" stop-color="#3a35a7"/><stop offset="0.424" stop-color="#0163e7"/><stop offset="0.455" stop-color="#0089dd"/><stop offset="0.677" stop-color="#008add"/><stop offset="0.687" stop-color="#0082df"/><stop offset="0.707" stop-color="#0069e7"/><stop offset="0.727" stop-color="#055fe5"/><stop offset="0.747" stop-color="#3939ae"/><stop offset="0.939" stop-color="#383cb5"/><stop offset="0.949" stop-color="#0b59e0"/><stop offset="0.96" stop-color="#0065e8"/><stop offset="1" stop-color="#0065e8"/></linearGradient>
<linearGradient id="ge143"><stop offset="0" stop-color="#0065e8"/><stop offset="0.111" stop-color="#0460e5"/><stop offset="0.162" stop-color="#3a309b"/><stop offset="0.323" stop-color="#3a2d95"/><stop offset="0.404" stop-color="#3b319e"/><stop offset="0.414" stop-color="#393ab1"/><stop offset="0.424" stop-color="#0065e8"/><stop offset="0.455" stop-color="#0089dd"/><stop offset="0.677" stop-color="#008add"/><stop offset="0.687" stop-color="#0082df"/><stop offset="0.707" stop-color="#0069e7"/><stop offset="0.727" stop-color="#0262e7"/><stop offset="0.747" stop-color="#383bb2"/><stop offset="0.929" stop-color="#383bb2"/><stop offset="0.939" stop-color="#3740bb"/><stop offset="0.949" stop-color="#085ce3"/><stop offset="0.97" stop-color="#0065e8"/><stop offset="1" stop-color="#0065e8"/></linearGradient>
<linearGradient id="ge144"><stop offset="0" stop-color="#0065e8"/><stop offset="0.111" stop-color="#0163e8"/><stop offset="0.172" stop-color="#3a2f99"/><stop offset="0.354" stop-color="#3a2f99"/><stop offset="0.404" stop-color="#3b32a0"/><stop offset="0.414" stop-color="#3740bc"/><stop offset="0.424" stop-color="#0066e8"/><stop offset="0.455" stop-color="#0088de"/><stop offset="0.677" stop-color="#0089dd"/><stop offset="0.687" stop-color="#0081e0"/><stop offset="0.707" stop-color="#0069e7"/><stop offset="0.727" stop-color="#0064e8"/><stop offset="0.747" stop-color="#383eb7"/><stop offset="0.929" stop-color="#383eb8"/><stop offset="0.939" stop-color="#3442c0"/><stop offset="0.949" stop-color="#0460e5"/><stop offset="1" stop-color="#0065e8"/></linearGradient>
<linearGradient id="ge145"><stop offset="0" stop-color="#0065e8"/><stop offset="0.121" stop-color="#0361e6"/><stop offset="0.172" stop-color="#3b309c"/><stop offset="0.354" stop-color="#3a2f9a"/><stop offset="0.404" stop-color="#3a36a7"/><stop offset="0.414" stop-color="#3244c3"/><stop offset="0.424" stop-color="#0065e8"/><stop offset="0.465" stop-color="#0071e5"/><stop offset="0.687" stop-color="#006fe6"/><stop offset="0.717" stop-color="#0065e8"/><stop offset="0.727" stop-color="#0065e8"/><stop offset="0.747" stop-color="#3641bd"/><stop offset="0.768" stop-color="#3938ad"/><stop offset="0.919" stop-color="#383cb5"/><stop offset="0.939" stop-color="#3045c4"/><stop offset="0.949" stop-color="#0163e7"/><stop offset="1" stop-color="#0065e8"/></linearGradient>
<linearGradient id="ge146"><stop offset="0" stop-color="#0065e8"/><stop offset="0.121" stop-color="#0064e8"/><stop offset="0.182" stop-color="#3a2f9a"/><stop offset="0.394" stop-color="#3b319e"/><stop offset="0.414" stop-color="#2c49c9"/><stop offset="0.424" stop-color="#0065e8"/><stop offset="0.465" stop-color="#006de6"/><stop offset="0.687" stop-color="#006be7"/><stop offset="0.727" stop-color="#0065e8"/><stop offset="0.737" stop-color="#0a5ae2"/><stop offset="0.747" stop-color="#3244c2"/><stop offset="0.758" stop-color="#3938ad"/><stop offset="0.909" stop-color="#383bb2"/><stop offset="0.939" stop-color="#2c49c9"/><stop offset="0.949" stop-color="#0064e8"/><stop offset="1" stop-color="#0065e8"/></linearGradient>
<linearGradient id="ge147"><stop offset="0" stop-color="#0065e8"/><stop offset="0.131" stop-color="#0361e6"/><stop offset="0.182" stop-color="#3b319d"/><stop offset="0.384" stop-color="#3b319e"/><stop offset="0.394" stop-color="#3b32a1"/><stop offset="0.424" stop-color="#0065e8"/><stop offset="0.465" stop-color="#006de6"/><stop offset="0.687" stop-color="#006be7"/><stop offset="0.737" stop-color="#065ee4"/><stop offset="0.758" stop-color="#3939ae"/><stop offset="0.909" stop-color="#383eb8"/><stop offset="0.939" stop-color="#284cce"/><stop offset="0.949" stop-color="#0065e8"/><stop offset="1" stop-color="#0065e8"/></linearGradient>
<linearGradient id="ge148"><stop offset="0" stop-color="#0065e8"/><stop offset="0.131" stop-color="#0064e8"/><stop offset="0.192" stop-color="#3a309b"/><stop offset="0.384" stop-color="#3b319e"/><stop offset="0.404" stop-color="#3145c3"/><stop offset="0.424" stop-color="#0065e8"/><stop offset="0.465" stop-color="#006de6"/><stop offset="0.687" stop-color="#006be7"/><stop offset="0.737" stop-color="#0361e6"/><stop offset="0.758" stop-color="#383cb4"/><stop offset="0.899" stop-color="#383eb8"/><stop offset="0.939" stop-color="#1853d8"/><stop offset="0.949" stop-color="#0065e8"/><stop offset="1" stop-color="#0065e8"/></linearGradient>
<linearGradient id="ge149"><stop offset="0" stop-color="#0065e8"/><stop offset="0.141" stop-color="#0262e6"/><stop offset="0.192" stop-color="#3b319f"/><stop offset="0.384" stop-color="#3b319f"/><stop offset="0.404" stop-color="#2c49c9"/><stop offset="0.424" stop-color="#0065e8"/><stop offset="0.465" stop-color="#006de6"/><stop offset="0.687" stop-color="#006be7"/><stop offset="0.737" stop-color="#0064e8"/><stop offset="0.758" stop-color="#3740bc"/><stop offset="0.889" stop-color="#383eb8"/><stop offset="0.939" stop-color="#0b59e0"/><stop offset="0.949" stop-color="#0065e8"/><stop offset="1" stop-color="#0065e8"/></linearGradient>
<linearGradient id="ge150"><stop offset="0" stop-color="#0065e8"/><stop offset="0.141" stop-color="#0064e8"/><stop offset="0.202" stop-color="#3b309c"/><stop offset="0.384" stop-color="#3b33a2"/><stop offset="0.414" stop-color="#0460e5"/><stop offset="0.465" stop-color="#006de6"/><stop offset="0.687" stop-color="#006be7"/><stop offset="0.727" stop-color="#0065e8"/><stop offset="0.737" stop-color="#0065e8"/><stop offset="0.758" stop-color="#3343c1"/><stop offset="0.869" stop-color="#383eb8"/><stop offset="0.929" stop-color="#0f57de"/><stop offset="0.96" stop-color="#0065e8"/><stop offset="1" stop-color="#0065e8"/></linearGradient>
<linearGradient id="ge151"><stop offset="0" stop-color="#0065e8"/><stop offset="0.152" stop-color="#0262e7"/><stop offset="0.202" stop-color="#3b329f"/><stop offset="0.384" stop-color="#3a36a9"/><stop offset="0.414" stop-color="#0163e7"/><stop offset="0.465" stop-color="#006de6"/><stop offset="0.687" stop-color="#006be7"/><stop offset="0.727" stop-color="#0065e8"/><stop offset="0.737" stop-color="#0065e8"/><stop offset="0.758" stop-color="#2f46c6"/><stop offset="0.828" stop-color="#373fba"/><stop offset="0.889" stop-color="#3144c3"/><stop offset="0.96" stop-color="#0065e8"/><stop offset="1" stop-color="#0065e8"/></linearGradient>
<linearGradient id="ge152"><stop offset="0" stop-color="#0065e8"/><stop offset="0.152" stop-color="#0064e8"/><stop offset="0.212" stop-color="#3b319e"/><stop offset="0.374" stop-color="#3b32a0"/><stop offset="0.394" stop-color="#2c49ca"/><stop offset="0.414" stop-color="#0065e8"/><stop offset="0.465" stop-color="#0074e4"/><stop offset="0.677" stop-color="#0074e4"/><stop offset="0.717" stop-color="#0065e8"/><stop offset="0.747" stop-color="#055fe4"/><stop offset="0.758" stop-color="#2b4acb"/><stop offset="0.828" stop-color="#3740bd"/><stop offset="0.889" stop-color="#2d48c7"/><stop offset="0.949" stop-color="#0065e8"/><stop offset="1" stop-color="#0065e8"/></linearGradient>
<linearGradient id="ge153"><stop offset="0" stop-color="#0065e8"/><stop offset="0.162" stop-color="#0262e7"/><stop offset="0.212" stop-color="#3b32a0"/><stop offset="0.374" stop-color="#3b34a3"/><stop offset="0.404" stop-color="#0460e5"/><stop offset="0.424" stop-color="#0066e8"/><stop offset="0.455" stop-color="#0086de"/><stop offset="0.677" stop-color="#0087de"/><stop offset="0.697" stop-color="#0073e4"/><stop offset="0.707" stop-color="#0068e7"/><stop offset="0.747" stop-color="#0262e6"/><stop offset="0.758" stop-color="#234ed1"/><stop offset="0.828" stop-color="#3542bf"/><stop offset="0.889" stop-color="#294bcc"/><stop offset="0.949" stop-color="#0065e8"/><stop offset="1" stop-color="#0065e8"/></linearGradient>
<linearGradient id="ge154"><stop offset="0" stop-color="#0065e8"/><stop offset="0.162" stop-color="#0064e8"/><stop offset="0.222" stop-color="#3b319f"/><stop offset="0.374" stop-color="#3937ab"/><stop offset="0.404" stop-color="#0163e7"/><stop offset="0.424" stop-color="#0066e8"/><stop offset="0.455" stop-color="#0086de"/><stop offset="0.677" stop-color="#0087de"/><stop offset="0.697" stop-color="#0073e4"/><stop offset="0.707" stop-color="#0068e7"/><stop offset="0.747" stop-color="#0064e8"/><stop offset="0.768" stop-color="#284ccd"/><stop offset="0.838" stop-color="#3145c3"/><stop offset="0.899" stop-color="#0e57de"/><stop offset="0.949" stop-color="#0065e8"/><stop offset="1" stop-color="#0065e8"/></linearGradient>
<linearGradient id="ge155"><stop offset="0" stop-color="#0065e8"/><stop offset="0.172" stop-color="#0163e7"/><stop offset="0.222" stop-color="#3b32a1"/><stop offset="0.364" stop-color="#3b32a1"/><stop offset="0.404" stop-color="#0065e8"/><stop offset="0.424" stop-color="#0066e8"/><stop offset="0.455" stop-color="#0086de"/><stop offset="0.677" stop-color="#0087de"/><stop offset="0.697" stop-color="#0073e4"/><stop offset="0.707" stop-color="#0068e7"/><stop offset="0.737" stop-color="#0065e8"/><stop offset="0.747" stop-color="#0065e8"/><stop offset="0.768" stop-color="#1c51d6"/><stop offset="0.828" stop-color="#2f46c6"/><stop offset="0.899" stop-color="#095be2"/><stop offset="0.96" stop-color="#0065e8"/><stop offset="1" stop-color="#0065e8"/></linearGradient>
<linearGradient id="ge156"><stop offset="0" stop-color="#0065e8"/><stop offset="0.182" stop-color="#0460e5"/><stop offset="0.222" stop-color="#3a36a7"/><stop offset="0.364" stop-color="#3a35a5"/><stop offset="0.394" stop-color="#0460e5"/><stop offset="0.424" stop-color="#0066e8"/><stop offset="0.455" stop-color="#0086de"/><stop offset="0.677" stop-color="#0087de"/><stop offset="0.697" stop-color="#0073e4"/><stop offset="0.707" stop-color="#0068e7"/><stop offset="0.737" stop-color="#0065e8"/><stop offset="0.818" stop-color="#2d48c8"/><stop offset="0.939" stop-color="#0065e8"/><stop offset="1" stop-color="#0065e8"/></linearGradient>
<linearGradient id="ge157"><stop offset="0" stop-color="#0065e8"/><stop offset="0.182" stop-color="#0163e8"/><stop offset="0.232" stop-color="#3b33a1"/><stop offset="0.364" stop-color="#3938ad"/><stop offset="0.394" stop-color="#0163e7"/><stop offset="0.424" stop-color="#0066e8"/><stop offset="0.455" stop-color="#0086de"/><stop offset="0.677" stop-color="#0087de"/><stop offset="0.697" stop-color="#0073e4"/><stop offset="0.707" stop-color="#0068e7"/><stop offset="0.737" stop-color="#0065e8"/><stop offset="0.828" stop-color="#284cce"/><stop offset="0.939" stop-color="#0065e8"/><stop offset="1" stop-color="#0065e8"/></linearGradient>
<linearGradient id="ge158"><stop offset="0" stop-color="#0065e8"/><stop offset="0.192" stop-color="#0361e6"/><stop offset="0.232" stop-color="#3a35a7"/><stop offset="0.354" stop-color="#3b33a2"/><stop offset="0.394" stop-color="#0065e8"/><stop offset="0.424" stop-color="#0066e8"/><stop offset="0.455" stop-color="#0086de"/><stop offset="0.677" stop-color="#0087de"/><stop offset="0.697" stop-color="#0073e4"/><stop offset="0.707" stop-color="#0068e7"/><stop offset="0.737" stop-color="#0065e8"/><stop offset="0.828" stop-color="#1d51d5"/><stop offset="0.939" stop-color="#0065e8"/><stop offset="1" stop-color="#0065e8"/></linearGradient>
<linearGradient id="ge159"><stop offset="0" stop-color="#0065e8"/><stop offset="0.192" stop-color="#0064e8"/><stop offset="0.242" stop-color="#3b33a1"/><stop offset="0.354" stop-color="#3a35a6"/><stop offset="0.384" stop-color="#0460e5"/><stop offset="0.424" stop-color="#0066e8"/><stop offset="0.455" stop-color="#0086de"/><stop offset="0.677" stop-color="#0087de"/><stop offset="0.697" stop-color="#0073e4"/><stop offset="0.707" stop-color="#0068e7"/><stop offset="0.737" stop-color="#0065e8"/><stop offset="0.828" stop-color="#1156dd"/><stop offset="0.939" stop-color="#0065e8"/><stop offset="1" stop-color="#0065e8"/></linearGradient>
<linearGradient id="ge160"><stop offset="0" stop-color="#0065e8"/><stop offset="0.202" stop-color="#0460e5"/><stop offset="0.242" stop-color="#3a35a6"/><stop offset="0.343" stop-color="#3b32a1"/><stop offset="0.364" stop-color="#2f46c5"/><stop offset="0.384" stop-color="#0163e8"/><stop offset="0.424" stop-color="#0066e8"/><stop offset="0.455" stop-color="#0086de"/><stop offset="0.677" stop-color="#0087de"/><stop offset="0.697" stop-color="#0073e4"/><stop offset="0.707" stop-color="#0068e7"/><stop offset="0.737" stop-color="#0065e8"/><stop offset="0.838" stop-color="#095be2"/><stop offset="0.96" stop-color="#0065e8"/><stop offset="1" stop-color="#0065e8"/></linearGradient>
<linearGradient id="ge161"><stop offset="0" stop-color="#0065e8"/><stop offset="0.202" stop-color="#0163e7"/><stop offset="0.253" stop-color="#3b33a1"/><stop offset="0.343" stop-color="#3b33a2"/><stop offset="0.384" stop-color="#0065e8"/><stop offset="0.424" stop-color="#0066e8"/><stop offset="0.455" stop-color="#0086de"/><stop offset="0.677" stop-color="#0087de"/><stop offset="0.697" stop-color="#0073e4"/><stop offset="0.707" stop-color="#0068e7"/><stop offset="0.737" stop-color="#0065e8"/><stop offset="0.838" stop-color="#065ee4"/><stop offset="1" stop-color="#0065e8"/></linearGradient>
<linearGradient id="ge162"><stop offset="0" stop-color="#0065e8"/><stop offset="0.202" stop-color="#0065e8"/><stop offset="0.253" stop-color="#3a35a6"/><stop offset="0.343" stop-color="#3a36a7"/><stop offset="0.374" stop-color="#0361e6"/><stop offset="0.424" stop-color="#0066e8"/><stop offset="0.455" stop-color="#0086de"/><stop offset="0.677" stop-color="#0087de"/><stop offset="0.697" stop-color="#0073e4"/><stop offset="0.707" stop-color="#0068e7"/><stop offset="0.737" stop-color="#0065e8"/><stop offset="0.848" stop-color="#0262e7"/><stop offset="1" stop-color="#0065e8"/></linearGradient>
<linearGradient id="ge163"><stop offset="0" stop-color="#0065e8"/><stop offset="0.212" stop-color="#0163e7"/><stop offset="0.263" stop-color="#3b33a1"/><stop offset="0.333" stop-color="#3b33a2"/><stop offset="0.354" stop-color="#2f47c6"/><stop offset="0.374" stop-color="#0064e8"/><stop offset="0.424" stop-color="#0066e8"/><stop offset="0.455" stop-color="#0086de"/><stop offset="0.677" stop-color="#0087de"/><stop offset="0.697" stop-color="#0073e4"/><stop offset="0.707" stop-color="#0068e7"/><stop offset="0.737" stop-color="#0065e8"/><stop offset="0.859" stop-color="#0064e8"/><stop offset="1" stop-color="#0065e8"/></linearGradient>
<linearGradient id="ge164"><stop offset="0" stop-color="#0065e8"/><stop offset="0.212" stop-color="#0064e8"/><stop offset="0.263" stop-color="#3a35a5"/><stop offset="0.333" stop-color="#3a35a6"/><stop offset="0.374" stop-color="#0065e8"/><stop offset="0.424" stop-color="#0067e7"/><stop offset="0.455" stop-color="#0091db"/><stop offset="0.515" stop-color="#0093da"/><stop offset="0.556" stop-color="#009fd2"/><stop offset="0.626" stop-color="#009ed3"/><stop offset="0.657" stop-color="#0093da"/><stop offset="0.677" stop-color="#0093da"/><stop offset="0.687" stop-color="#008cdd"/><stop offset="0.707" stop-color="#0073e4"/><stop offset="0.758" stop-color="#006be7"/><stop offset="0.798" stop-color="#0064e8"/><stop offset="1" stop-color="#0065e8"/></linearGradient>
<linearGradient id="ge165"><stop offset="0" stop-color="#007ce1"/><stop offset="0.212" stop-color="#007ce1"/><stop offset="0.222" stop-color="#0078e2"/><stop offset="0.263" stop-color="#383cb5"/><stop offset="0.283" stop-color="#3b33a1"/><stop offset="0.323" stop-color="#3b33a2"/><stop offset="0.343" stop-color="#254dd0"/><stop offset="0.364" stop-color="#0077e3"/><stop offset="0.384" stop-color="#007ce1"/><stop offset="0.424" stop-color="#007fe0"/><stop offset="0.455" stop-color="#00adc1"/><stop offset="0.515" stop-color="#00afbe"/><stop offset="0.545" stop-color="#00be89"/><stop offset="0.626" stop-color="#00bd8b"/><stop offset="0.657" stop-color="#00afbf"/><stop offset="0.677" stop-color="#00afbe"/><stop offset="0.687" stop-color="#00acc4"/><stop offset="0.707" stop-color="#009bd5"/><stop offset="0.747" stop-color="#0096d8"/><stop offset="0.778" stop-color="#007de1"/><stop offset="0.848" stop-color="#007be1"/><stop offset="1" stop-color="#007ce1"/></linearGradient>
<linearGradient id="ge166"><stop offset="0" stop-color="#0087de"/><stop offset="0.222" stop-color="#0086de"/><stop offset="0.242" stop-color="#0070e5"/><stop offset="0.263" stop-color="#3046c4"/><stop offset="0.273" stop-color="#3a36a8"/><stop offset="0.323" stop-color="#3938ab"/><stop offset="0.343" stop-color="#0262e7"/><stop offset="0.354" stop-color="#0076e3"/><stop offset="0.364" stop-color="#0085df"/><stop offset="0.424" stop-color="#008add"/><stop offset="0.455" stop-color="#00b4b4"/><stop offset="0.515" stop-color="#00b5af"/><stop offset="0.545" stop-color="#3ac07d"/><stop offset="0.626" stop-color="#34c07e"/><stop offset="0.657" stop-color="#00b5b0"/><stop offset="0.677" stop-color="#00b5b0"/><stop offset="0.687" stop-color="#00b3b8"/><stop offset="0.707" stop-color="#00a4ce"/><stop offset="0.747" stop-color="#009fd2"/><stop offset="0.778" stop-color="#0088de"/><stop offset="1" stop-color="#0087de"/></linearGradient>
<linearGradient id="ge167"><stop offset="0" stop-color="#0087de"/><stop offset="0.222" stop-color="#0087de"/><stop offset="0.232" stop-color="#0082df"/><stop offset="0.273" stop-color="#383db6"/><stop offset="0.313" stop-color="#3b34a3"/><stop offset="0.323" stop-color="#373fbb"/><stop offset="0.343" stop-color="#006ae7"/><stop offset="0.354" stop-color="#007ce1"/><stop offset="0.364" stop-color="#0087de"/><stop offset="0.424" stop-color="#008add"/><stop offset="0.455" stop-color="#00b4b4"/><stop offset="0.515" stop-color="#00b5af"/><stop offset="0.545" stop-color="#3ac07d"/><stop offset="0.626" stop-color="#34c07e"/><stop offset="0.657" stop-color="#00b5b0"/><stop offset="0.677" stop-color="#00b5b0"/><stop offset="0.687" stop-color="#00b3b8"/><stop offset="0.707" stop-color="#00a4ce"/><stop offset="0.747" stop-color="#009fd2"/><stop offset="0.778" stop-color="#0088de"/><stop offset="1" stop-color="#0087de"/></linearGradient>
<linearGradient id="ge168"><stop offset="0" stop-color="#0087de"/><stop offset="0.232" stop-color="#0085de"/><stop offset="0.253" stop-color="#006fe6"/><stop offset="0.273" stop-color="#3145c3"/><stop offset="0.313" stop-color="#3938ad"/><stop offset="0.333" stop-color="#0460e5"/><stop offset="0.354" stop-color="#0081e0"/><stop offset="0.374" stop-color="#0087de"/><stop offset="0.424" stop-color="#008add"/><stop offset="0.455" stop-color="#00b4b4"/><stop offset="0.515" stop-color="#00b5af"/><stop offset="0.545" stop-color="#3ac07d"/><stop offset="0.626" stop-color="#34c07e"/><stop offset="0.657" stop-color="#00b5b0"/><stop offset="0.677" stop-color="#00b5b0"/><stop offset="0.687" stop-color="#00b3b8"/><stop offset="0.707" stop-color="#00a4ce"/><stop offset="0.747" stop-color="#009fd2"/><stop offset="0.778" stop-color="#0088de"/><stop offset="1" stop-color="#0087de"/></linearGradient>
<linearGradient id="ge169"><stop offset="0" stop-color="#0087de"/><stop offset="0.232" stop-color="#0087de"/><stop offset="0.242" stop-color="#0081e0"/><stop offset="0.273" stop-color="#264dcf"/><stop offset="0.313" stop-color="#3640bd"/><stop offset="0.333" stop-color="#0069e7"/><stop offset="0.354" stop-color="#0085df"/><stop offset="0.424" stop-color="#008add"/><stop offset="0.455" stop-color="#00b4b4"/><stop offset="0.515" stop-color="#00b5af"/><stop offset="0.545" stop-color="#3ac07d"/><stop offset="0.626" stop-color="#34c07e"/><stop offset="0.657" stop-color="#00b5b0"/><stop offset="0.677" stop-color="#00b5b0"/><stop offset="0.687" stop-color="#00b3b8"/><stop offset="0.707" stop-color="#00a4ce"/><stop offset="0.747" stop-color="#009fd2"/><stop offset="0.778" stop-color="#0088de"/><stop offset="1" stop-color="#0087de"/></linearGradient>
<linearGradient id="ge170"><stop offset="0" stop-color="#0087de"/><stop offset="0.242" stop-color="#0085df"/><stop offset="0.263" stop-color="#006ee6"/><stop offset="0.273" stop-color="#095be2"/><stop offset="0.303" stop-color="#2b4aca"/><stop offset="0.313" stop-color="#2e47c7"/><stop offset="0.343" stop-color="#007de1"/><stop offset="0.354" stop-color="#0087de"/><stop offset="0.424" stop-color="#008add"/><stop offset="0.455" stop-color="#00b4b4"/><stop offset="0.515" stop-color="#00b5af"/><stop offset="0.545" stop-color="#3ac07d"/><stop offset="0.626" stop-color="#34c07e"/><stop offset="0.657" stop-color="#00b5b0"/><stop offset="0.677" stop-color="#00b5b0"/><stop offset="0.687" stop-color="#00b3b8"/><stop offset="0.707" stop-color="#00a4ce"/><stop offset="0.747" stop-color="#009fd2"/><stop offset="0.778" stop-color="#0088de"/><stop offset="1" stop-color="#0087de"/></linearGradient>
<linearGradient id="ge171"><stop offset="0" stop-color="#0087de"/><stop offset="0.242" stop-color="#0087de"/><stop offset="0.253" stop-color="#0081e0"/><stop offset="0.273" stop-color="#0066e8"/><stop offset="0.303" stop-color="#0f57de"/><stop offset="0.313" stop-color="#1853d8"/><stop offset="0.343" stop-color="#0082df"/><stop offset="0.364" stop-color="#0087de"/><stop offset="0.424" stop-color="#008add"/><stop offset="0.455" stop-color="#00b4b4"/><stop offset="0.515" stop-color="#00b5af"/><stop offset="0.545" stop-color="#3ac07d"/><stop offset="0.626" stop-color="#34c07e"/><stop offset="0.657" stop-color="#00b5b0"/><stop offset="0.677" stop-color="#00b5b0"/><stop offset="0.687" stop-color="#00b3b8"/><stop offset="0.707" stop-color="#00a4ce"/><stop offset="0.747" stop-color="#009fd2"/><stop offset="0.778" stop-color="#0088de"/><stop offset="1" stop-color="#0087de"/></linearGradient>
<linearGradient id="ge172"><stop offset="0" stop-color="#0087de"/><stop offset="0.253" stop-color="#0085df"/><stop offset="0.273" stop-color="#006de6"/><stop offset="0.303" stop-color="#0163e8"/><stop offset="0.313" stop-color="#0460e5"/><stop offset="0.333" stop-color="#007ce1"/><stop offset="0.343" stop-color="#0085de"/><stop offset="0.424" stop-color="#008add"/><stop offset="0.455" stop-color="#00b4b4"/><stop offset="0.515" stop-color="#00b5af"/><stop offset="0.545" stop-color="#3ac07d"/><stop offset="0.626" stop-color="#34c07e"/><stop offset="0.657" stop-color="#00b5b0"/><stop offset="0.677" stop-color="#00b5b0"/><stop offset="0.687" stop-color="#00b3b8"/><stop offset="0.707" stop-color="#00a4ce"/><stop offset="0.747" stop-color="#009fd2"/><stop offset="0.778" stop-color="#0088de"/><stop offset="1" stop-color="#0087de"/></linearGradient>
<linearGradient id="ge173"><stop offset="0" stop-color="#0087de"/><stop offset="0.253" stop-color="#0087de"/><stop offset="0.263" stop-color="#0080e0"/><stop offset="0.273" stop-color="#0074e4"/><stop offset="0.303" stop-color="#006ae7"/><stop offset="0.313" stop-color="#0069e7"/><stop offset="0.333" stop-color="#0081e0"/><stop offset="0.354" stop-color="#0087de"/><stop offset="0.424" stop-color="#0088de"/><stop offset="0.455" stop-color="#00a0d2"/><stop offset="0.636" stop-color="#00a2d0"/><stop offset="0.677" stop-color="#00a1d1"/><stop offset="0.707" stop-color="#008ddc"/><stop offset="0.859" stop-color="#0087de"/><stop offset="1" stop-color="#0087de"/></linearGradient>
<linearGradient id="ge174"><stop offset="0" stop-color="#0087de"/><stop offset="0.263" stop-color="#0084df"/><stop offset="0.283" stop-color="#0075e4"/><stop offset="0.313" stop-color="#006fe6"/><stop offset="0.333" stop-color="#0085df"/><stop offset="0.424" stop-color="#0088de"/><stop offset="0.455" stop-color="#009dd4"/><stop offset="0.677" stop-color="#009ed3"/><stop offset="0.707" stop-color="#008add"/><stop offset="1" stop-color="#0087de"/></linearGradient>
<linearGradient id="ge175"><stop offset="0" stop-color="#0087de"/><stop offset="0.263" stop-color="#0086de"/><stop offset="0.293" stop-color="#0079e2"/><stop offset="0.313" stop-color="#0076e3"/><stop offset="0.333" stop-color="#0087de"/><stop offset="0.424" stop-color="#0088de"/><stop offset="0.455" stop-color="#009dd4"/><stop offset="0.677" stop-color="#009ed3"/><stop offset="0.707" stop-color="#008add"/><stop offset="1" stop-color="#0087de"/></linearGradient>
<linearGradient id="ge176"><stop offset="0" stop-color="#0087de"/><stop offset="0.263" stop-color="#0087de"/><stop offset="0.313" stop-color="#007ce1"/><stop offset="0.323" stop-color="#0084df"/><stop offset="0.424" stop-color="#0088de"/><stop offset="0.455" stop-color="#009dd4"/><stop offset="0.677" stop-color="#009ed3"/><stop offset="0.707" stop-color="#008add"/><stop offset="1" stop-color="#0087de"/></linearGradient>
<linearGradient id="ge177"><stop offset="0" stop-color="#0087de"/><stop offset="0.283" stop-color="#0084df"/><stop offset="0.313" stop-color="#0081e0"/><stop offset="0.333" stop-color="#0087de"/><stop offset="0.424" stop-color="#008add"/><stop offset="0.455" stop-color="#00aec0"/><stop offset="0.677" stop-color="#00b0bd"/><stop offset="0.687" stop-color="#00abc5"/><stop offset="0.707" stop-color="#0097d8"/><stop offset="0.747" stop-color="#0094da"/><stop offset="0.798" stop-color="#008edc"/><stop offset="0.848" stop-color="#0087de"/><stop offset="1" stop-color="#0087de"/></linearGradient>
<linearGradient id="ge178"><stop offset="0" stop-color="#0087de"/><stop offset="0.414" stop-color="#0087de"/><stop offset="0.424" stop-color="#008bdd"/><stop offset="0.434" stop-color="#009fd2"/><stop offset="0.444" stop-color="#00b1ba"/><stop offset="0.455" stop-color="#00ba9c"/><stop offset="0.677" stop-color="#00bc93"/><stop offset="0.687" stop-color="#00b8a5"/><stop offset="0.707" stop-color="#00a0d2"/><stop offset="0.717" stop-color="#009dd4"/><stop offset="0.778" stop-color="#009dd4"/><stop offset="0.828" stop-color="#0087de"/><stop offset="1" stop-color="#0087de"/></linearGradient>
<linearGradient id="ge179"><stop offset="0" stop-color="#0075e4"/><stop offset="0.414" stop-color="#0075e4"/><stop offset="0.424" stop-color="#0078e2"/><stop offset="0.434" stop-color="#008fdc"/><stop offset="0.444" stop-color="#00a6cc"/><stop offset="0.455" stop-color="#00b2b9"/><stop offset="0.677" stop-color="#00b4b3"/><stop offset="0.687" stop-color="#00afbf"/><stop offset="0.707" stop-color="#0090db"/><stop offset="0.717" stop-color="#008bdd"/><stop offset="0.778" stop-color="#008bdd"/><stop offset="0.828" stop-color="#0075e4"/><stop offset="1" stop-color="#0075e4"/></linearGradient>
<linearGradient id="ge180"><stop offset="0" stop-color="#006de6"/><stop offset="0.414" stop-color="#006de6"/><stop offset="0.424" stop-color="#0070e5"/><stop offset="0.434" stop-color="#0085de"/><stop offset="0.444" stop-color="#00a0d2"/><stop offset="0.455" stop-color="#00adc3"/><stop offset="0.677" stop-color="#00b0bd"/><stop offset="0.687" stop-color="#00aac8"/><stop offset="0.707" stop-color="#0087de"/><stop offset="0.717" stop-color="#0082df"/><stop offset="0.778" stop-color="#0082df"/><stop offset="0.828" stop-color="#006de6"/><stop offset="1" stop-color="#006de6"/></linearGradient>
<linearGradient id="ge181"><stop offset="0" stop-color="#1156dd"/><stop offset="0.0909" stop-color="#1156dd"/><stop offset="0.101" stop-color="#0361e6"/><stop offset="0.111" stop-color="#006ee6"/><stop offset="0.414" stop-color="#006fe6"/><stop offset="0.424" stop-color="#0073e4"/><stop offset="0.444" stop-color="#00a1d1"/><stop offset="0.455" stop-color="#00adc2"/><stop offset="0.677" stop-color="#00b0bd"/><stop offset="0.687" stop-color="#00aac8"/><stop offset="0.707" stop-color="#008add"/><stop offset="0.717" stop-color="#0085df"/><stop offset="0.778" stop-color="#0085df"/><stop offset="0.828" stop-color="#006fe5"/><stop offset="1" stop-color="#006fe6"/></linearGradient>
<linearGradient id="ge182"><stop offset="0" stop-color="#38278a"/><stop offset="0.0909" stop-color="#38278a"/><stop offset="0.101" stop-color="#1b52d6"/><stop offset="0.111" stop-color="#0096d9"/><stop offset="0.141" stop-color="#0099d6"/><stop offset="0.424" stop-color="#009bd5"/><stop offset="0.455" stop-color="#00b1bb"/><stop offset="0.687" stop-color="#00b2b9"/><stop offset="0.707" stop-color="#00aac8"/><stop offset="0.778" stop-color="#00aac8"/><stop offset="0.828" stop-color="#0099d6"/><stop offset="1" stop-color="#0099d6"/></linearGradient>
<linearGradient id="ge183"><stop offset="0" stop-color="#38278a"/><stop offset="0.0909" stop-color="#38278a"/><stop offset="0.101" stop-color="#3939ad"/><stop offset="0.111" stop-color="#0066e8"/><stop offset="1" stop-color="#0067e7"/></linearGradient>
<linearGradient id="ge184"><stop offset="0" stop-color="#38278a"/><stop offset="0.0909" stop-color="#38278a"/><stop offset="0.111" stop-color="#3939af"/><stop offset="0.424" stop-color="#383bb2"/><stop offset="0.444" stop-color="#0067e7"/><stop offset="0.455" stop-color="#006ee6"/><stop offset="1" stop-color="#006ee6"/></linearGradient>
<linearGradient id="ge185"><stop offset="0" stop-color="#38278a"/><stop offset="0.424" stop-color="#39288d"/><stop offset="0.434" stop-color="#383db7"/><stop offset="0.444" stop-color="#0361e6"/><stop offset="0.455" stop-color="#006de6"/><stop offset="1" stop-color="#006de6"/></linearGradient>
</defs>
<rect x="1415.6" y="426.3" width="511.3" height="2.5" fill="url(#ge0)"/>
<rect x="1415.6" y="428.3" width="511.3" height="2.5" fill="url(#ge1)"/>
<rect x="1415.6" y="430.3" width="511.3" height="2.5" fill="url(#ge2)"/>
<rect x="1415.6" y="432.3" width="511.3" height="2.5" fill="url(#ge3)"/>
<rect x="1415.6" y="434.3" width="511.3" height="2.5" fill="url(#ge4)"/>
<rect x="1415.6" y="436.3" width="511.3" height="2.5" fill="url(#ge5)"/>
<rect x="1415.6" y="438.3" width="511.3" height="2.5" fill="url(#ge6)"/>
<rect x="1415.6" y="440.3" width="511.3" height="2.5" fill="url(#ge7)"/>
<rect x="1415.6" y="442.3" width="511.3" height="2.5" fill="url(#ge8)"/>
<rect x="1415.6" y="444.3" width="511.3" height="2.5" fill="url(#ge9)"/>
<rect x="1415.6" y="446.3" width="511.3" height="2.5" fill="url(#ge10)"/>
<rect x="1415.6" y="448.3" width="511.3" height="2.5" fill="url(#ge11)"/>
<rect x="1415.6" y="450.3" width="511.3" height="2.5" fill="url(#ge12)"/>
<rect x="1415.6" y="452.3" width="511.3" height="2.5" fill="url(#ge13)"/>
<rect x="1415.6" y="454.3" width="511.3" height="2.5" fill="url(#ge14)"/>
<rect x="1415.6" y="456.3" width="511.3" height="2.5" fill="url(#ge15)"/>
<rect x="1415.6" y="458.3" width="511.3" height="2.5" fill="url(#ge16)"/>
<rect x="1415.6" y="460.3" width="511.3" height="2.5" fill="url(#ge17)"/>
<rect x="1415.6" y="462.3" width="511.3" height="2.5" fill="url(#ge18)"/>
<rect x="1415.6" y="464.3" width="511.3" height="2.5" fill="url(#ge19)"/>
<rect x="1415.6" y="466.3" width="511.3" height="2.5" fill="url(#ge20)"/>
<rect x="1415.6" y="468.3" width="511.3" height="2.5" fill="url(#ge21)"/>
<rect x="1415.6" y="470.3" width="511.3" height="2.5" fill="url(#ge22)"/>
<rect x="1415.6" y="472.3" width="511.3" height="2.5" fill="url(#ge23)"/>
<rect x="1415.6" y="474.3" width="511.3" height="2.5" fill="url(#ge24)"/>
<rect x="1415.6" y="476.3" width="511.3" height="2.5" fill="url(#ge25)"/>
<rect x="1415.6" y="478.3" width="511.3" height="2.5" fill="url(#ge26)"/>
<rect x="1415.6" y="480.3" width="511.3" height="2.5" fill="url(#ge27)"/>
<rect x="1415.6" y="482.3" width="511.3" height="2.5" fill="url(#ge28)"/>
<rect x="1415.6" y="484.3" width="511.3" height="2.5" fill="url(#ge29)"/>
<rect x="1415.6" y="486.3" width="511.3" height="2.5" fill="url(#ge30)"/>
<rect x="1415.6" y="488.3" width="511.3" height="2.5" fill="url(#ge31)"/>
<rect x="1415.6" y="490.3" width="511.3" height="2.5" fill="url(#ge32)"/>
<rect x="1415.6" y="492.3" width="511.3" height="2.5" fill="url(#ge33)"/>
<rect x="1415.6" y="494.3" width="511.3" height="2.5" fill="url(#ge34)"/>
<rect x="1415.6" y="496.3" width="511.3" height="2.5" fill="url(#ge35)"/>
<rect x="1415.6" y="498.3" width="511.3" height="2.5" fill="url(#ge36)"/>
<rect x="1415.6" y="500.3" width="511.3" height="2.5" fill="url(#ge37)"/>
<rect x="1415.6" y="502.3" width="511.3" height="2.5" fill="url(#ge38)"/>
<rect x="1415.6" y="504.3" width="511.3" height="2.5" fill="url(#ge39)"/>
<rect x="1415.6" y="506.3" width="511.3" height="2.5" fill="url(#ge40)"/>
<rect x="1415.6" y="508.3" width="511.3" height="2.5" fill="url(#ge41)"/>
<rect x="1415.6" y="510.3" width="511.3" height="2.5" fill="url(#ge42)"/>
<rect x="1415.6" y="512.3" width="511.3" height="2.5" fill="url(#ge43)"/>
<rect x="1415.6" y="514.3" width="511.3" height="2.5" fill="url(#ge44)"/>
<rect x="1415.6" y="516.3" width="511.3" height="2.5" fill="url(#ge45)"/>
<rect x="1415.6" y="518.3" width="511.3" height="2.5" fill="url(#ge46)"/>
<rect x="1415.6" y="520.3" width="511.3" height="2.5" fill="url(#ge47)"/>
<rect x="1415.6" y="522.3" width="511.3" height="2.5" fill="url(#ge48)"/>
<rect x="1415.6" y="524.3" width="511.3" height="2.5" fill="url(#ge49)"/>
<rect x="1415.6" y="526.3" width="511.3" height="2.5" fill="url(#ge50)"/>
<rect x="1415.6" y="528.3" width="511.3" height="2.5" fill="url(#ge51)"/>
<rect x="1415.6" y="530.3" width="511.3" height="2.5" fill="url(#ge52)"/>
<rect x="1415.6" y="532.3" width="511.3" height="2.5" fill="url(#ge53)"/>
<rect x="1415.6" y="534.3" width="511.3" height="2.5" fill="url(#ge54)"/>
<rect x="1415.6" y="536.3" width="511.3" height="2.5" fill="url(#ge55)"/>
<rect x="1415.6" y="538.3" width="511.3" height="2.5" fill="url(#ge56)"/>
<rect x="1415.6" y="540.3" width="511.3" height="2.5" fill="url(#ge57)"/>
<rect x="1415.6" y="542.3" width="511.3" height="2.5" fill="url(#ge58)"/>
<rect x="1415.6" y="544.3" width="511.3" height="2.5" fill="url(#ge59)"/>
<rect x="1415.6" y="546.3" width="511.3" height="2.5" fill="url(#ge60)"/>
<rect x="1415.6" y="548.3" width="511.3" height="2.5" fill="url(#ge61)"/>
<rect x="1415.6" y="550.3" width="511.3" height="2.5" fill="url(#ge62)"/>
<rect x="1415.6" y="552.3" width="511.3" height="2.5" fill="url(#ge63)"/>
<rect x="1415.6" y="554.3" width="511.3" height="2.5" fill="url(#ge64)"/>
<rect x="1415.6" y="556.3" width="511.3" height="2.5" fill="url(#ge65)"/>
<rect x="1415.6" y="558.3" width="511.3" height="2.5" fill="url(#ge66)"/>
<rect x="1415.6" y="560.3" width="511.3" height="2.5" fill="url(#ge67)"/>
<rect x="1415.6" y="562.3" width="511.3" height="2.5" fill="url(#ge68)"/>
<rect x="1415.6" y="564.3" width="511.3" height="2.5" fill="url(#ge69)"/>
<rect x="1415.6" y="566.3" width="511.3" height="2.5" fill="url(#ge70)"/>
<rect x="1415.6" y="568.3" width="511.3" height="2.5" fill="url(#ge71)"/>
<rect x="1415.6" y="570.3" width="511.3" height="2.5" fill="url(#ge72)"/>
<rect x="1415.6" y="572.3" width="511.3" height="2.5" fill="url(#ge73)"/>
<rect x="1415.6" y="574.3" width="511.3" height="2.5" fill="url(#ge74)"/>
<rect x="1415.6" y="576.3" width="511.3" height="2.5" fill="url(#ge75)"/>
<rect x="1415.6" y="578.3" width="511.3" height="2.5" fill="url(#ge76)"/>
<rect x="1415.6" y="580.3" width="511.3" height="2.5" fill="url(#ge77)"/>
<rect x="1415.6" y="582.3" width="511.3" height="2.5" fill="url(#ge78)"/>
<rect x="1415.6" y="584.3" width="511.3" height="2.5" fill="url(#ge79)"/>
<rect x="1415.6" y="586.3" width="511.3" height="2.5" fill="url(#ge80)"/>
<rect x="1415.6" y="588.3" width="511.3" height="2.5" fill="url(#ge81)"/>
<rect x="1415.6" y="590.3" width="511.3" height="2.5" fill="url(#ge82)"/>
<rect x="1415.6" y="592.3" width="511.3" height="2.5" fill="url(#ge83)"/>
<rect x="1415.6" y="594.3" width="511.3" height="2.5" fill="url(#ge84)"/>
<rect x="1415.6" y="596.3" width="511.3" height="2.5" fill="url(#ge85)"/>
<rect x="1415.6" y="598.3" width="511.3" height="2.5" fill="url(#ge86)"/>
<rect x="1415.6" y="600.3" width="511.3" height="2.5" fill="url(#ge87)"/>
<rect x="1415.6" y="602.3" width="511.3" height="2.5" fill="url(#ge88)"/>
<rect x="1415.6" y="604.3" width="511.3" height="2.5" fill="url(#ge89)"/>
<rect x="1415.6" y="606.3" width="511.3" height="2.5" fill="url(#ge90)"/>
<rect x="1415.6" y="608.3" width="511.3" height="2.5" fill="url(#ge91)"/>
<rect x="1415.6" y="610.3" width="511.3" height="2.5" fill="url(#ge92)"/>
<rect x="1415.6" y="612.3" width="511.3" height="2.5" fill="url(#ge93)"/>
<rect x="1415.6" y="614.3" width="511.3" height="2.5" fill="url(#ge94)"/>
<rect x="1415.6" y="616.3" width="511.3" height="2.5" fill="url(#ge95)"/>
<rect x="1415.6" y="618.3" width="511.3" height="2.5" fill="url(#ge96)"/>
<rect x="1415.6" y="620.3" width="511.3" height="2.5" fill="url(#ge97)"/>
<rect x="1415.6" y="622.3" width="511.3" height="2.5" fill="url(#ge98)"/>
<rect x="1415.6" y="624.3" width="511.3" height="2.5" fill="url(#ge99)"/>
<rect x="1415.6" y="626.3" width="511.3" height="2.5" fill="url(#ge100)"/>
<rect x="1415.6" y="628.3" width="511.3" height="2.5" fill="url(#ge101)"/>
<rect x="1415.6" y="630.3" width="511.3" height="2.5" fill="url(#ge102)"/>
<rect x="1415.6" y="632.3" width="511.3" height="2.5" fill="url(#ge103)"/>
<rect x="1415.6" y="634.3" width="511.3" height="2.5" fill="url(#ge104)"/>
<rect x="1415.6" y="636.3" width="511.3" height="2.5" fill="url(#ge105)"/>
<rect x="1415.6" y="638.3" width="511.3" height="2.5" fill="url(#ge106)"/>
<rect x="1415.6" y="640.3" width="511.3" height="2.5" fill="url(#ge107)"/>
<rect x="1415.6" y="642.3" width="511.3" height="2.5" fill="url(#ge108)"/>
<rect x="1415.6" y="644.3" width="511.3" height="2.5" fill="url(#ge109)"/>
<rect x="1415.6" y="646.3" width="511.3" height="2.5" fill="url(#ge110)"/>
<rect x="1415.6" y="648.3" width="511.3" height="2.5" fill="url(#ge111)"/>
<rect x="1415.6" y="650.3" width="511.3" height="2.5" fill="url(#ge112)"/>
<rect x="1415.6" y="652.3" width="511.3" height="2.5" fill="url(#ge113)"/>
<rect x="1415.6" y="654.3" width="511.3" height="2.5" fill="url(#ge114)"/>
<rect x="1415.6" y="656.3" width="511.3" height="2.5" fill="url(#ge115)"/>
<rect x="1415.6" y="658.3" width="511.3" height="2.5" fill="url(#ge116)"/>
<rect x="1415.6" y="660.3" width="511.3" height="2.5" fill="url(#ge117)"/>
<rect x="1415.6" y="662.3" width="511.3" height="6.5" fill="url(#ge118)"/>
<rect x="1415.6" y="668.3" width="511.3" height="2.5" fill="url(#ge119)"/>
<rect x="1415.6" y="670.3" width="511.3" height="8.5" fill="#fee100"/>
<rect x="1415.6" y="678.3" width="511.3" height="2.5" fill="#ffda00"/>
<rect x="1415.6" y="680.3" width="511.3" height="4.5" fill="url(#ge120)"/>
<rect x="1415.6" y="684.3" width="511.3" height="4.5" fill="url(#ge121)"/>
<rect x="1415.6" y="688.3" width="511.3" height="2.5" fill="url(#ge122)"/>
<rect x="1415.6" y="690.3" width="511.3" height="2.5" fill="url(#ge123)"/>
<rect x="1415.6" y="692.3" width="511.3" height="2.5" fill="url(#ge124)"/>
<rect x="1415.6" y="694.3" width="511.3" height="2.5" fill="url(#ge125)"/>
<rect x="1415.6" y="696.3" width="511.3" height="2.5" fill="url(#ge126)"/>
<rect x="1415.6" y="698.3" width="511.3" height="2.5" fill="url(#ge127)"/>
<rect x="1415.6" y="700.3" width="511.3" height="2.5" fill="url(#ge128)"/>
<rect x="1415.6" y="702.3" width="511.3" height="2.5" fill="url(#ge129)"/>
<rect x="1415.6" y="704.3" width="511.3" height="2.5" fill="url(#ge130)"/>
<rect x="1415.6" y="706.3" width="511.3" height="2.5" fill="url(#ge131)"/>
<rect x="1415.6" y="708.3" width="511.3" height="2.5" fill="url(#ge132)"/>
<rect x="1415.6" y="710.3" width="511.3" height="2.5" fill="url(#ge133)"/>
<rect x="1415.6" y="712.3" width="511.3" height="2.5" fill="url(#ge134)"/>
<rect x="1415.6" y="714.3" width="511.3" height="2.5" fill="url(#ge135)"/>
<rect x="1415.6" y="716.3" width="511.3" height="2.5" fill="url(#ge136)"/>
<rect x="1415.6" y="718.3" width="511.3" height="2.5" fill="url(#ge137)"/>
<rect x="1415.6" y="720.3" width="511.3" height="2.5" fill="url(#ge138)"/>
<rect x="1415.6" y="722.3" width="511.3" height="2.5" fill="url(#ge139)"/>
<rect x="1415.6" y="724.3" width="511.3" height="2.5" fill="url(#ge140)"/>
<rect x="1415.6" y="726.3" width="511.3" height="2.5" fill="url(#ge141)"/>
<rect x="1415.6" y="728.3" width="511.3" height="2.5" fill="url(#ge142)"/>
<rect x="1415.6" y="730.3" width="511.3" height="2.5" fill="url(#ge143)"/>
<rect x="1415.6" y="732.3" width="511.3" height="2.5" fill="url(#ge144)"/>
<rect x="1415.6" y="734.3" width="511.3" height="2.5" fill="url(#ge145)"/>
<rect x="1415.6" y="736.3" width="511.3" height="2.5" fill="url(#ge146)"/>
<rect x="1415.6" y="738.3" width="511.3" height="2.5" fill="url(#ge147)"/>
<rect x="1415.6" y="740.3" width="511.3" height="2.5" fill="url(#ge148)"/>
<rect x="1415.6" y="742.3" width="511.3" height="2.5" fill="url(#ge149)"/>
<rect x="1415.6" y="744.3" width="511.3" height="2.5" fill="url(#ge150)"/>
<rect x="1415.6" y="746.3" width="511.3" height="2.5" fill="url(#ge151)"/>
<rect x="1415.6" y="748.3" width="511.3" height="2.5" fill="url(#ge152)"/>
<rect x="1415.6" y="750.3" width="511.3" height="2.5" fill="url(#ge153)"/>
<rect x="1415.6" y="752.3" width="511.3" height="2.5" fill="url(#ge154)"/>
<rect x="1415.6" y="754.3" width="511.3" height="2.5" fill="url(#ge155)"/>
<rect x="1415.6" y="756.3" width="511.3" height="2.5" fill="url(#ge156)"/>
<rect x="1415.6" y="758.3" width="511.3" height="2.5" fill="url(#ge157)"/>
<rect x="1415.6" y="760.3" width="511.3" height="2.5" fill="url(#ge158)"/>
<rect x="1415.6" y="762.3" width="511.3" height="2.5" fill="url(#ge159)"/>
<rect x="1415.6" y="764.3" width="511.3" height="2.5" fill="url(#ge160)"/>
<rect x="1415.6" y="766.3" width="511.3" height="2.5" fill="url(#ge161)"/>
<rect x="1415.6" y="768.3" width="511.3" height="2.5" fill="url(#ge162)"/>
<rect x="1415.6" y="770.3" width="511.3" height="2.5" fill="url(#ge163)"/>
<rect x="1415.6" y="772.3" width="511.3" height="2.5" fill="url(#ge164)"/>
<rect x="1415.6" y="774.3" width="511.3" height="2.5" fill="url(#ge165)"/>
<rect x="1415.6" y="776.3" width="511.3" height="2.5" fill="url(#ge166)"/>
<rect x="1415.6" y="778.3" width="511.3" height="2.5" fill="url(#ge167)"/>
<rect x="1415.6" y="780.3" width="511.3" height="2.5" fill="url(#ge168)"/>
<rect x="1415.6" y="782.3" width="511.3" height="2.5" fill="url(#ge169)"/>
<rect x="1415.6" y="784.3" width="511.3" height="2.5" fill="url(#ge170)"/>
<rect x="1415.6" y="786.3" width="511.3" height="2.5" fill="url(#ge171)"/>
<rect x="1415.6" y="788.3" width="511.3" height="2.5" fill="url(#ge172)"/>
<rect x="1415.6" y="790.3" width="511.3" height="2.5" fill="url(#ge173)"/>
<rect x="1415.6" y="792.3" width="511.3" height="2.5" fill="url(#ge174)"/>
<rect x="1415.6" y="794.3" width="511.3" height="2.5" fill="url(#ge175)"/>
<rect x="1415.6" y="796.3" width="511.3" height="2.5" fill="url(#ge176)"/>
<rect x="1415.6" y="798.3" width="511.3" height="2.5" fill="url(#ge177)"/>
<rect x="1415.6" y="800.3" width="511.3" height="2.5" fill="url(#ge178)"/>
<rect x="1415.6" y="802.3" width="511.3" height="2.5" fill="url(#ge179)"/>
<rect x="1415.6" y="804.3" width="511.3" height="2.5" fill="url(#ge180)"/>
<rect x="1415.6" y="806.3" width="511.3" height="2.5" fill="url(#ge181)"/>
<rect x="1415.6" y="808.3" width="511.3" height="6.5" fill="url(#ge182)"/>
<rect x="1415.6" y="814.3" width="511.3" height="4.5" fill="url(#ge183)"/>
<rect x="1415.6" y="818.3" width="511.3" height="2.5" fill="url(#ge184)"/>
<rect x="1415.6" y="820.3" width="511.3" height="6.5" fill="url(#ge185)"/>
<rect x="1415.6" y="826.3" width="511.3" height="2.5" fill="#39288c"/>
</g>
<rect x="1415.6" y="669.8" width="511.3" height="4.2" fill="#f00"/>
<rect x="1434.0" y="465.4" width="1.400" height="362.6" fill="#fff" fill-opacity=".93"/>
<rect x="1649.5" y="463" width="1.400" height="365" fill="#fff" fill-opacity=".93"/>
<rect x="1711.0" y="463" width="1.400" height="365" fill="#fff" fill-opacity=".93"/>
<rect x="1906.0" y="485" width="1.400" height="343" fill="#fff" fill-opacity=".93"/>
<text class="w" x="1430.5" y="454.6">Precue</text>
<text class="w" x="1649.2" y="454.6" text-anchor="middle" style="font-size:26.5px">T1</text>
<text class="w" x="1711.7" y="454.6" text-anchor="middle" style="font-size:26.5px">T2</text>
<text class="w" x="1912.3" y="451.9" text-anchor="end">Response</text>
<text class="w" x="1912.3" y="479" text-anchor="end">cue</text>
<rect x="1412.6" y="426.2" width="6" height="407.500"/>
<rect x="1405.1" y="827.8" width="522.2" height="5.800"/>
<rect x="1405.1" y="427.3" width="8" height="4.800"/>
<rect x="1405.1" y="508.2" width="8" height="4.800"/>
<rect x="1405.1" y="588.8" width="8" height="4.800"/>
<rect x="1405.1" y="669.5" width="8" height="4.800"/>
<rect x="1405.1" y="750.4" width="8" height="4.800"/>
<rect x="1432.5" y="833" width="4.400" height="9.200"/>
<text class="k" x="1433.1" y="871.600" text-anchor="middle">0</text>
<rect x="1535.1" y="833" width="4.400" height="9.200"/>
<text class="k" x="1534.8" y="871.600" text-anchor="middle">500</text>
<rect x="1637.7" y="833" width="4.400" height="9.200"/>
<text class="k" x="1639.3" y="871.600" text-anchor="middle">1000</text>
<rect x="1740.3" y="833" width="4.400" height="9.200"/>
<text class="k" x="1740.3" y="871.600" text-anchor="middle">1500</text>
<rect x="1842.9" y="833" width="4.400" height="9.200"/>
<text class="k" x="1846.2" y="871.600" text-anchor="middle">2000</text>
<rect x="1943" y="426.300" width="12.400" height="404.500" fill="url(#par)"/>
<rect x="1952.6" y="516.5" width="13.400" height="4.400" fill="#262626"/>
<text class="k" transform="translate(1972.3 518.7) rotate(90)" text-anchor="middle">0.32</text>
<rect x="1952.6" y="646.1" width="13.400" height="4.400" fill="#262626"/>
<text class="k" transform="translate(1972.3 648.3) rotate(90)" text-anchor="middle">0.2</text>
<rect x="1952.6" y="776.7" width="13.400" height="4.400" fill="#262626"/>
<text class="k" transform="translate(1972.3 778.9) rotate(90)" text-anchor="middle">0.08</text>
</g>
<text class="t" transform="translate(30.800 628.500) rotate(-90)" text-anchor="middle" style="font-size:40px">Frequency (Hz)</text>
<text class="t" x="359.300" y="915.500" text-anchor="middle" style="font-size:39px">Time (ms)</text>
<rect x="1456" y="903.300" width="48.500" height="4.200" fill="#f00"/>
<text class="k" x="1511" y="915.500" style="font-size:26.65px">20 Hz = Stimulus temporal frequency</text>
</svg></body></html>
